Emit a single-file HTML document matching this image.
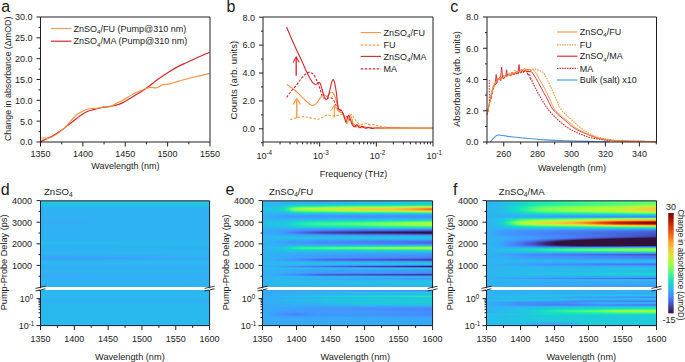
<!DOCTYPE html><html><head><meta charset="utf-8"><style>html,body{margin:0;padding:0;background:#fff;overflow:hidden;}svg{display:block;}</style></head><body><svg width="685" height="362" viewBox="0 0 685 362" font-family='"Liberation Sans", sans-serif'>
<rect width="685" height="362" fill="#fff"/>
<text x="1.3" y="11.7" font-size="16" text-anchor="start" fill="#1a1a1a" >a</text>
<text x="226.4" y="11.7" font-size="16" text-anchor="start" fill="#1a1a1a" >b</text>
<text x="450.3" y="11.7" font-size="16" text-anchor="start" fill="#1a1a1a" >c</text>
<text x="0.8" y="194.9" font-size="16" text-anchor="start" fill="#1a1a1a" >d</text>
<text x="225.5" y="194.6" font-size="16" text-anchor="start" fill="#1a1a1a" >e</text>
<text x="453.0" y="194.5" font-size="16" text-anchor="start" fill="#1a1a1a" >f</text>
<path d="M40.50,141.60 C41.75,141.02 45.65,139.23 48.00,138.10 C50.35,136.97 52.12,136.27 54.60,134.80 C57.08,133.33 60.57,130.97 62.90,129.30 C65.23,127.63 66.20,126.68 68.60,124.80 C71.00,122.92 75.07,119.72 77.30,118.00 C79.53,116.28 80.33,115.58 82.00,114.50 C83.67,113.42 85.38,112.32 87.30,111.50 C89.22,110.68 91.43,110.18 93.50,109.60 C95.57,109.02 97.90,108.40 99.70,108.00 C101.50,107.60 102.58,107.47 104.30,107.20 C106.02,106.93 108.02,106.73 110.00,106.40 C111.98,106.07 114.13,105.78 116.20,105.20 C118.27,104.62 120.33,103.90 122.40,102.90 C124.47,101.90 126.53,100.43 128.60,99.20 C130.67,97.97 132.72,96.75 134.80,95.50 C136.88,94.25 139.23,92.85 141.10,91.70 C142.97,90.55 144.15,89.93 146.00,88.60 C147.85,87.27 149.92,85.45 152.20,83.70 C154.48,81.95 156.73,80.18 159.70,78.10 C162.67,76.02 166.95,73.12 170.00,71.20 C173.05,69.28 175.38,67.97 178.00,66.60 C180.62,65.23 183.12,64.18 185.70,63.00 C188.28,61.82 190.95,60.67 193.50,59.50 C196.05,58.33 198.33,57.18 201.00,56.00 C203.67,54.82 208.08,53.00 209.50,52.40" fill="none" stroke="#d3262c" stroke-width="1.2" stroke-linejoin="round"/>
<path d="M40.50,138.40 C41.18,138.28 43.35,137.70 44.60,137.70 C45.85,137.70 46.33,138.75 48.00,138.40 C49.67,138.05 52.12,137.10 54.60,135.60 C57.08,134.10 60.57,131.40 62.90,129.40 C65.23,127.40 66.92,125.42 68.60,123.60 C70.28,121.78 71.55,120.05 73.00,118.50 C74.45,116.95 75.80,115.47 77.30,114.30 C78.80,113.13 80.33,112.33 82.00,111.50 C83.67,110.67 85.80,109.80 87.30,109.30 C88.80,108.80 89.55,108.67 91.00,108.50 C92.45,108.33 94.50,108.42 96.00,108.30 C97.50,108.18 98.62,108.08 100.00,107.80 C101.38,107.52 102.75,106.77 104.30,106.60 C105.85,106.43 107.85,107.02 109.30,106.80 C110.75,106.58 111.85,105.85 113.00,105.30 C114.15,104.75 114.63,104.32 116.20,103.50 C117.77,102.68 120.33,101.53 122.40,100.40 C124.47,99.27 126.53,97.93 128.60,96.70 C130.67,95.47 132.72,94.03 134.80,93.00 C136.88,91.97 139.23,91.23 141.10,90.50 C142.97,89.77 144.35,89.12 146.00,88.60 C147.65,88.08 149.23,87.53 151.00,87.40 C152.77,87.27 154.73,88.22 156.60,87.80 C158.47,87.38 159.97,85.55 162.20,84.90 C164.43,84.25 167.37,84.48 170.00,83.90 C172.63,83.32 175.05,82.25 178.00,81.40 C180.95,80.55 184.15,79.72 187.70,78.80 C191.25,77.88 195.67,76.80 199.30,75.90 C202.93,75.00 207.80,73.82 209.50,73.40" fill="none" stroke="#f29440" stroke-width="1.1" stroke-linejoin="round"/>
<path d="M40.5,17 H210 V142 H40.5 Z" fill="none" stroke="#231f20" stroke-width="1"/>
<line x1="36.50" y1="142.00" x2="40.50" y2="142.00" stroke="#231f20" stroke-width="1.0" />
<line x1="36.50" y1="121.17" x2="40.50" y2="121.17" stroke="#231f20" stroke-width="1.0" />
<line x1="36.50" y1="100.33" x2="40.50" y2="100.33" stroke="#231f20" stroke-width="1.0" />
<line x1="36.50" y1="79.50" x2="40.50" y2="79.50" stroke="#231f20" stroke-width="1.0" />
<line x1="36.50" y1="58.67" x2="40.50" y2="58.67" stroke="#231f20" stroke-width="1.0" />
<line x1="36.50" y1="37.83" x2="40.50" y2="37.83" stroke="#231f20" stroke-width="1.0" />
<line x1="36.50" y1="17.00" x2="40.50" y2="17.00" stroke="#231f20" stroke-width="1.0" />
<line x1="38.50" y1="131.58" x2="40.50" y2="131.58" stroke="#231f20" stroke-width="1.0" />
<line x1="38.50" y1="110.75" x2="40.50" y2="110.75" stroke="#231f20" stroke-width="1.0" />
<line x1="38.50" y1="89.92" x2="40.50" y2="89.92" stroke="#231f20" stroke-width="1.0" />
<line x1="38.50" y1="69.08" x2="40.50" y2="69.08" stroke="#231f20" stroke-width="1.0" />
<line x1="38.50" y1="48.25" x2="40.50" y2="48.25" stroke="#231f20" stroke-width="1.0" />
<line x1="38.50" y1="27.42" x2="40.50" y2="27.42" stroke="#231f20" stroke-width="1.0" />
<text x="32.5" y="145.3" font-size="9" text-anchor="end" fill="#1a1a1a" >0.0</text>
<text x="32.5" y="124.5" font-size="9" text-anchor="end" fill="#1a1a1a" >5.0</text>
<text x="32.5" y="103.6" font-size="9" text-anchor="end" fill="#1a1a1a" >10.0</text>
<text x="32.5" y="82.8" font-size="9" text-anchor="end" fill="#1a1a1a" >15.0</text>
<text x="32.5" y="62.0" font-size="9" text-anchor="end" fill="#1a1a1a" >20.0</text>
<text x="32.5" y="41.1" font-size="9" text-anchor="end" fill="#1a1a1a" >25.0</text>
<text x="32.5" y="20.3" font-size="9" text-anchor="end" fill="#1a1a1a" >30.0</text>
<line x1="40.50" y1="142.00" x2="40.50" y2="146.50" stroke="#231f20" stroke-width="1.0" />
<line x1="82.88" y1="142.00" x2="82.88" y2="146.50" stroke="#231f20" stroke-width="1.0" />
<line x1="125.25" y1="142.00" x2="125.25" y2="146.50" stroke="#231f20" stroke-width="1.0" />
<line x1="167.62" y1="142.00" x2="167.62" y2="146.50" stroke="#231f20" stroke-width="1.0" />
<line x1="210.00" y1="142.00" x2="210.00" y2="146.50" stroke="#231f20" stroke-width="1.0" />
<line x1="61.69" y1="142.00" x2="61.69" y2="144.30" stroke="#231f20" stroke-width="1.0" />
<line x1="104.06" y1="142.00" x2="104.06" y2="144.30" stroke="#231f20" stroke-width="1.0" />
<line x1="146.44" y1="142.00" x2="146.44" y2="144.30" stroke="#231f20" stroke-width="1.0" />
<line x1="188.81" y1="142.00" x2="188.81" y2="144.30" stroke="#231f20" stroke-width="1.0" />
<text x="40.5" y="157.0" font-size="9" text-anchor="middle" fill="#1a1a1a" >1350</text>
<text x="82.9" y="157.0" font-size="9" text-anchor="middle" fill="#1a1a1a" >1400</text>
<text x="125.2" y="157.0" font-size="9" text-anchor="middle" fill="#1a1a1a" >1450</text>
<text x="167.6" y="157.0" font-size="9" text-anchor="middle" fill="#1a1a1a" >1500</text>
<text x="210.0" y="157.0" font-size="9" text-anchor="middle" fill="#1a1a1a" >1550</text>
<text x="125.4" y="169.0" font-size="9" text-anchor="middle" fill="#1a1a1a" >Wavelength (nm)</text>
<text transform="translate(11,78.8) rotate(-90)" font-size="9" text-anchor="middle" fill="#1a1a1a" textLength="124.5" lengthAdjust="spacingAndGlyphs">Change in absorbance (ΔmOD)</text>
<line x1="51.00" y1="28.50" x2="71.50" y2="28.50" stroke="#f5a050" stroke-width="1.2" />
<line x1="51.00" y1="41.20" x2="71.50" y2="41.20" stroke="#d3262c" stroke-width="1.2" />
<text x="73.6" y="31.7" font-size="9" text-anchor="start" fill="#1a1a1a" >ZnSO<tspan font-size="6.1" dy="2.2">4</tspan><tspan dy="-2.2">/FU (Pump@310 nm)</tspan></text>
<text x="73.6" y="44.4" font-size="9" text-anchor="start" fill="#1a1a1a" >ZnSO<tspan font-size="6.1" dy="2.2">4</tspan><tspan dy="-2.2">/MA (Pump@310 nm)</tspan></text>
<path d="M290.00,119.80 C290.80,119.52 293.30,118.53 294.80,118.10 C296.30,117.67 297.52,117.45 299.00,117.20 C300.48,116.95 302.28,116.60 303.70,116.60 C305.12,116.60 306.18,116.95 307.50,117.20 C308.82,117.45 310.35,117.82 311.60,118.10 C312.85,118.38 313.82,118.72 315.00,118.90 C316.18,119.08 317.53,119.42 318.70,119.20 C319.87,118.98 320.82,118.23 322.00,117.60 C323.18,116.97 324.63,115.80 325.80,115.40 C326.97,115.00 327.98,115.12 329.00,115.20 C330.02,115.28 330.90,115.83 331.90,115.90 C332.90,115.97 333.82,115.73 335.00,115.60 C336.18,115.47 337.90,115.28 339.00,115.10 C340.10,114.92 340.77,114.27 341.60,114.50 C342.43,114.73 343.27,115.83 344.00,116.50 C344.73,117.17 345.25,118.58 346.00,118.50 C346.75,118.42 347.58,116.65 348.50,116.00 C349.42,115.35 350.58,114.27 351.50,114.60 C352.42,114.93 353.08,116.77 354.00,118.00 C354.92,119.23 356.00,120.92 357.00,122.00 C358.00,123.08 359.07,124.12 360.00,124.50 C360.93,124.88 361.77,124.52 362.60,124.30 C363.43,124.08 364.27,123.30 365.00,123.20 C365.73,123.10 366.17,123.47 367.00,123.70 C367.83,123.93 368.90,124.45 370.00,124.60 C371.10,124.75 372.27,124.40 373.60,124.60 C374.93,124.80 376.10,125.40 378.00,125.80 C379.90,126.20 382.17,126.67 385.00,127.00 C387.83,127.33 390.83,127.60 395.00,127.80 C399.17,128.00 403.67,128.12 410.00,128.20 C416.33,128.28 429.17,128.28 433.00,128.30" fill="none" stroke="#f5a050" stroke-width="1.15" stroke-linejoin="round" stroke-dasharray="2.6,1.4"/>
<path d="M286.60,97.30 C287.33,96.33 289.33,93.57 291.00,91.50 C292.67,89.43 295.02,86.90 296.60,84.90 C298.18,82.90 299.12,81.22 300.50,79.50 C301.88,77.78 303.48,75.78 304.90,74.60 C306.32,73.42 307.62,72.48 309.00,72.40 C310.38,72.32 311.95,72.85 313.20,74.10 C314.45,75.35 315.40,77.55 316.50,79.90 C317.60,82.25 318.83,85.43 319.80,88.20 C320.77,90.97 321.47,94.85 322.30,96.50 C323.13,98.15 323.93,97.78 324.80,98.10 C325.67,98.42 326.67,98.45 327.50,98.40 C328.33,98.35 328.88,97.70 329.80,97.80 C330.72,97.90 331.90,97.57 333.00,99.00 C334.10,100.43 335.40,104.40 336.40,106.40 C337.40,108.40 338.23,110.32 339.00,111.00 C339.77,111.68 340.33,110.00 341.00,110.50 C341.67,111.00 342.33,112.75 343.00,114.00 C343.67,115.25 344.33,117.58 345.00,118.00 C345.67,118.42 346.33,116.33 347.00,116.50 C347.67,116.67 348.33,118.17 349.00,119.00 C349.67,119.83 350.17,120.58 351.00,121.50 C351.83,122.42 352.83,123.67 354.00,124.50 C355.17,125.33 356.50,126.02 358.00,126.50 C359.50,126.98 360.17,127.15 363.00,127.40 C365.83,127.65 363.33,127.85 375.00,128.00 C386.67,128.15 423.33,128.25 433.00,128.30" fill="none" stroke="#d42a34" stroke-width="1.1" stroke-linejoin="round" stroke-dasharray="2.6,1.4"/>
<path d="M286.60,84.50 C287.72,85.25 291.08,87.28 293.30,89.00 C295.52,90.72 297.70,92.72 299.90,94.80 C302.10,96.88 304.43,99.70 306.50,101.50 C308.57,103.30 310.63,105.28 312.30,105.60 C313.97,105.92 315.12,104.78 316.50,103.40 C317.88,102.02 319.37,98.73 320.60,97.30 C321.83,95.87 322.78,94.93 323.90,94.80 C325.02,94.67 326.32,96.77 327.30,96.50 C328.28,96.23 328.98,93.90 329.80,93.20 C330.62,92.50 331.38,91.88 332.20,92.30 C333.02,92.72 333.87,93.75 334.70,95.70 C335.53,97.65 336.52,101.45 337.20,104.00 C337.88,106.55 338.25,109.58 338.80,111.00 C339.35,112.42 339.80,112.17 340.50,112.50 C341.20,112.83 342.25,112.00 343.00,113.00 C343.75,114.00 344.33,116.72 345.00,118.50 C345.67,120.28 346.10,124.22 347.00,123.70 C347.90,123.18 349.28,115.22 350.40,115.40 C351.52,115.58 352.77,122.82 353.70,124.80 C354.63,126.78 355.20,127.27 356.00,127.30 C356.80,127.33 357.67,124.92 358.50,125.00 C359.33,125.08 360.08,127.58 361.00,127.80 C361.92,128.02 363.00,126.27 364.00,126.30 C365.00,126.33 366.00,127.85 367.00,128.00 C368.00,128.15 368.83,127.15 370.00,127.20 C371.17,127.25 372.33,128.15 374.00,128.30 C375.67,128.45 377.33,128.08 380.00,128.10 C382.67,128.12 381.17,128.35 390.00,128.40 C398.83,128.45 425.83,128.40 433.00,128.40" fill="none" stroke="#f29440" stroke-width="1.1" stroke-linejoin="round"/>
<path d="M286.60,27.00 C287.33,28.75 289.33,33.68 291.00,37.50 C292.67,41.32 294.83,46.07 296.60,49.90 C298.37,53.73 299.95,56.88 301.60,60.50 C303.25,64.12 305.12,68.65 306.50,71.60 C307.88,74.55 308.78,76.27 309.90,78.20 C311.02,80.13 312.23,82.15 313.20,83.20 C314.17,84.25 314.98,84.45 315.70,84.50 C316.42,84.55 316.95,83.85 317.50,83.50 C318.05,83.15 318.50,82.32 319.00,82.40 C319.50,82.48 320.08,83.17 320.50,84.00 C320.92,84.83 320.93,85.45 321.50,87.40 C322.07,89.35 323.08,93.63 323.90,95.70 C324.72,97.77 325.57,100.08 326.40,99.80 C327.23,99.52 328.07,96.77 328.90,94.00 C329.73,91.23 330.70,85.60 331.40,83.20 C332.10,80.80 332.55,79.60 333.10,79.60 C333.65,79.60 334.15,80.93 334.70,83.20 C335.25,85.47 335.92,89.82 336.40,93.20 C336.88,96.58 337.20,100.87 337.60,103.50 C338.00,106.13 338.13,107.83 338.80,109.00 C339.47,110.17 340.73,109.33 341.60,110.50 C342.47,111.67 343.27,114.08 344.00,116.00 C344.73,117.92 345.20,122.10 346.00,122.00 C346.80,121.90 347.80,115.02 348.80,115.40 C349.80,115.78 351.05,122.40 352.00,124.30 C352.95,126.20 353.67,126.72 354.50,126.80 C355.33,126.88 356.17,124.63 357.00,124.80 C357.83,124.97 358.67,127.57 359.50,127.80 C360.33,128.03 361.08,126.12 362.00,126.20 C362.92,126.28 364.00,128.13 365.00,128.30 C366.00,128.47 366.83,127.18 368.00,127.20 C369.17,127.22 370.33,128.28 372.00,128.40 C373.67,128.52 375.67,127.90 378.00,127.90 C380.33,127.90 376.83,128.33 386.00,128.40 C395.17,128.47 425.17,128.32 433.00,128.30" fill="none" stroke="#d3262c" stroke-width="1.1" stroke-linejoin="round"/>
<path d="M374.00,128.30 C375.00,128.27 377.33,128.08 380.00,128.10 C382.67,128.12 381.17,128.35 390.00,128.40 C398.83,128.45 425.83,128.40 433.00,128.40" fill="none" stroke="#f29440" stroke-width="1.1" stroke-linejoin="round"/>
<line x1="296.20" y1="75.80" x2="296.20" y2="57.60" stroke="#d3262c" stroke-width="1.3" />
<path d="M293.20,62.40 L296.20,56.80 L299.20,62.40" fill="none" stroke="#d3262c" stroke-width="1.10" stroke-linejoin="miter"/>
<line x1="296.80" y1="118.20" x2="296.80" y2="99.40" stroke="#f5a050" stroke-width="1.5" />
<path d="M293.10,104.40 L296.80,98.60 L300.50,104.40" fill="none" stroke="#f5a050" stroke-width="1.27" stroke-linejoin="miter"/>
<line x1="334.40" y1="117.60" x2="334.40" y2="106.00" stroke="#f5a050" stroke-width="1.3" />
<path d="M330.80,110.80 L334.40,105.20 L338.00,110.80" fill="none" stroke="#f5a050" stroke-width="1.10" stroke-linejoin="miter"/>
<path d="M263,17 H433 V142 H263 Z" fill="none" stroke="#231f20" stroke-width="1"/>
<line x1="259.00" y1="128.80" x2="263.00" y2="128.80" stroke="#231f20" stroke-width="1.0" />
<line x1="259.00" y1="100.90" x2="263.00" y2="100.90" stroke="#231f20" stroke-width="1.0" />
<line x1="259.00" y1="73.00" x2="263.00" y2="73.00" stroke="#231f20" stroke-width="1.0" />
<line x1="259.00" y1="45.10" x2="263.00" y2="45.10" stroke="#231f20" stroke-width="1.0" />
<line x1="259.00" y1="17.20" x2="263.00" y2="17.20" stroke="#231f20" stroke-width="1.0" />
<line x1="261.00" y1="142.75" x2="263.00" y2="142.75" stroke="#231f20" stroke-width="1.0" />
<line x1="261.00" y1="114.85" x2="263.00" y2="114.85" stroke="#231f20" stroke-width="1.0" />
<line x1="261.00" y1="86.95" x2="263.00" y2="86.95" stroke="#231f20" stroke-width="1.0" />
<line x1="261.00" y1="59.05" x2="263.00" y2="59.05" stroke="#231f20" stroke-width="1.0" />
<line x1="261.00" y1="31.15" x2="263.00" y2="31.15" stroke="#231f20" stroke-width="1.0" />
<text x="255.0" y="132.1" font-size="9" text-anchor="end" fill="#1a1a1a" >0.0</text>
<text x="255.0" y="104.2" font-size="9" text-anchor="end" fill="#1a1a1a" >2.0</text>
<text x="255.0" y="76.3" font-size="9" text-anchor="end" fill="#1a1a1a" >4.0</text>
<text x="255.0" y="48.4" font-size="9" text-anchor="end" fill="#1a1a1a" >6.0</text>
<text x="255.0" y="20.5" font-size="9" text-anchor="end" fill="#1a1a1a" >8.0</text>
<line x1="263.00" y1="142.00" x2="263.00" y2="146.50" stroke="#231f20" stroke-width="1.0" />
<line x1="319.67" y1="142.00" x2="319.67" y2="146.50" stroke="#231f20" stroke-width="1.0" />
<line x1="376.33" y1="142.00" x2="376.33" y2="146.50" stroke="#231f20" stroke-width="1.0" />
<line x1="433.00" y1="142.00" x2="433.00" y2="146.50" stroke="#231f20" stroke-width="1.0" />
<line x1="280.06" y1="142.00" x2="280.06" y2="144.30" stroke="#231f20" stroke-width="1.0" />
<line x1="290.04" y1="142.00" x2="290.04" y2="144.30" stroke="#231f20" stroke-width="1.0" />
<line x1="297.12" y1="142.00" x2="297.12" y2="144.30" stroke="#231f20" stroke-width="1.0" />
<line x1="302.61" y1="142.00" x2="302.61" y2="144.30" stroke="#231f20" stroke-width="1.0" />
<line x1="307.10" y1="142.00" x2="307.10" y2="144.30" stroke="#231f20" stroke-width="1.0" />
<line x1="310.89" y1="142.00" x2="310.89" y2="144.30" stroke="#231f20" stroke-width="1.0" />
<line x1="314.18" y1="142.00" x2="314.18" y2="144.30" stroke="#231f20" stroke-width="1.0" />
<line x1="317.07" y1="142.00" x2="317.07" y2="144.30" stroke="#231f20" stroke-width="1.0" />
<line x1="336.73" y1="142.00" x2="336.73" y2="144.30" stroke="#231f20" stroke-width="1.0" />
<line x1="346.70" y1="142.00" x2="346.70" y2="144.30" stroke="#231f20" stroke-width="1.0" />
<line x1="353.78" y1="142.00" x2="353.78" y2="144.30" stroke="#231f20" stroke-width="1.0" />
<line x1="359.27" y1="142.00" x2="359.27" y2="144.30" stroke="#231f20" stroke-width="1.0" />
<line x1="363.76" y1="142.00" x2="363.76" y2="144.30" stroke="#231f20" stroke-width="1.0" />
<line x1="367.56" y1="142.00" x2="367.56" y2="144.30" stroke="#231f20" stroke-width="1.0" />
<line x1="370.84" y1="142.00" x2="370.84" y2="144.30" stroke="#231f20" stroke-width="1.0" />
<line x1="373.74" y1="142.00" x2="373.74" y2="144.30" stroke="#231f20" stroke-width="1.0" />
<line x1="393.39" y1="142.00" x2="393.39" y2="144.30" stroke="#231f20" stroke-width="1.0" />
<line x1="403.37" y1="142.00" x2="403.37" y2="144.30" stroke="#231f20" stroke-width="1.0" />
<line x1="410.45" y1="142.00" x2="410.45" y2="144.30" stroke="#231f20" stroke-width="1.0" />
<line x1="415.94" y1="142.00" x2="415.94" y2="144.30" stroke="#231f20" stroke-width="1.0" />
<line x1="420.43" y1="142.00" x2="420.43" y2="144.30" stroke="#231f20" stroke-width="1.0" />
<line x1="424.22" y1="142.00" x2="424.22" y2="144.30" stroke="#231f20" stroke-width="1.0" />
<line x1="427.51" y1="142.00" x2="427.51" y2="144.30" stroke="#231f20" stroke-width="1.0" />
<line x1="430.41" y1="142.00" x2="430.41" y2="144.30" stroke="#231f20" stroke-width="1.0" />
<text x="264.2" y="158.6" font-size="9" text-anchor="middle" fill="#1a1a1a">10<tspan font-size="6.3" dy="-3.2">-4</tspan></text>
<text x="320.9" y="158.6" font-size="9" text-anchor="middle" fill="#1a1a1a">10<tspan font-size="6.3" dy="-3.2">-3</tspan></text>
<text x="377.5" y="158.6" font-size="9" text-anchor="middle" fill="#1a1a1a">10<tspan font-size="6.3" dy="-3.2">-2</tspan></text>
<text x="434.2" y="158.6" font-size="9" text-anchor="middle" fill="#1a1a1a">10<tspan font-size="6.3" dy="-3.2">-1</tspan></text>
<text x="353.5" y="177.0" font-size="9" text-anchor="middle" fill="#1a1a1a" >Frequency (THz)</text>
<text transform="translate(236.8,80.2) rotate(-90)" font-size="9" text-anchor="middle" fill="#1a1a1a" textLength="78.6" lengthAdjust="spacingAndGlyphs">Counts (arb. units)</text>
<line x1="360.70" y1="32.60" x2="381.00" y2="32.60" stroke="#f29440" stroke-width="1.1" />
<line x1="360.70" y1="45.10" x2="381.00" y2="45.10" stroke="#f5a050" stroke-width="1.15" stroke-dasharray="2.6,1.4"/>
<line x1="360.70" y1="56.40" x2="381.00" y2="56.40" stroke="#d3262c" stroke-width="1.1" />
<line x1="360.70" y1="68.80" x2="381.00" y2="68.80" stroke="#d42a34" stroke-width="1.15" stroke-dasharray="2.6,1.4"/>
<text x="383.6" y="35.8" font-size="9" text-anchor="start" fill="#1a1a1a" >ZnSO<tspan font-size="6.1" dy="2.2">4</tspan><tspan dy="-2.2">/FU</tspan></text>
<text x="383.6" y="48.3" font-size="9" text-anchor="start" fill="#1a1a1a" >FU</text>
<text x="383.6" y="59.6" font-size="9" text-anchor="start" fill="#1a1a1a" >ZnSO<tspan font-size="6.1" dy="2.2">4</tspan><tspan dy="-2.2">/MA</tspan></text>
<text x="383.6" y="72.0" font-size="9" text-anchor="start" fill="#1a1a1a" >MA</text>
<path d="M487.20,114.50 L487.33,113.83 L487.52,112.89 L487.75,111.75 L488.00,110.50 L488.16,109.73 L488.33,108.90 L488.51,108.02 L488.70,107.11 L488.90,106.17 L489.10,105.23 L489.30,104.30 L489.50,103.37 L489.72,102.42 L489.93,101.46 L490.15,100.49 L490.37,99.52 L490.59,98.56 L490.80,97.60 L491.00,96.13 L491.20,97.73 L491.39,96.46 L491.58,93.66 L491.77,93.59 L491.98,92.50 L492.20,92.35 L492.48,91.84 L492.77,88.35 L493.07,87.16 L493.39,89.15 L493.70,86.85 L494.00,87.24 L494.44,83.46 L494.88,84.15 L495.32,84.33 L495.80,81.82 L496.51,83.54 L497.27,82.66 L498.00,78.91 L498.78,78.25 L500.00,79.45 L500.73,80.55 L501.62,78.16 L502.61,77.15 L503.66,77.47 L504.70,75.62 L505.70,75.90 L506.52,76.32 L507.32,76.17 L508.13,74.86 L508.95,74.49 L509.77,74.09 L510.62,74.60 L511.50,73.64 L512.42,72.33 L513.37,74.91 L514.36,73.55 L515.34,73.52 L516.33,71.55 L517.28,74.15 L518.20,73.40 L519.25,70.43 L520.31,70.90 L521.34,72.03 L522.31,71.77 L523.21,72.43 L524.00,70.52 L525.16,72.01 L525.99,71.74 L526.90,71.29 L527.31,72.84 L527.73,74.52 L528.17,75.09 L528.61,74.65 L529.07,75.80 L529.53,74.70 L530.01,76.40 L530.50,79.37 L530.86,78.73 L531.21,79.00 L531.56,79.79 L531.91,80.61 L532.27,81.46 L532.64,82.33 L533.03,83.23 L533.44,84.14 L533.86,85.08 L534.32,86.03 L534.80,87.00 L535.18,87.73 L535.57,88.48 L535.98,89.26 L536.40,90.05 L536.84,90.85 L537.29,91.67 L537.74,92.49 L538.21,93.32 L538.68,94.15 L539.15,94.98 L539.62,95.81 L540.10,96.62 L540.57,97.43 L541.04,98.22 L541.50,99.00 L541.99,99.82 L542.46,100.62 L542.93,101.42 L543.39,102.22 L543.86,103.00 L544.33,103.78 L544.80,104.56 L545.28,105.34 L545.78,106.11 L546.30,106.89 L546.83,107.66 L547.39,108.44 L547.98,109.22 L548.60,110.00 L549.14,110.65 L549.70,111.32 L550.29,111.99 L550.89,112.66 L551.51,113.34 L552.15,114.02 L552.80,114.70 L553.46,115.38 L554.12,116.05 L554.79,116.72 L555.45,117.38 L556.12,118.02 L556.77,118.65 L557.43,119.27 L558.06,119.87 L558.69,120.44 L559.30,121.00 L560.08,121.70 L560.83,122.37 L561.58,123.01 L562.32,123.63 L563.04,124.23 L563.77,124.81 L564.49,125.37 L565.22,125.92 L565.95,126.45 L566.69,126.98 L567.45,127.49 L568.21,128.00 L569.00,128.50 L569.81,128.99 L570.63,129.48 L571.47,129.95 L572.32,130.41 L573.18,130.85 L574.05,131.29 L574.92,131.71 L575.78,132.12 L576.65,132.52 L577.50,132.91 L578.35,133.28 L579.18,133.65 L580.00,134.00 L580.95,134.40 L581.88,134.78 L582.80,135.14 L583.71,135.49 L584.61,135.82 L585.51,136.14 L586.41,136.44 L587.30,136.72 L588.20,136.99 L589.09,137.25 L590.00,137.50 L590.89,137.73 L591.75,137.93 L592.59,138.12 L593.43,138.29 L594.26,138.44 L595.12,138.59 L596.00,138.73 L596.91,138.87 L597.88,139.01 L598.90,139.15 L600.00,139.30 L600.75,139.41 L601.45,139.52 L602.12,139.63 L602.77,139.74 L603.41,139.84 L604.07,139.95 L604.76,140.06 L605.50,140.17 L606.30,140.27 L607.18,140.37 L608.15,140.47 L609.23,140.57 L610.45,140.66 L611.80,140.74 L613.31,140.83 L615.00,140.90 L615.64,140.92 L616.33,140.95 L617.05,140.97 L617.82,141.00 L618.62,141.02 L619.46,141.04 L620.33,141.06 L621.23,141.08 L622.16,141.10 L623.11,141.13 L624.09,141.14 L625.09,141.16 L626.11,141.18 L627.15,141.20 L628.20,141.22 L629.27,141.24 L630.35,141.25 L631.43,141.27 L632.53,141.29 L633.63,141.30 L634.73,141.32 L635.84,141.34 L636.94,141.35 L638.04,141.36 L639.13,141.38 L640.21,141.39 L641.29,141.41 L642.35,141.42 L643.40,141.43 L644.43,141.44 L645.45,141.46 L646.44,141.47 L647.41,141.48 L648.36,141.49 L649.28,141.50 L650.17,141.51 L651.03,141.52 L651.85,141.53 L652.64,141.54 L653.39,141.55 L654.11,141.56 L654.78,141.57 L655.40,141.58 L655.98,141.58 L656.52,141.59 L657.00,141.60" fill="none" stroke="#d42a34" stroke-width="1.15" stroke-linejoin="round" stroke-dasharray="1.6,1.0"/>
<path d="M487.20,114.50 L487.33,113.83 L487.52,112.89 L487.75,111.75 L488.00,110.50 L488.16,109.73 L488.33,108.90 L488.51,108.02 L488.70,107.11 L488.90,106.17 L489.10,105.23 L489.30,104.30 L489.50,103.37 L489.72,102.42 L489.93,101.46 L490.15,100.49 L490.37,99.52 L490.59,98.56 L490.80,97.60 L491.00,98.70 L491.20,97.71 L491.39,93.89 L491.58,93.02 L491.77,94.48 L491.98,93.24 L492.20,92.14 L492.48,89.98 L492.77,89.95 L493.07,89.00 L493.39,88.00 L493.70,85.80 L494.00,85.88 L494.44,84.71 L494.88,84.86 L495.32,84.92 L495.80,84.04 L496.51,81.88 L497.27,80.84 L498.00,79.66 L498.78,78.28 L500.00,77.59 L500.73,78.65 L501.62,77.80 L502.61,77.59 L503.66,78.80 L504.70,77.20 L505.70,76.89 L506.52,75.50 L507.32,74.46 L508.13,75.07 L508.95,74.10 L509.77,74.94 L510.62,76.14 L511.50,74.76 L512.42,72.83 L513.37,74.76 L514.36,74.10 L515.34,73.56 L516.33,73.78 L517.28,73.02 L518.20,72.83 L519.24,71.14 L520.27,72.88 L521.27,72.57 L522.23,69.80 L523.15,71.53 L524.00,71.29 L525.14,70.39 L526.15,70.62 L527.08,70.59 L528.00,72.16 L528.86,70.96 L529.66,72.20 L530.48,71.05 L531.40,71.70 L531.86,72.21 L532.34,72.82 L532.84,73.51 L533.36,74.27 L533.88,75.07 L534.41,75.91 L534.95,76.77 L535.48,77.64 L536.00,78.50 L536.46,79.27 L536.91,80.04 L537.35,80.83 L537.80,81.63 L538.24,82.46 L538.70,83.30 L539.17,84.18 L539.66,85.08 L540.16,86.02 L540.70,87.00 L541.10,87.73 L541.51,88.49 L541.94,89.27 L542.38,90.07 L542.82,90.89 L543.28,91.72 L543.74,92.56 L544.20,93.41 L544.67,94.27 L545.14,95.13 L545.61,95.98 L546.08,96.83 L546.54,97.67 L547.00,98.50 L547.44,99.32 L547.87,100.15 L548.28,100.97 L548.67,101.80 L549.07,102.63 L549.47,103.45 L549.88,104.28 L550.30,105.11 L550.74,105.93 L551.21,106.75 L551.72,107.57 L552.27,108.38 L552.86,109.19 L553.50,110.00 L554.04,110.63 L554.63,111.26 L555.25,111.90 L555.90,112.55 L556.58,113.19 L557.29,113.83 L558.01,114.48 L558.74,115.12 L559.48,115.75 L560.23,116.38 L560.97,117.00 L561.71,117.61 L562.45,118.21 L563.16,118.80 L563.86,119.38 L564.54,119.93 L565.19,120.48 L565.80,121.00 L566.60,121.70 L567.36,122.37 L568.09,123.01 L568.78,123.63 L569.45,124.23 L570.12,124.81 L570.77,125.37 L571.43,125.92 L572.09,126.45 L572.78,126.98 L573.48,127.49 L574.22,128.00 L575.00,128.50 L575.76,128.96 L576.55,129.41 L577.37,129.85 L578.20,130.27 L579.06,130.69 L579.92,131.10 L580.79,131.49 L581.66,131.88 L582.52,132.26 L583.38,132.63 L584.22,132.98 L585.04,133.33 L585.83,133.67 L586.60,134.00 L587.54,134.41 L588.45,134.79 L589.33,135.16 L590.20,135.52 L591.04,135.86 L591.88,136.19 L592.70,136.50 L593.52,136.79 L594.35,137.07 L595.17,137.34 L596.00,137.60 L596.89,137.86 L597.73,138.10 L598.54,138.31 L599.34,138.50 L600.15,138.68 L600.99,138.85 L601.87,139.01 L602.82,139.17 L603.86,139.33 L605.00,139.50 L605.73,139.61 L606.44,139.71 L607.13,139.82 L607.81,139.92 L608.51,140.03 L609.22,140.13 L609.96,140.23 L610.75,140.33 L611.59,140.43 L612.50,140.52 L613.49,140.61 L614.56,140.70 L615.74,140.78 L617.03,140.86 L618.45,140.93 L620.00,141.00 L620.66,141.03 L621.36,141.05 L622.11,141.07 L622.89,141.10 L623.72,141.12 L624.58,141.14 L625.47,141.16 L626.40,141.18 L627.35,141.20 L628.32,141.22 L629.32,141.24 L630.34,141.26 L631.38,141.28 L632.43,141.29 L633.49,141.31 L634.56,141.33 L635.64,141.34 L636.72,141.36 L637.81,141.37 L638.90,141.39 L639.98,141.40 L641.05,141.41 L642.12,141.43 L643.18,141.44 L644.22,141.45 L645.25,141.46 L646.26,141.47 L647.25,141.49 L648.21,141.50 L649.15,141.51 L650.06,141.52 L650.94,141.53 L651.78,141.53 L652.59,141.54 L653.36,141.55 L654.08,141.56 L654.77,141.57 L655.40,141.58 L655.99,141.58 L656.52,141.59 L657.00,141.60" fill="none" stroke="#d3262c" stroke-width="1.0" stroke-linejoin="round"/>
<path d="M487.20,114.50 L487.33,113.83 L487.52,112.89 L487.75,111.75 L488.00,110.50 L488.16,109.73 L488.33,108.90 L488.51,108.02 L488.70,107.11 L488.90,106.17 L489.10,105.23 L489.30,104.30 L489.50,103.37 L489.72,102.42 L489.93,101.46 L490.15,100.49 L490.37,99.52 L490.59,98.56 L490.80,97.60 L491.00,95.40 L491.20,95.42 L491.39,93.89 L491.58,93.68 L491.77,92.80 L491.98,90.09 L492.20,89.04 L492.48,90.68 L492.77,87.84 L493.07,86.81 L493.39,88.33 L493.70,85.79 L494.00,86.18 L494.44,83.98 L494.88,83.59 L495.32,81.22 L495.80,82.03 L496.51,81.91 L497.27,80.09 L498.00,80.17 L498.78,79.31 L500.00,76.70 L500.73,78.59 L501.62,77.68 L502.61,76.34 L503.66,75.05 L504.70,77.29 L505.70,75.61 L506.52,76.05 L507.32,76.20 L508.13,75.31 L508.95,75.61 L509.77,73.57 L510.62,74.51 L511.50,73.02 L512.42,74.25 L513.37,73.71 L514.36,70.86 L515.34,70.64 L516.33,70.57 L517.28,72.66 L518.20,70.70 L519.23,71.02 L520.23,69.73 L521.21,70.17 L522.16,69.58 L523.09,69.29 L524.00,69.87 L525.07,69.70 L526.11,70.58 L527.11,69.76 L528.08,70.46 L529.00,70.14 L530.06,70.48 L531.04,69.24 L532.00,69.20 L533.00,69.20 L534.03,69.20 L535.06,69.21 L536.13,69.32 L537.30,69.60 L538.17,69.90 L539.12,70.28 L540.11,70.72 L541.08,71.23 L541.99,71.79 L542.80,72.40 L543.49,73.05 L544.09,73.75 L544.62,74.50 L545.14,75.32 L545.65,76.21 L546.20,77.20 L546.57,77.89 L546.93,78.60 L547.27,79.34 L547.62,80.11 L547.98,80.92 L548.36,81.79 L548.77,82.71 L549.21,83.72 L549.70,84.80 L550.02,85.50 L550.36,86.24 L550.71,87.02 L551.08,87.83 L551.46,88.66 L551.85,89.52 L552.25,90.40 L552.65,91.29 L553.06,92.19 L553.47,93.09 L553.89,93.99 L554.30,94.89 L554.70,95.78 L555.11,96.65 L555.50,97.50 L555.88,98.34 L556.24,99.19 L556.58,100.04 L556.92,100.89 L557.25,101.74 L557.58,102.59 L557.92,103.43 L558.27,104.28 L558.63,105.12 L559.01,105.95 L559.42,106.78 L559.86,107.60 L560.33,108.41 L560.84,109.21 L561.40,110.00 L561.94,110.69 L562.52,111.39 L563.14,112.08 L563.79,112.78 L564.48,113.47 L565.18,114.15 L565.91,114.84 L566.64,115.51 L567.38,116.18 L568.13,116.83 L568.87,117.47 L569.60,118.10 L570.31,118.72 L571.00,119.32 L571.67,119.90 L572.30,120.46 L572.90,121.00 L573.76,121.79 L574.56,122.53 L575.32,123.22 L576.04,123.88 L576.73,124.51 L577.42,125.11 L578.09,125.70 L578.78,126.27 L579.49,126.84 L580.22,127.42 L581.00,128.00 L581.74,128.54 L582.50,129.09 L583.28,129.63 L584.06,130.16 L584.86,130.69 L585.66,131.21 L586.47,131.72 L587.28,132.21 L588.09,132.69 L588.90,133.15 L589.70,133.59 L590.50,134.00 L591.36,134.42 L592.22,134.82 L593.08,135.20 L593.93,135.55 L594.79,135.89 L595.65,136.21 L596.51,136.51 L597.37,136.80 L598.24,137.08 L599.12,137.34 L600.00,137.60 L600.87,137.84 L601.72,138.07 L602.56,138.27 L603.39,138.47 L604.23,138.65 L605.09,138.81 L605.97,138.98 L606.90,139.13 L607.87,139.29 L608.90,139.44 L610.00,139.60 L610.77,139.71 L611.52,139.82 L612.26,139.93 L613.00,140.03 L613.75,140.14 L614.51,140.24 L615.30,140.34 L616.12,140.44 L616.99,140.54 L617.91,140.63 L618.89,140.72 L619.94,140.81 L621.06,140.89 L622.28,140.96 L623.59,141.03 L625.00,141.10 L625.70,141.13 L626.45,141.15 L627.24,141.18 L628.08,141.20 L628.96,141.23 L629.87,141.25 L630.82,141.27 L631.80,141.29 L632.81,141.31 L633.84,141.33 L634.88,141.35 L635.95,141.36 L637.03,141.38 L638.11,141.40 L639.20,141.41 L640.30,141.42 L641.39,141.44 L642.48,141.45 L643.56,141.46 L644.63,141.47 L645.69,141.48 L646.73,141.49 L647.74,141.50 L648.73,141.51 L649.69,141.52 L650.62,141.53 L651.52,141.54 L652.38,141.55 L653.19,141.56 L653.96,141.56 L654.68,141.57 L655.35,141.58 L655.96,141.59 L656.51,141.59 L657.00,141.60" fill="none" stroke="#f5a050" stroke-width="1.2" stroke-linejoin="round" stroke-dasharray="1.6,1.0"/>
<path d="M487.20,114.50 L487.33,113.83 L487.52,112.89 L487.75,111.75 L488.00,110.50 L488.16,109.73 L488.33,108.90 L488.51,108.02 L488.70,107.11 L488.90,106.17 L489.10,105.23 L489.30,104.30 L489.50,103.37 L489.72,102.42 L489.93,101.46 L490.15,100.49 L490.37,99.52 L490.59,98.56 L490.80,97.60 L491.00,95.85 L491.20,94.48 L491.39,94.39 L491.58,92.71 L491.77,91.50 L491.98,91.59 L492.20,92.25 L492.48,90.90 L492.77,89.81 L493.07,87.22 L493.39,87.25 L493.70,85.62 L494.00,84.52 L494.44,83.27 L494.88,82.69 L495.32,84.02 L495.80,82.99 L496.51,82.06 L497.27,81.32 L498.00,78.88 L498.78,78.59 L500.00,78.88 L500.73,78.86 L501.62,78.85 L502.61,78.52 L503.66,75.71 L504.70,76.84 L505.70,76.62 L506.52,75.76 L507.32,74.42 L508.13,74.95 L508.95,73.43 L509.77,75.61 L510.62,75.04 L511.50,73.74 L512.42,72.65 L513.37,74.13 L514.36,72.76 L515.34,73.35 L516.33,72.92 L517.28,71.60 L518.20,71.04 L519.24,71.31 L520.27,70.54 L521.27,69.50 L522.23,69.73 L523.15,71.08 L524.00,68.63 L525.08,68.50 L526.00,70.17 L526.92,69.12 L528.00,69.90 L528.87,69.67 L529.83,69.18 L530.84,71.05 L531.86,69.57 L532.86,69.79 L533.80,70.30 L534.33,70.77 L534.85,71.36 L535.36,72.04 L535.86,72.80 L536.35,73.62 L536.84,74.48 L537.33,75.37 L537.81,76.26 L538.30,77.14 L538.80,78.00 L539.25,78.76 L539.70,79.52 L540.14,80.29 L540.59,81.07 L541.03,81.86 L541.48,82.67 L541.93,83.49 L542.39,84.33 L542.85,85.19 L543.32,86.08 L543.80,87.00 L544.19,87.74 L544.58,88.51 L544.98,89.30 L545.38,90.10 L545.78,90.92 L546.19,91.75 L546.61,92.59 L547.02,93.44 L547.44,94.29 L547.85,95.14 L548.27,95.99 L548.68,96.84 L549.09,97.67 L549.50,98.50 L549.89,99.32 L550.25,100.15 L550.60,100.97 L550.93,101.80 L551.26,102.63 L551.59,103.45 L551.92,104.28 L552.28,105.11 L552.66,105.93 L553.08,106.75 L553.53,107.57 L554.03,108.38 L554.58,109.19 L555.20,110.00 L555.73,110.63 L556.31,111.26 L556.93,111.90 L557.58,112.55 L558.27,113.19 L558.98,113.83 L559.72,114.48 L560.46,115.12 L561.23,115.75 L561.99,116.38 L562.76,117.00 L563.52,117.61 L564.27,118.21 L565.01,118.80 L565.72,119.38 L566.41,119.93 L567.07,120.48 L567.70,121.00 L568.52,121.70 L569.29,122.37 L570.03,123.01 L570.75,123.63 L571.44,124.23 L572.11,124.81 L572.78,125.37 L573.45,125.92 L574.13,126.45 L574.81,126.98 L575.51,127.49 L576.24,128.00 L577.00,128.50 L577.79,128.99 L578.61,129.48 L579.44,129.94 L580.29,130.40 L581.16,130.85 L582.03,131.28 L582.90,131.70 L583.77,132.11 L584.63,132.51 L585.47,132.90 L586.31,133.28 L587.12,133.64 L587.90,134.00 L588.88,134.44 L589.82,134.87 L590.73,135.27 L591.63,135.65 L592.51,136.02 L593.38,136.37 L594.26,136.70 L595.15,137.01 L596.06,137.31 L597.00,137.60 L597.86,137.84 L598.70,138.07 L599.53,138.27 L600.36,138.47 L601.20,138.65 L602.07,138.81 L602.96,138.98 L603.89,139.13 L604.87,139.29 L605.90,139.44 L607.00,139.60 L607.76,139.71 L608.50,139.82 L609.22,139.93 L609.93,140.03 L610.65,140.14 L611.38,140.24 L612.14,140.34 L612.94,140.44 L613.78,140.54 L614.69,140.63 L615.67,140.72 L616.73,140.81 L617.88,140.89 L619.13,140.96 L620.50,141.03 L622.00,141.10 L622.68,141.13 L623.42,141.15 L624.19,141.17 L625.02,141.20 L625.88,141.22 L626.77,141.24 L627.71,141.26 L628.67,141.28 L629.66,141.30 L630.67,141.32 L631.71,141.33 L632.77,141.35 L633.84,141.36 L634.93,141.38 L636.02,141.39 L637.12,141.41 L638.23,141.42 L639.33,141.43 L640.44,141.44 L641.54,141.46 L642.63,141.47 L643.71,141.48 L644.77,141.49 L645.82,141.50 L646.85,141.50 L647.85,141.51 L648.83,141.52 L649.78,141.53 L650.70,141.54 L651.58,141.55 L652.42,141.55 L653.22,141.56 L653.98,141.57 L654.69,141.57 L655.35,141.58 L655.96,141.59 L656.51,141.59 L657.00,141.60" fill="none" stroke="#f29440" stroke-width="1.0" stroke-linejoin="round"/>
<path d="M500.6,77.5 L501.6,67 L502.6,77 M505.8,76 L506.6,69.8 L507.4,75.5 M495.4,81.5 L496.2,74.4 L497,81 M518.3,71 L519,64.5 L519.8,70.8" fill="none" stroke="#d3262c" stroke-width="0.9"/>
<path d="M489.3,101 L489.3,80" fill="none" stroke="#d42a34" stroke-width="1.0" stroke-dasharray="1.7,1.1"/>
<path d="M490.00,142.00 C490.63,141.35 492.63,139.22 493.80,138.10 C494.97,136.98 495.83,135.78 497.00,135.30 C498.17,134.82 498.42,134.95 500.80,135.20 C503.18,135.45 507.37,136.32 511.30,136.80 C515.23,137.28 520.03,137.70 524.40,138.10 C528.77,138.50 534.07,138.90 537.50,139.20 C540.93,139.50 540.42,139.63 545.00,139.90 C549.58,140.17 557.50,140.55 565.00,140.80 C572.50,141.05 582.50,141.23 590.00,141.40 C597.50,141.57 606.67,141.73 610.00,141.80" fill="none" stroke="#4a94dc" stroke-width="1.1" stroke-linejoin="round"/>
<path d="M487,17 H656.5 V142 H487 Z" fill="none" stroke="#231f20" stroke-width="1"/>
<line x1="483.00" y1="142.00" x2="487.00" y2="142.00" stroke="#231f20" stroke-width="1.0" />
<line x1="483.00" y1="110.75" x2="487.00" y2="110.75" stroke="#231f20" stroke-width="1.0" />
<line x1="483.00" y1="79.50" x2="487.00" y2="79.50" stroke="#231f20" stroke-width="1.0" />
<line x1="483.00" y1="48.25" x2="487.00" y2="48.25" stroke="#231f20" stroke-width="1.0" />
<line x1="483.00" y1="17.00" x2="487.00" y2="17.00" stroke="#231f20" stroke-width="1.0" />
<line x1="485.00" y1="126.38" x2="487.00" y2="126.38" stroke="#231f20" stroke-width="1.0" />
<line x1="485.00" y1="95.12" x2="487.00" y2="95.12" stroke="#231f20" stroke-width="1.0" />
<line x1="485.00" y1="63.88" x2="487.00" y2="63.88" stroke="#231f20" stroke-width="1.0" />
<line x1="485.00" y1="32.62" x2="487.00" y2="32.62" stroke="#231f20" stroke-width="1.0" />
<text x="478.5" y="145.3" font-size="9" text-anchor="end" fill="#1a1a1a" >0.0</text>
<text x="478.5" y="114.0" font-size="9" text-anchor="end" fill="#1a1a1a" >2.0</text>
<text x="478.5" y="82.8" font-size="9" text-anchor="end" fill="#1a1a1a" >4.0</text>
<text x="478.5" y="51.5" font-size="9" text-anchor="end" fill="#1a1a1a" >6.0</text>
<text x="478.5" y="20.3" font-size="9" text-anchor="end" fill="#1a1a1a" >8.0</text>
<line x1="503.75" y1="142.00" x2="503.75" y2="146.50" stroke="#231f20" stroke-width="1.0" />
<line x1="537.65" y1="142.00" x2="537.65" y2="146.50" stroke="#231f20" stroke-width="1.0" />
<line x1="571.55" y1="142.00" x2="571.55" y2="146.50" stroke="#231f20" stroke-width="1.0" />
<line x1="605.45" y1="142.00" x2="605.45" y2="146.50" stroke="#231f20" stroke-width="1.0" />
<line x1="639.35" y1="142.00" x2="639.35" y2="146.50" stroke="#231f20" stroke-width="1.0" />
<line x1="486.80" y1="142.00" x2="486.80" y2="144.30" stroke="#231f20" stroke-width="1.0" />
<line x1="520.70" y1="142.00" x2="520.70" y2="144.30" stroke="#231f20" stroke-width="1.0" />
<line x1="554.60" y1="142.00" x2="554.60" y2="144.30" stroke="#231f20" stroke-width="1.0" />
<line x1="588.50" y1="142.00" x2="588.50" y2="144.30" stroke="#231f20" stroke-width="1.0" />
<line x1="622.40" y1="142.00" x2="622.40" y2="144.30" stroke="#231f20" stroke-width="1.0" />
<line x1="656.30" y1="142.00" x2="656.30" y2="144.30" stroke="#231f20" stroke-width="1.0" />
<text x="503.8" y="157.0" font-size="9" text-anchor="middle" fill="#1a1a1a" >260</text>
<text x="537.6" y="157.0" font-size="9" text-anchor="middle" fill="#1a1a1a" >280</text>
<text x="571.5" y="157.0" font-size="9" text-anchor="middle" fill="#1a1a1a" >300</text>
<text x="605.5" y="157.0" font-size="9" text-anchor="middle" fill="#1a1a1a" >320</text>
<text x="639.4" y="157.0" font-size="9" text-anchor="middle" fill="#1a1a1a" >340</text>
<text x="572.0" y="170.6" font-size="9" text-anchor="middle" fill="#1a1a1a" >Wavelength (nm)</text>
<text transform="translate(459.6,79) rotate(-90)" font-size="9" text-anchor="middle" fill="#1a1a1a" textLength="95.6" lengthAdjust="spacingAndGlyphs">Absorbance (arb. units)</text>
<line x1="557.00" y1="32.00" x2="577.50" y2="32.00" stroke="#f29440" stroke-width="1.1" />
<line x1="557.00" y1="44.80" x2="577.50" y2="44.80" stroke="#f5a050" stroke-width="1.3" stroke-dasharray="1.5,1.0"/>
<line x1="557.00" y1="56.20" x2="577.50" y2="56.20" stroke="#d3262c" stroke-width="1.1" />
<line x1="557.00" y1="68.40" x2="577.50" y2="68.40" stroke="#d42a34" stroke-width="1.3" stroke-dasharray="1.5,1.0"/>
<line x1="557.00" y1="80.00" x2="577.50" y2="80.00" stroke="#4a94dc" stroke-width="1.1" />
<text x="579.8" y="35.2" font-size="9" text-anchor="start" fill="#1a1a1a" >ZnSO<tspan font-size="6.1" dy="2.2">4</tspan><tspan dy="-2.2">/FU</tspan></text>
<text x="579.8" y="48.0" font-size="9" text-anchor="start" fill="#1a1a1a" >FU</text>
<text x="579.8" y="59.4" font-size="9" text-anchor="start" fill="#1a1a1a" >ZnSO<tspan font-size="6.1" dy="2.2">4</tspan><tspan dy="-2.2">/MA</tspan></text>
<text x="579.8" y="71.6" font-size="9" text-anchor="start" fill="#1a1a1a" >MA</text>
<text x="579.8" y="83.2" font-size="9" text-anchor="start" fill="#1a1a1a" >Bulk (salt) x10</text>
<defs><linearGradient id="d0"><stop offset="0.000" stop-color="#31aff5"/><stop offset="0.047" stop-color="#31aff5"/><stop offset="0.082" stop-color="#31aff5"/><stop offset="0.106" stop-color="#31aff5"/><stop offset="0.129" stop-color="#31aff5"/><stop offset="0.153" stop-color="#31aff5"/><stop offset="0.176" stop-color="#31aff5"/><stop offset="0.200" stop-color="#31aff5"/><stop offset="0.235" stop-color="#31aff5"/><stop offset="0.282" stop-color="#31aff5"/><stop offset="0.341" stop-color="#2fb2f4"/><stop offset="0.412" stop-color="#2fb2f4"/><stop offset="0.500" stop-color="#2fb2f4"/><stop offset="0.588" stop-color="#2fb2f4"/><stop offset="0.676" stop-color="#2fb2f4"/><stop offset="0.765" stop-color="#2fb2f4"/><stop offset="0.853" stop-color="#2fb2f4"/><stop offset="0.929" stop-color="#2fb2f4"/><stop offset="1.000" stop-color="#2fb2f4"/></linearGradient><linearGradient id="d1"><stop offset="0.000" stop-color="#35abf8"/><stop offset="0.047" stop-color="#33adf7"/><stop offset="0.082" stop-color="#33adf7"/><stop offset="0.106" stop-color="#33adf7"/><stop offset="0.129" stop-color="#33adf7"/><stop offset="0.153" stop-color="#33adf7"/><stop offset="0.176" stop-color="#33adf7"/><stop offset="0.200" stop-color="#33adf7"/><stop offset="0.235" stop-color="#33adf7"/><stop offset="0.282" stop-color="#31aff5"/><stop offset="0.341" stop-color="#2fb2f4"/><stop offset="0.412" stop-color="#2fb2f4"/><stop offset="0.500" stop-color="#2fb2f4"/><stop offset="0.588" stop-color="#2fb2f4"/><stop offset="0.676" stop-color="#2fb2f4"/><stop offset="0.765" stop-color="#2fb2f4"/><stop offset="0.853" stop-color="#2fb2f4"/><stop offset="0.929" stop-color="#2fb2f4"/><stop offset="1.000" stop-color="#2fb2f4"/></linearGradient><linearGradient id="d2"><stop offset="0.000" stop-color="#37a8fa"/><stop offset="0.047" stop-color="#37a8fa"/><stop offset="0.082" stop-color="#37a8fa"/><stop offset="0.106" stop-color="#37a8fa"/><stop offset="0.129" stop-color="#35abf8"/><stop offset="0.153" stop-color="#35abf8"/><stop offset="0.176" stop-color="#35abf8"/><stop offset="0.200" stop-color="#35abf8"/><stop offset="0.235" stop-color="#33adf7"/><stop offset="0.282" stop-color="#33adf7"/><stop offset="0.341" stop-color="#31aff5"/><stop offset="0.412" stop-color="#2fb2f4"/><stop offset="0.500" stop-color="#2fb2f4"/><stop offset="0.588" stop-color="#2fb2f4"/><stop offset="0.676" stop-color="#2fb2f4"/><stop offset="0.765" stop-color="#2fb2f4"/><stop offset="0.853" stop-color="#2fb2f4"/><stop offset="0.929" stop-color="#2fb2f4"/><stop offset="1.000" stop-color="#2fb2f4"/></linearGradient><linearGradient id="d3"><stop offset="0.000" stop-color="#35abf8"/><stop offset="0.047" stop-color="#33adf7"/><stop offset="0.082" stop-color="#33adf7"/><stop offset="0.106" stop-color="#33adf7"/><stop offset="0.129" stop-color="#33adf7"/><stop offset="0.153" stop-color="#33adf7"/><stop offset="0.176" stop-color="#33adf7"/><stop offset="0.200" stop-color="#33adf7"/><stop offset="0.235" stop-color="#33adf7"/><stop offset="0.282" stop-color="#31aff5"/><stop offset="0.341" stop-color="#2fb2f4"/><stop offset="0.412" stop-color="#2fb2f4"/><stop offset="0.500" stop-color="#2fb2f4"/><stop offset="0.588" stop-color="#2fb2f4"/><stop offset="0.676" stop-color="#2fb2f4"/><stop offset="0.765" stop-color="#2fb2f4"/><stop offset="0.853" stop-color="#2fb2f4"/><stop offset="0.929" stop-color="#2fb2f4"/><stop offset="1.000" stop-color="#2fb2f4"/></linearGradient><linearGradient id="d4"><stop offset="0.000" stop-color="#31aff5"/><stop offset="0.047" stop-color="#31aff5"/><stop offset="0.082" stop-color="#31aff5"/><stop offset="0.106" stop-color="#31aff5"/><stop offset="0.129" stop-color="#31aff5"/><stop offset="0.153" stop-color="#31aff5"/><stop offset="0.176" stop-color="#31aff5"/><stop offset="0.200" stop-color="#31aff5"/><stop offset="0.235" stop-color="#31aff5"/><stop offset="0.282" stop-color="#31aff5"/><stop offset="0.341" stop-color="#2fb2f4"/><stop offset="0.412" stop-color="#2fb2f4"/><stop offset="0.500" stop-color="#2fb2f4"/><stop offset="0.588" stop-color="#2fb2f4"/><stop offset="0.676" stop-color="#2fb2f4"/><stop offset="0.765" stop-color="#2fb2f4"/><stop offset="0.853" stop-color="#2fb2f4"/><stop offset="0.929" stop-color="#2fb2f4"/><stop offset="1.000" stop-color="#2fb2f4"/></linearGradient><linearGradient id="d5"><stop offset="0.000" stop-color="#28bceb"/><stop offset="0.047" stop-color="#28bceb"/><stop offset="0.082" stop-color="#28bceb"/><stop offset="0.106" stop-color="#28bceb"/><stop offset="0.129" stop-color="#28bceb"/><stop offset="0.153" stop-color="#28bceb"/><stop offset="0.176" stop-color="#28bceb"/><stop offset="0.200" stop-color="#28bceb"/><stop offset="0.235" stop-color="#28bceb"/><stop offset="0.282" stop-color="#28bceb"/><stop offset="0.341" stop-color="#28bceb"/><stop offset="0.412" stop-color="#28bceb"/><stop offset="0.500" stop-color="#2ab9ee"/><stop offset="0.588" stop-color="#2ab9ee"/><stop offset="0.676" stop-color="#2ab9ee"/><stop offset="0.765" stop-color="#2ab9ee"/><stop offset="0.853" stop-color="#2ab9ee"/><stop offset="0.929" stop-color="#2ab9ee"/><stop offset="1.000" stop-color="#2ab9ee"/></linearGradient><linearGradient id="d6"><stop offset="0.000" stop-color="#28bceb"/><stop offset="0.047" stop-color="#28bceb"/><stop offset="0.082" stop-color="#28bceb"/><stop offset="0.106" stop-color="#28bceb"/><stop offset="0.129" stop-color="#28bceb"/><stop offset="0.153" stop-color="#28bceb"/><stop offset="0.176" stop-color="#28bceb"/><stop offset="0.200" stop-color="#28bceb"/><stop offset="0.235" stop-color="#28bceb"/><stop offset="0.282" stop-color="#28bceb"/><stop offset="0.341" stop-color="#28bceb"/><stop offset="0.412" stop-color="#28bceb"/><stop offset="0.500" stop-color="#28bceb"/><stop offset="0.588" stop-color="#28bceb"/><stop offset="0.676" stop-color="#28bceb"/><stop offset="0.765" stop-color="#28bceb"/><stop offset="0.853" stop-color="#28bceb"/><stop offset="0.929" stop-color="#2ab9ee"/><stop offset="1.000" stop-color="#2ab9ee"/></linearGradient><linearGradient id="d7"><stop offset="0.000" stop-color="#2ab9ee"/><stop offset="0.047" stop-color="#2ab9ee"/><stop offset="0.082" stop-color="#2ab9ee"/><stop offset="0.106" stop-color="#2ab9ee"/><stop offset="0.129" stop-color="#2ab9ee"/><stop offset="0.153" stop-color="#2ab9ee"/><stop offset="0.176" stop-color="#2ab9ee"/><stop offset="0.200" stop-color="#2ab9ee"/><stop offset="0.235" stop-color="#2ab9ee"/><stop offset="0.282" stop-color="#2ab9ee"/><stop offset="0.341" stop-color="#2ab9ee"/><stop offset="0.412" stop-color="#2ab9ee"/><stop offset="0.500" stop-color="#2ab9ee"/><stop offset="0.588" stop-color="#2ab9ee"/><stop offset="0.676" stop-color="#2ab9ee"/><stop offset="0.765" stop-color="#2ab9ee"/><stop offset="0.853" stop-color="#2ab9ee"/><stop offset="0.929" stop-color="#2cb7f0"/><stop offset="1.000" stop-color="#2cb7f0"/></linearGradient><linearGradient id="d8"><stop offset="0.000" stop-color="#2fb2f4"/><stop offset="0.047" stop-color="#2fb2f4"/><stop offset="0.082" stop-color="#2fb2f4"/><stop offset="0.106" stop-color="#2fb2f4"/><stop offset="0.129" stop-color="#2fb2f4"/><stop offset="0.153" stop-color="#2fb2f4"/><stop offset="0.176" stop-color="#2fb2f4"/><stop offset="0.200" stop-color="#2fb2f4"/><stop offset="0.235" stop-color="#2fb2f4"/><stop offset="0.282" stop-color="#2fb2f4"/><stop offset="0.341" stop-color="#2fb2f4"/><stop offset="0.412" stop-color="#2fb2f4"/><stop offset="0.500" stop-color="#2fb2f4"/><stop offset="0.588" stop-color="#2fb2f4"/><stop offset="0.676" stop-color="#2fb2f4"/><stop offset="0.765" stop-color="#2eb4f2"/><stop offset="0.853" stop-color="#2eb4f2"/><stop offset="0.929" stop-color="#2eb4f2"/><stop offset="1.000" stop-color="#2eb4f2"/></linearGradient><linearGradient id="d9"><stop offset="0.000" stop-color="#2eb4f2"/><stop offset="0.047" stop-color="#2eb4f2"/><stop offset="0.082" stop-color="#2eb4f2"/><stop offset="0.106" stop-color="#2eb4f2"/><stop offset="0.129" stop-color="#2eb4f2"/><stop offset="0.153" stop-color="#2eb4f2"/><stop offset="0.176" stop-color="#2eb4f2"/><stop offset="0.200" stop-color="#2eb4f2"/><stop offset="0.235" stop-color="#2eb4f2"/><stop offset="0.282" stop-color="#2eb4f2"/><stop offset="0.341" stop-color="#2eb4f2"/><stop offset="0.412" stop-color="#2eb4f2"/><stop offset="0.500" stop-color="#2cb7f0"/><stop offset="0.588" stop-color="#2cb7f0"/><stop offset="0.676" stop-color="#2cb7f0"/><stop offset="0.765" stop-color="#2cb7f0"/><stop offset="0.853" stop-color="#2cb7f0"/><stop offset="0.929" stop-color="#2cb7f0"/><stop offset="1.000" stop-color="#2cb7f0"/></linearGradient><linearGradient id="d10"><stop offset="0.000" stop-color="#2cb7f0"/><stop offset="0.047" stop-color="#2cb7f0"/><stop offset="0.082" stop-color="#2cb7f0"/><stop offset="0.106" stop-color="#2cb7f0"/><stop offset="0.129" stop-color="#2cb7f0"/><stop offset="0.153" stop-color="#2cb7f0"/><stop offset="0.176" stop-color="#2cb7f0"/><stop offset="0.200" stop-color="#2cb7f0"/><stop offset="0.235" stop-color="#2cb7f0"/><stop offset="0.282" stop-color="#2cb7f0"/><stop offset="0.341" stop-color="#2cb7f0"/><stop offset="0.412" stop-color="#2cb7f0"/><stop offset="0.500" stop-color="#2cb7f0"/><stop offset="0.588" stop-color="#2cb7f0"/><stop offset="0.676" stop-color="#2cb7f0"/><stop offset="0.765" stop-color="#2cb7f0"/><stop offset="0.853" stop-color="#2ab9ee"/><stop offset="0.929" stop-color="#2ab9ee"/><stop offset="1.000" stop-color="#2ab9ee"/></linearGradient><linearGradient id="d11"><stop offset="0.000" stop-color="#2eb4f2"/><stop offset="0.047" stop-color="#2eb4f2"/><stop offset="0.082" stop-color="#2eb4f2"/><stop offset="0.106" stop-color="#2eb4f2"/><stop offset="0.129" stop-color="#2eb4f2"/><stop offset="0.153" stop-color="#2eb4f2"/><stop offset="0.176" stop-color="#2eb4f2"/><stop offset="0.200" stop-color="#2eb4f2"/><stop offset="0.235" stop-color="#2eb4f2"/><stop offset="0.282" stop-color="#2eb4f2"/><stop offset="0.341" stop-color="#2eb4f2"/><stop offset="0.412" stop-color="#2eb4f2"/><stop offset="0.500" stop-color="#2cb7f0"/><stop offset="0.588" stop-color="#2cb7f0"/><stop offset="0.676" stop-color="#2cb7f0"/><stop offset="0.765" stop-color="#2cb7f0"/><stop offset="0.853" stop-color="#2cb7f0"/><stop offset="0.929" stop-color="#2cb7f0"/><stop offset="1.000" stop-color="#2cb7f0"/></linearGradient><linearGradient id="d12"><stop offset="0.000" stop-color="#2fb2f4"/><stop offset="0.047" stop-color="#2fb2f4"/><stop offset="0.082" stop-color="#2fb2f4"/><stop offset="0.106" stop-color="#2fb2f4"/><stop offset="0.129" stop-color="#2fb2f4"/><stop offset="0.153" stop-color="#2fb2f4"/><stop offset="0.176" stop-color="#2fb2f4"/><stop offset="0.200" stop-color="#2fb2f4"/><stop offset="0.235" stop-color="#2fb2f4"/><stop offset="0.282" stop-color="#2fb2f4"/><stop offset="0.341" stop-color="#2fb2f4"/><stop offset="0.412" stop-color="#2fb2f4"/><stop offset="0.500" stop-color="#2fb2f4"/><stop offset="0.588" stop-color="#2fb2f4"/><stop offset="0.676" stop-color="#2fb2f4"/><stop offset="0.765" stop-color="#2eb4f2"/><stop offset="0.853" stop-color="#2eb4f2"/><stop offset="0.929" stop-color="#2eb4f2"/><stop offset="1.000" stop-color="#2eb4f2"/></linearGradient><linearGradient id="d13"><stop offset="0.000" stop-color="#31aff5"/><stop offset="0.047" stop-color="#31aff5"/><stop offset="0.082" stop-color="#31aff5"/><stop offset="0.106" stop-color="#31aff5"/><stop offset="0.129" stop-color="#31aff5"/><stop offset="0.153" stop-color="#31aff5"/><stop offset="0.176" stop-color="#31aff5"/><stop offset="0.200" stop-color="#2fb2f4"/><stop offset="0.235" stop-color="#2fb2f4"/><stop offset="0.282" stop-color="#2fb2f4"/><stop offset="0.341" stop-color="#2fb2f4"/><stop offset="0.412" stop-color="#2fb2f4"/><stop offset="0.500" stop-color="#2fb2f4"/><stop offset="0.588" stop-color="#2fb2f4"/><stop offset="0.676" stop-color="#2fb2f4"/><stop offset="0.765" stop-color="#2fb2f4"/><stop offset="0.853" stop-color="#2fb2f4"/><stop offset="0.929" stop-color="#2fb2f4"/><stop offset="1.000" stop-color="#2fb2f4"/></linearGradient><linearGradient id="d14"><stop offset="0.000" stop-color="#33adf7"/><stop offset="0.047" stop-color="#33adf7"/><stop offset="0.082" stop-color="#33adf7"/><stop offset="0.106" stop-color="#33adf7"/><stop offset="0.129" stop-color="#33adf7"/><stop offset="0.153" stop-color="#33adf7"/><stop offset="0.176" stop-color="#33adf7"/><stop offset="0.200" stop-color="#33adf7"/><stop offset="0.235" stop-color="#33adf7"/><stop offset="0.282" stop-color="#33adf7"/><stop offset="0.341" stop-color="#33adf7"/><stop offset="0.412" stop-color="#33adf7"/><stop offset="0.500" stop-color="#33adf7"/><stop offset="0.588" stop-color="#33adf7"/><stop offset="0.676" stop-color="#33adf7"/><stop offset="0.765" stop-color="#31aff5"/><stop offset="0.853" stop-color="#31aff5"/><stop offset="0.929" stop-color="#31aff5"/><stop offset="1.000" stop-color="#31aff5"/></linearGradient><linearGradient id="d15"><stop offset="0.000" stop-color="#3aa3fc"/><stop offset="0.047" stop-color="#3aa3fc"/><stop offset="0.082" stop-color="#3aa3fc"/><stop offset="0.106" stop-color="#3aa3fc"/><stop offset="0.129" stop-color="#38a5fb"/><stop offset="0.153" stop-color="#38a5fb"/><stop offset="0.176" stop-color="#38a5fb"/><stop offset="0.200" stop-color="#38a5fb"/><stop offset="0.235" stop-color="#38a5fb"/><stop offset="0.282" stop-color="#38a5fb"/><stop offset="0.341" stop-color="#38a5fb"/><stop offset="0.412" stop-color="#38a5fb"/><stop offset="0.500" stop-color="#38a5fb"/><stop offset="0.588" stop-color="#37a8fa"/><stop offset="0.676" stop-color="#37a8fa"/><stop offset="0.765" stop-color="#35abf8"/><stop offset="0.853" stop-color="#35abf8"/><stop offset="0.929" stop-color="#33adf7"/><stop offset="1.000" stop-color="#33adf7"/></linearGradient><linearGradient id="d16"><stop offset="0.000" stop-color="#3d9efe"/><stop offset="0.047" stop-color="#3d9efe"/><stop offset="0.082" stop-color="#3d9efe"/><stop offset="0.106" stop-color="#3d9efe"/><stop offset="0.129" stop-color="#3d9efe"/><stop offset="0.153" stop-color="#3ba0fd"/><stop offset="0.176" stop-color="#3ba0fd"/><stop offset="0.200" stop-color="#3ba0fd"/><stop offset="0.235" stop-color="#3ba0fd"/><stop offset="0.282" stop-color="#3ba0fd"/><stop offset="0.341" stop-color="#3ba0fd"/><stop offset="0.412" stop-color="#3ba0fd"/><stop offset="0.500" stop-color="#3ba0fd"/><stop offset="0.588" stop-color="#3aa3fc"/><stop offset="0.676" stop-color="#38a5fb"/><stop offset="0.765" stop-color="#38a5fb"/><stop offset="0.853" stop-color="#37a8fa"/><stop offset="0.929" stop-color="#35abf8"/><stop offset="1.000" stop-color="#35abf8"/></linearGradient><linearGradient id="d17"><stop offset="0.000" stop-color="#38a5fb"/><stop offset="0.047" stop-color="#38a5fb"/><stop offset="0.082" stop-color="#38a5fb"/><stop offset="0.106" stop-color="#38a5fb"/><stop offset="0.129" stop-color="#38a5fb"/><stop offset="0.153" stop-color="#38a5fb"/><stop offset="0.176" stop-color="#38a5fb"/><stop offset="0.200" stop-color="#38a5fb"/><stop offset="0.235" stop-color="#38a5fb"/><stop offset="0.282" stop-color="#38a5fb"/><stop offset="0.341" stop-color="#38a5fb"/><stop offset="0.412" stop-color="#37a8fa"/><stop offset="0.500" stop-color="#37a8fa"/><stop offset="0.588" stop-color="#37a8fa"/><stop offset="0.676" stop-color="#35abf8"/><stop offset="0.765" stop-color="#35abf8"/><stop offset="0.853" stop-color="#33adf7"/><stop offset="0.929" stop-color="#33adf7"/><stop offset="1.000" stop-color="#33adf7"/></linearGradient><linearGradient id="d18"><stop offset="0.000" stop-color="#31aff5"/><stop offset="0.047" stop-color="#31aff5"/><stop offset="0.082" stop-color="#31aff5"/><stop offset="0.106" stop-color="#31aff5"/><stop offset="0.129" stop-color="#31aff5"/><stop offset="0.153" stop-color="#31aff5"/><stop offset="0.176" stop-color="#31aff5"/><stop offset="0.200" stop-color="#31aff5"/><stop offset="0.235" stop-color="#31aff5"/><stop offset="0.282" stop-color="#31aff5"/><stop offset="0.341" stop-color="#31aff5"/><stop offset="0.412" stop-color="#31aff5"/><stop offset="0.500" stop-color="#31aff5"/><stop offset="0.588" stop-color="#2fb2f4"/><stop offset="0.676" stop-color="#2fb2f4"/><stop offset="0.765" stop-color="#2fb2f4"/><stop offset="0.853" stop-color="#2fb2f4"/><stop offset="0.929" stop-color="#2fb2f4"/><stop offset="1.000" stop-color="#2fb2f4"/></linearGradient><linearGradient id="d19"><stop offset="0.000" stop-color="#35abf8"/><stop offset="0.047" stop-color="#35abf8"/><stop offset="0.082" stop-color="#35abf8"/><stop offset="0.106" stop-color="#35abf8"/><stop offset="0.129" stop-color="#35abf8"/><stop offset="0.153" stop-color="#35abf8"/><stop offset="0.176" stop-color="#35abf8"/><stop offset="0.200" stop-color="#35abf8"/><stop offset="0.235" stop-color="#35abf8"/><stop offset="0.282" stop-color="#35abf8"/><stop offset="0.341" stop-color="#33adf7"/><stop offset="0.412" stop-color="#33adf7"/><stop offset="0.500" stop-color="#33adf7"/><stop offset="0.588" stop-color="#33adf7"/><stop offset="0.676" stop-color="#33adf7"/><stop offset="0.765" stop-color="#33adf7"/><stop offset="0.853" stop-color="#33adf7"/><stop offset="0.929" stop-color="#33adf7"/><stop offset="1.000" stop-color="#33adf7"/></linearGradient><linearGradient id="d20"><stop offset="0.000" stop-color="#35abf8"/><stop offset="0.047" stop-color="#35abf8"/><stop offset="0.082" stop-color="#35abf8"/><stop offset="0.106" stop-color="#35abf8"/><stop offset="0.129" stop-color="#35abf8"/><stop offset="0.153" stop-color="#35abf8"/><stop offset="0.176" stop-color="#35abf8"/><stop offset="0.200" stop-color="#35abf8"/><stop offset="0.235" stop-color="#35abf8"/><stop offset="0.282" stop-color="#35abf8"/><stop offset="0.341" stop-color="#35abf8"/><stop offset="0.412" stop-color="#35abf8"/><stop offset="0.500" stop-color="#35abf8"/><stop offset="0.588" stop-color="#35abf8"/><stop offset="0.676" stop-color="#35abf8"/><stop offset="0.765" stop-color="#35abf8"/><stop offset="0.853" stop-color="#35abf8"/><stop offset="0.929" stop-color="#33adf7"/><stop offset="1.000" stop-color="#33adf7"/></linearGradient><linearGradient id="d21"><stop offset="0.000" stop-color="#35abf8"/><stop offset="0.047" stop-color="#35abf8"/><stop offset="0.082" stop-color="#35abf8"/><stop offset="0.106" stop-color="#35abf8"/><stop offset="0.129" stop-color="#35abf8"/><stop offset="0.153" stop-color="#35abf8"/><stop offset="0.176" stop-color="#35abf8"/><stop offset="0.200" stop-color="#35abf8"/><stop offset="0.235" stop-color="#35abf8"/><stop offset="0.282" stop-color="#35abf8"/><stop offset="0.341" stop-color="#35abf8"/><stop offset="0.412" stop-color="#33adf7"/><stop offset="0.500" stop-color="#33adf7"/><stop offset="0.588" stop-color="#33adf7"/><stop offset="0.676" stop-color="#33adf7"/><stop offset="0.765" stop-color="#33adf7"/><stop offset="0.853" stop-color="#33adf7"/><stop offset="0.929" stop-color="#33adf7"/><stop offset="1.000" stop-color="#33adf7"/></linearGradient><linearGradient id="d22"><stop offset="0.000" stop-color="#33adf7"/><stop offset="0.047" stop-color="#33adf7"/><stop offset="0.082" stop-color="#33adf7"/><stop offset="0.106" stop-color="#33adf7"/><stop offset="0.129" stop-color="#33adf7"/><stop offset="0.153" stop-color="#33adf7"/><stop offset="0.176" stop-color="#33adf7"/><stop offset="0.200" stop-color="#33adf7"/><stop offset="0.235" stop-color="#33adf7"/><stop offset="0.282" stop-color="#31aff5"/><stop offset="0.341" stop-color="#31aff5"/><stop offset="0.412" stop-color="#31aff5"/><stop offset="0.500" stop-color="#31aff5"/><stop offset="0.588" stop-color="#31aff5"/><stop offset="0.676" stop-color="#31aff5"/><stop offset="0.765" stop-color="#31aff5"/><stop offset="0.853" stop-color="#31aff5"/><stop offset="0.929" stop-color="#31aff5"/><stop offset="1.000" stop-color="#31aff5"/></linearGradient><linearGradient id="d23"><stop offset="0.000" stop-color="#2cb7f0"/><stop offset="0.047" stop-color="#2cb7f0"/><stop offset="0.082" stop-color="#2cb7f0"/><stop offset="0.106" stop-color="#2cb7f0"/><stop offset="0.129" stop-color="#2cb7f0"/><stop offset="0.153" stop-color="#2cb7f0"/><stop offset="0.176" stop-color="#2cb7f0"/><stop offset="0.200" stop-color="#2cb7f0"/><stop offset="0.235" stop-color="#2cb7f0"/><stop offset="0.282" stop-color="#2cb7f0"/><stop offset="0.341" stop-color="#2cb7f0"/><stop offset="0.412" stop-color="#2cb7f0"/><stop offset="0.500" stop-color="#2cb7f0"/><stop offset="0.588" stop-color="#2cb7f0"/><stop offset="0.676" stop-color="#2cb7f0"/><stop offset="0.765" stop-color="#2cb7f0"/><stop offset="0.853" stop-color="#2cb7f0"/><stop offset="0.929" stop-color="#2eb4f2"/><stop offset="1.000" stop-color="#2eb4f2"/></linearGradient><linearGradient id="d24"><stop offset="0.000" stop-color="#2cb7f0"/><stop offset="0.047" stop-color="#2cb7f0"/><stop offset="0.082" stop-color="#2cb7f0"/><stop offset="0.106" stop-color="#2cb7f0"/><stop offset="0.129" stop-color="#2cb7f0"/><stop offset="0.153" stop-color="#2cb7f0"/><stop offset="0.176" stop-color="#2cb7f0"/><stop offset="0.200" stop-color="#2cb7f0"/><stop offset="0.235" stop-color="#2cb7f0"/><stop offset="0.282" stop-color="#2cb7f0"/><stop offset="0.341" stop-color="#2cb7f0"/><stop offset="0.412" stop-color="#2cb7f0"/><stop offset="0.500" stop-color="#2cb7f0"/><stop offset="0.588" stop-color="#2cb7f0"/><stop offset="0.676" stop-color="#2cb7f0"/><stop offset="0.765" stop-color="#2cb7f0"/><stop offset="0.853" stop-color="#2cb7f0"/><stop offset="0.929" stop-color="#2eb4f2"/><stop offset="1.000" stop-color="#2eb4f2"/></linearGradient></defs>
<rect x="40.5" y="201" width="169.1" height="1.02" fill="#27bee9"/><rect x="40.5" y="202" width="169.1" height="1.02" fill="#23c3e4"/><rect x="40.5" y="203" width="169.1" height="1.02" fill="#23c3e4"/><rect x="40.5" y="204" width="169.1" height="1.02" fill="#23c3e4"/><rect x="40.5" y="205" width="169.1" height="1.02" fill="#27bee9"/><rect x="40.5" y="206" width="169.1" height="1.02" fill="#28bceb"/><rect x="40.5" y="207" width="169.1" height="1.02" fill="#2cb7f0"/><rect x="40.5" y="208" width="169.1" height="1.02" fill="#2eb4f2"/><rect x="40.5" y="209" width="169.1" height="1.02" fill="#2fb2f4"/><rect x="40.5" y="210" width="169.1" height="1.02" fill="#2fb2f4"/><rect x="40.5" y="211" width="169.1" height="1.02" fill="#2fb2f4"/><rect x="40.5" y="212" width="169.1" height="1.02" fill="#2fb2f4"/><rect x="40.5" y="213" width="169.1" height="1.02" fill="#2fb2f4"/><rect x="40.5" y="214" width="169.1" height="1.02" fill="#2fb2f4"/><rect x="40.5" y="215" width="169.1" height="1.02" fill="#2fb2f4"/><rect x="40.5" y="216" width="169.1" height="1.02" fill="#2fb2f4"/><rect x="40.5" y="217" width="169.1" height="1.02" fill="#2fb2f4"/><rect x="40.5" y="218" width="169.1" height="1.02" fill="#2fb2f4"/><rect x="40.5" y="219" width="169.1" height="1.02" fill="#2fb2f4"/><rect x="40.5" y="220" width="169.1" height="1.02" fill="url(#d0)"/><rect x="40.5" y="221" width="169.1" height="1.02" fill="url(#d1)"/><rect x="40.5" y="222" width="169.1" height="1.02" fill="url(#d2)"/><rect x="40.5" y="223" width="169.1" height="1.02" fill="url(#d3)"/><rect x="40.5" y="224" width="169.1" height="1.02" fill="url(#d4)"/><rect x="40.5" y="225" width="169.1" height="1.02" fill="#2fb2f4"/><rect x="40.5" y="226" width="169.1" height="1.02" fill="#2fb2f4"/><rect x="40.5" y="227" width="169.1" height="1.02" fill="#2fb2f4"/><rect x="40.5" y="228" width="169.1" height="1.02" fill="#2fb2f4"/><rect x="40.5" y="229" width="169.1" height="1.02" fill="#2fb2f4"/><rect x="40.5" y="230" width="169.1" height="1.02" fill="#2fb2f4"/><rect x="40.5" y="231" width="169.1" height="1.02" fill="#2fb2f4"/><rect x="40.5" y="232" width="169.1" height="1.02" fill="#2fb2f4"/><rect x="40.5" y="233" width="169.1" height="1.02" fill="#2fb2f4"/><rect x="40.5" y="234" width="169.1" height="1.02" fill="#2fb2f4"/><rect x="40.5" y="235" width="169.1" height="1.02" fill="#2fb2f4"/><rect x="40.5" y="236" width="169.1" height="1.02" fill="#2fb2f4"/><rect x="40.5" y="237" width="169.1" height="1.02" fill="#2fb2f4"/><rect x="40.5" y="238" width="169.1" height="1.02" fill="#2fb2f4"/><rect x="40.5" y="239" width="169.1" height="1.02" fill="#2fb2f4"/><rect x="40.5" y="240" width="169.1" height="1.02" fill="#2eb4f2"/><rect x="40.5" y="241" width="169.1" height="1.02" fill="#2cb7f0"/><rect x="40.5" y="242" width="169.1" height="1.02" fill="url(#d5)"/><rect x="40.5" y="243" width="169.1" height="1.02" fill="url(#d6)"/><rect x="40.5" y="244" width="169.1" height="1.02" fill="url(#d7)"/><rect x="40.5" y="245" width="169.1" height="1.02" fill="#2eb4f2"/><rect x="40.5" y="246" width="169.1" height="1.02" fill="#2fb2f4"/><rect x="40.5" y="247" width="169.1" height="1.02" fill="#2fb2f4"/><rect x="40.5" y="248" width="169.1" height="1.02" fill="#2fb2f4"/><rect x="40.5" y="249" width="169.1" height="1.02" fill="#2fb2f4"/><rect x="40.5" y="250" width="169.1" height="1.02" fill="url(#d8)"/><rect x="40.5" y="251" width="169.1" height="1.02" fill="url(#d9)"/><rect x="40.5" y="252" width="169.1" height="1.02" fill="url(#d10)"/><rect x="40.5" y="253" width="169.1" height="1.02" fill="url(#d11)"/><rect x="40.5" y="254" width="169.1" height="1.02" fill="url(#d12)"/><rect x="40.5" y="255" width="169.1" height="1.02" fill="url(#d13)"/><rect x="40.5" y="256" width="169.1" height="1.02" fill="url(#d14)"/><rect x="40.5" y="257" width="169.1" height="1.02" fill="url(#d15)"/><rect x="40.5" y="258" width="169.1" height="1.02" fill="url(#d16)"/><rect x="40.5" y="259" width="169.1" height="1.02" fill="url(#d17)"/><rect x="40.5" y="260" width="169.1" height="1.02" fill="url(#d18)"/><rect x="40.5" y="261" width="169.1" height="1.02" fill="#2cb7f0"/><rect x="40.5" y="262" width="169.1" height="1.02" fill="#2ab9ee"/><rect x="40.5" y="263" width="169.1" height="1.02" fill="#2cb7f0"/><rect x="40.5" y="264" width="169.1" height="1.02" fill="#2eb4f2"/><rect x="40.5" y="265" width="169.1" height="1.02" fill="#2fb2f4"/><rect x="40.5" y="266" width="169.1" height="1.02" fill="#33adf7"/><rect x="40.5" y="267" width="169.1" height="1.02" fill="#33adf7"/><rect x="40.5" y="268" width="169.1" height="1.02" fill="#31aff5"/><rect x="40.5" y="269" width="169.1" height="1.02" fill="#2eb4f2"/><rect x="40.5" y="270" width="169.1" height="1.02" fill="#2cb7f0"/><rect x="40.5" y="271" width="169.1" height="1.02" fill="#2cb7f0"/><rect x="40.5" y="272" width="169.1" height="1.02" fill="#2fb2f4"/><rect x="40.5" y="273" width="169.1" height="1.02" fill="#31aff5"/><rect x="40.5" y="274" width="169.1" height="1.02" fill="url(#d19)"/><rect x="40.5" y="275" width="169.1" height="1.02" fill="url(#d20)"/><rect x="40.5" y="276" width="169.1" height="1.02" fill="url(#d21)"/><rect x="40.5" y="277" width="169.1" height="1.02" fill="url(#d22)"/><rect x="40.5" y="278" width="169.1" height="1.02" fill="#31aff5"/><rect x="40.5" y="279" width="169.1" height="1.02" fill="#2fb2f4"/><rect x="40.5" y="280" width="169.1" height="1.02" fill="#2fb2f4"/><rect x="40.5" y="281" width="169.1" height="1.02" fill="url(#d23)"/><rect x="40.5" y="282" width="169.1" height="1.02" fill="url(#d24)"/><rect x="40.5" y="283" width="169.1" height="1.02" fill="#2fb2f4"/><rect x="40.5" y="284" width="169.1" height="1.02" fill="#2fb2f4"/><rect x="40.5" y="285" width="169.1" height="1.02" fill="#2fb2f4"/><rect x="40.5" y="286" width="169.1" height="1.02" fill="#2fb2f4"/><rect x="40.5" y="290" width="169.1" height="1.02" fill="#2ab9ee"/><rect x="40.5" y="291" width="169.1" height="1.02" fill="#2ab9ee"/><rect x="40.5" y="292" width="169.1" height="1.02" fill="#2ab9ee"/><rect x="40.5" y="293" width="169.1" height="1.02" fill="#2ab9ee"/><rect x="40.5" y="294" width="169.1" height="1.02" fill="#2ab9ee"/><rect x="40.5" y="295" width="169.1" height="1.02" fill="#2ab9ee"/><rect x="40.5" y="296" width="169.1" height="1.02" fill="#2ab9ee"/><rect x="40.5" y="297" width="169.1" height="1.02" fill="#2cb7f0"/><rect x="40.5" y="298" width="169.1" height="1.02" fill="#2eb4f2"/><rect x="40.5" y="299" width="169.1" height="1.02" fill="#2fb2f4"/><rect x="40.5" y="300" width="169.1" height="1.02" fill="#2fb2f4"/><rect x="40.5" y="301" width="169.1" height="1.02" fill="#2fb2f4"/><rect x="40.5" y="302" width="169.1" height="1.02" fill="#2eb4f2"/><rect x="40.5" y="303" width="169.1" height="1.02" fill="#2cb7f0"/><rect x="40.5" y="304" width="169.1" height="1.02" fill="#2ab9ee"/><rect x="40.5" y="305" width="169.1" height="1.02" fill="#2ab9ee"/><rect x="40.5" y="306" width="169.1" height="1.02" fill="#2ab9ee"/><rect x="40.5" y="307" width="169.1" height="1.02" fill="#2ab9ee"/><rect x="40.5" y="308" width="169.1" height="1.02" fill="#2ab9ee"/><rect x="40.5" y="309" width="169.1" height="1.02" fill="#2ab9ee"/><rect x="40.5" y="310" width="169.1" height="1.02" fill="#2ab9ee"/><rect x="40.5" y="311" width="169.1" height="1.02" fill="#2ab9ee"/><rect x="40.5" y="312" width="169.1" height="1.02" fill="#2ab9ee"/><rect x="40.5" y="313" width="169.1" height="1.02" fill="#2ab9ee"/><rect x="40.5" y="314" width="169.1" height="1.02" fill="#2ab9ee"/><rect x="40.5" y="315" width="169.1" height="1.02" fill="#2ab9ee"/><rect x="40.5" y="316" width="169.1" height="1.02" fill="#2ab9ee"/><rect x="40.5" y="317" width="169.1" height="1.02" fill="#2ab9ee"/><rect x="40.5" y="318" width="169.1" height="1.02" fill="#2ab9ee"/><rect x="40.5" y="319" width="169.1" height="1.02" fill="#2ab9ee"/><rect x="40.5" y="320" width="169.1" height="1.02" fill="#2ab9ee"/><rect x="40.5" y="321" width="169.1" height="1.02" fill="#2ab9ee"/><rect x="40.5" y="322" width="169.1" height="1.02" fill="#2ab9ee"/><rect x="40.5" y="323" width="169.1" height="1.02" fill="#2ab9ee"/><rect x="40.5" y="324" width="169.1" height="1.02" fill="#2ab9ee"/><rect x="40.5" y="325" width="169.1" height="1.02" fill="#2ab9ee"/>
<rect x="40.5" y="287" width="169.10" height="3" fill="#fff"/>
<path d="M40.5,200.8 H209.6 V325.6 H40.5 Z" fill="none" stroke="#231f20" stroke-width="1"/>
<line x1="36.50" y1="200.60" x2="40.50" y2="200.60" stroke="#231f20" stroke-width="1.0" />
<line x1="36.50" y1="222.20" x2="40.50" y2="222.20" stroke="#231f20" stroke-width="1.0" />
<line x1="36.50" y1="243.80" x2="40.50" y2="243.80" stroke="#231f20" stroke-width="1.0" />
<line x1="36.50" y1="265.40" x2="40.50" y2="265.40" stroke="#231f20" stroke-width="1.0" />
<line x1="38.50" y1="211.40" x2="40.50" y2="211.40" stroke="#231f20" stroke-width="1.0" />
<line x1="38.50" y1="233.00" x2="40.50" y2="233.00" stroke="#231f20" stroke-width="1.0" />
<line x1="38.50" y1="254.60" x2="40.50" y2="254.60" stroke="#231f20" stroke-width="1.0" />
<line x1="38.50" y1="276.20" x2="40.50" y2="276.20" stroke="#231f20" stroke-width="1.0" />
<text x="32.1" y="203.9" font-size="9" text-anchor="end" fill="#1a1a1a" >4000</text>
<text x="32.1" y="225.5" font-size="9" text-anchor="end" fill="#1a1a1a" >3000</text>
<text x="32.1" y="247.1" font-size="9" text-anchor="end" fill="#1a1a1a" >2000</text>
<text x="32.1" y="268.7" font-size="9" text-anchor="end" fill="#1a1a1a" >1000</text>
<line x1="36.50" y1="298.60" x2="40.50" y2="298.60" stroke="#231f20" stroke-width="1.0" />
<line x1="36.50" y1="325.60" x2="40.50" y2="325.60" stroke="#231f20" stroke-width="1.0" />
<line x1="38.50" y1="317.47" x2="40.50" y2="317.47" stroke="#231f20" stroke-width="1.0" />
<line x1="38.50" y1="312.72" x2="40.50" y2="312.72" stroke="#231f20" stroke-width="1.0" />
<line x1="38.50" y1="309.34" x2="40.50" y2="309.34" stroke="#231f20" stroke-width="1.0" />
<line x1="38.50" y1="306.73" x2="40.50" y2="306.73" stroke="#231f20" stroke-width="1.0" />
<line x1="38.50" y1="304.59" x2="40.50" y2="304.59" stroke="#231f20" stroke-width="1.0" />
<line x1="38.50" y1="302.78" x2="40.50" y2="302.78" stroke="#231f20" stroke-width="1.0" />
<line x1="38.50" y1="301.22" x2="40.50" y2="301.22" stroke="#231f20" stroke-width="1.0" />
<line x1="38.50" y1="299.84" x2="40.50" y2="299.84" stroke="#231f20" stroke-width="1.0" />
<line x1="38.50" y1="290.47" x2="40.50" y2="290.47" stroke="#231f20" stroke-width="1.0" />
<text x="26.5" y="301.9" font-size="9" text-anchor="middle" fill="#1a1a1a">10<tspan font-size="6.3" dy="-3.4">0</tspan></text>
<text x="26.5" y="328.9" font-size="9" text-anchor="middle" fill="#1a1a1a">10<tspan font-size="6.3" dy="-3.4">-1</tspan></text>
<path d="M35.5,288.4 L45.5,286.2 M35.5,291.0 L45.5,288.8" stroke="#231f20" stroke-width="0.9" fill="none"/>
<rect x="39.9" y="288.2" width="1.2" height="1.6" fill="#fff"/>
<path d="M204.6,288.4 L214.6,286.2 M204.6,291.0 L214.6,288.8" stroke="#231f20" stroke-width="0.9" fill="none"/>
<rect x="209.0" y="288.2" width="1.2" height="1.6" fill="#fff"/>
<line x1="40.50" y1="325.60" x2="40.50" y2="330.10" stroke="#231f20" stroke-width="1.0" />
<line x1="74.32" y1="325.60" x2="74.32" y2="330.10" stroke="#231f20" stroke-width="1.0" />
<line x1="108.14" y1="325.60" x2="108.14" y2="330.10" stroke="#231f20" stroke-width="1.0" />
<line x1="141.96" y1="325.60" x2="141.96" y2="330.10" stroke="#231f20" stroke-width="1.0" />
<line x1="175.78" y1="325.60" x2="175.78" y2="330.10" stroke="#231f20" stroke-width="1.0" />
<line x1="209.60" y1="325.60" x2="209.60" y2="330.10" stroke="#231f20" stroke-width="1.0" />
<line x1="57.41" y1="325.60" x2="57.41" y2="327.90" stroke="#231f20" stroke-width="1.0" />
<line x1="91.23" y1="325.60" x2="91.23" y2="327.90" stroke="#231f20" stroke-width="1.0" />
<line x1="125.05" y1="325.60" x2="125.05" y2="327.90" stroke="#231f20" stroke-width="1.0" />
<line x1="158.87" y1="325.60" x2="158.87" y2="327.90" stroke="#231f20" stroke-width="1.0" />
<line x1="192.69" y1="325.60" x2="192.69" y2="327.90" stroke="#231f20" stroke-width="1.0" />
<text x="40.5" y="341.5" font-size="9" text-anchor="middle" fill="#1a1a1a" >1350</text>
<text x="74.3" y="341.5" font-size="9" text-anchor="middle" fill="#1a1a1a" >1400</text>
<text x="108.1" y="341.5" font-size="9" text-anchor="middle" fill="#1a1a1a" >1450</text>
<text x="142.0" y="341.5" font-size="9" text-anchor="middle" fill="#1a1a1a" >1500</text>
<text x="175.8" y="341.5" font-size="9" text-anchor="middle" fill="#1a1a1a" >1550</text>
<text x="209.6" y="341.5" font-size="9" text-anchor="middle" fill="#1a1a1a" >1600</text>
<text x="129.9" y="359.6" font-size="9.2" text-anchor="middle" fill="#1a1a1a" >Wavelength (nm)</text>
<text transform="translate(7.4,262.4) rotate(-90)" font-size="9.2" text-anchor="middle" fill="#1a1a1a" textLength="95.8" lengthAdjust="spacingAndGlyphs">Pump-Probe Delay (ps)</text>
<text x="44.0" y="194.6" font-size="9.6" text-anchor="start" fill="#1a1a1a" >ZnSO<tspan font-size="6.5" dy="2.2">4</tspan><tspan dy="-2.2"></tspan></text>
<defs><linearGradient id="e0"><stop offset="0.000" stop-color="#2eb4f2"/><stop offset="0.047" stop-color="#2eb4f2"/><stop offset="0.082" stop-color="#2eb4f2"/><stop offset="0.106" stop-color="#2eb4f2"/><stop offset="0.129" stop-color="#2fb2f4"/><stop offset="0.153" stop-color="#2fb2f4"/><stop offset="0.176" stop-color="#2fb2f4"/><stop offset="0.200" stop-color="#2fb2f4"/><stop offset="0.235" stop-color="#31aff5"/><stop offset="0.282" stop-color="#31aff5"/><stop offset="0.341" stop-color="#33adf7"/><stop offset="0.412" stop-color="#2fb2f4"/><stop offset="0.500" stop-color="#2cb7f0"/><stop offset="0.588" stop-color="#27bee9"/><stop offset="0.676" stop-color="#25c0e7"/><stop offset="0.765" stop-color="#22c5e2"/><stop offset="0.853" stop-color="#1fc9dd"/><stop offset="0.929" stop-color="#1ccdd8"/><stop offset="1.000" stop-color="#1ad2d2"/></linearGradient><linearGradient id="e1"><stop offset="0.000" stop-color="#2cb7f0"/><stop offset="0.047" stop-color="#2eb4f2"/><stop offset="0.082" stop-color="#2eb4f2"/><stop offset="0.106" stop-color="#2eb4f2"/><stop offset="0.129" stop-color="#2eb4f2"/><stop offset="0.153" stop-color="#2eb4f2"/><stop offset="0.176" stop-color="#2eb4f2"/><stop offset="0.200" stop-color="#2fb2f4"/><stop offset="0.235" stop-color="#2fb2f4"/><stop offset="0.282" stop-color="#2fb2f4"/><stop offset="0.341" stop-color="#31aff5"/><stop offset="0.412" stop-color="#2eb4f2"/><stop offset="0.500" stop-color="#2ab9ee"/><stop offset="0.588" stop-color="#25c0e7"/><stop offset="0.676" stop-color="#22c5e2"/><stop offset="0.765" stop-color="#20c7df"/><stop offset="0.853" stop-color="#1ecbda"/><stop offset="0.929" stop-color="#1bd0d5"/><stop offset="1.000" stop-color="#1ad4d0"/></linearGradient><linearGradient id="e2"><stop offset="0.000" stop-color="#2cb7f0"/><stop offset="0.047" stop-color="#2eb4f2"/><stop offset="0.082" stop-color="#2eb4f2"/><stop offset="0.106" stop-color="#2eb4f2"/><stop offset="0.129" stop-color="#2eb4f2"/><stop offset="0.153" stop-color="#2cb7f0"/><stop offset="0.176" stop-color="#2cb7f0"/><stop offset="0.200" stop-color="#2cb7f0"/><stop offset="0.235" stop-color="#2cb7f0"/><stop offset="0.282" stop-color="#2cb7f0"/><stop offset="0.341" stop-color="#2cb7f0"/><stop offset="0.412" stop-color="#2ab9ee"/><stop offset="0.500" stop-color="#28bceb"/><stop offset="0.588" stop-color="#25c0e7"/><stop offset="0.676" stop-color="#23c3e4"/><stop offset="0.765" stop-color="#22c5e2"/><stop offset="0.853" stop-color="#20c7df"/><stop offset="0.929" stop-color="#1ecbda"/><stop offset="1.000" stop-color="#1ccdd8"/></linearGradient><linearGradient id="e3"><stop offset="0.000" stop-color="#2cb7f0"/><stop offset="0.047" stop-color="#2cb7f0"/><stop offset="0.082" stop-color="#2cb7f0"/><stop offset="0.106" stop-color="#2cb7f0"/><stop offset="0.129" stop-color="#2ab9ee"/><stop offset="0.153" stop-color="#28bceb"/><stop offset="0.176" stop-color="#25c0e7"/><stop offset="0.200" stop-color="#23c3e4"/><stop offset="0.235" stop-color="#22c5e2"/><stop offset="0.282" stop-color="#22c5e2"/><stop offset="0.341" stop-color="#22c5e2"/><stop offset="0.412" stop-color="#20c7df"/><stop offset="0.500" stop-color="#1fc9dd"/><stop offset="0.588" stop-color="#1ecbda"/><stop offset="0.676" stop-color="#1ccdd8"/><stop offset="0.765" stop-color="#1ccdd8"/><stop offset="0.853" stop-color="#1ad2d2"/><stop offset="0.929" stop-color="#19d5cd"/><stop offset="1.000" stop-color="#18d7ca"/></linearGradient><linearGradient id="e4"><stop offset="0.000" stop-color="#2ab9ee"/><stop offset="0.047" stop-color="#2ab9ee"/><stop offset="0.082" stop-color="#2ab9ee"/><stop offset="0.106" stop-color="#28bceb"/><stop offset="0.129" stop-color="#25c0e7"/><stop offset="0.153" stop-color="#1fc9dd"/><stop offset="0.176" stop-color="#1ad2d2"/><stop offset="0.200" stop-color="#19d5cd"/><stop offset="0.235" stop-color="#18d9c8"/><stop offset="0.282" stop-color="#18dbc5"/><stop offset="0.341" stop-color="#18dbc5"/><stop offset="0.412" stop-color="#18dec0"/><stop offset="0.500" stop-color="#19e2bb"/><stop offset="0.588" stop-color="#1ce6b4"/><stop offset="0.676" stop-color="#1de7b2"/><stop offset="0.765" stop-color="#1fe9af"/><stop offset="0.853" stop-color="#22ebaa"/><stop offset="0.929" stop-color="#2cf09e"/><stop offset="1.000" stop-color="#32f298"/></linearGradient><linearGradient id="e5"><stop offset="0.000" stop-color="#28bceb"/><stop offset="0.047" stop-color="#28bceb"/><stop offset="0.082" stop-color="#25c0e7"/><stop offset="0.106" stop-color="#23c3e4"/><stop offset="0.129" stop-color="#1ecbda"/><stop offset="0.153" stop-color="#18d9c8"/><stop offset="0.176" stop-color="#1ae4b6"/><stop offset="0.200" stop-color="#22ebaa"/><stop offset="0.235" stop-color="#2cf09e"/><stop offset="0.282" stop-color="#2ff19b"/><stop offset="0.341" stop-color="#35f394"/><stop offset="0.412" stop-color="#3ff68a"/><stop offset="0.500" stop-color="#52fa7a"/><stop offset="0.588" stop-color="#61fc6c"/><stop offset="0.676" stop-color="#69fd66"/><stop offset="0.765" stop-color="#6dfe62"/><stop offset="0.853" stop-color="#80ff53"/><stop offset="0.929" stop-color="#99fe42"/><stop offset="1.000" stop-color="#a4fc3c"/></linearGradient><linearGradient id="e6"><stop offset="0.000" stop-color="#27bee9"/><stop offset="0.047" stop-color="#25c0e7"/><stop offset="0.082" stop-color="#22c5e2"/><stop offset="0.106" stop-color="#1ecbda"/><stop offset="0.129" stop-color="#18d7ca"/><stop offset="0.153" stop-color="#1de7b2"/><stop offset="0.176" stop-color="#3cf58e"/><stop offset="0.200" stop-color="#55fa76"/><stop offset="0.235" stop-color="#6dfe62"/><stop offset="0.282" stop-color="#75fe5c"/><stop offset="0.341" stop-color="#80ff53"/><stop offset="0.412" stop-color="#92ff47"/><stop offset="0.500" stop-color="#a7fc3a"/><stop offset="0.588" stop-color="#b7f735"/><stop offset="0.676" stop-color="#bef434"/><stop offset="0.765" stop-color="#c6f034"/><stop offset="0.853" stop-color="#d9e436"/><stop offset="0.929" stop-color="#ebd339"/><stop offset="1.000" stop-color="#f5c53a"/></linearGradient><linearGradient id="e7"><stop offset="0.000" stop-color="#25c0e7"/><stop offset="0.047" stop-color="#22c5e2"/><stop offset="0.082" stop-color="#1fc9dd"/><stop offset="0.106" stop-color="#1bd0d5"/><stop offset="0.129" stop-color="#18dec0"/><stop offset="0.153" stop-color="#2aefa1"/><stop offset="0.176" stop-color="#61fc6c"/><stop offset="0.200" stop-color="#84ff51"/><stop offset="0.235" stop-color="#9cfe40"/><stop offset="0.282" stop-color="#a7fc3a"/><stop offset="0.341" stop-color="#affa37"/><stop offset="0.412" stop-color="#c1f334"/><stop offset="0.500" stop-color="#d4e735"/><stop offset="0.588" stop-color="#e5d938"/><stop offset="0.676" stop-color="#ecd13a"/><stop offset="0.765" stop-color="#f2c93a"/><stop offset="0.853" stop-color="#fbb637"/><stop offset="0.929" stop-color="#fe962b"/><stop offset="1.000" stop-color="#fa7b1f"/></linearGradient><linearGradient id="e8"><stop offset="0.000" stop-color="#23c3e4"/><stop offset="0.047" stop-color="#22c5e2"/><stop offset="0.082" stop-color="#1fc9dd"/><stop offset="0.106" stop-color="#1ad2d2"/><stop offset="0.129" stop-color="#18e0bd"/><stop offset="0.153" stop-color="#2ff19b"/><stop offset="0.176" stop-color="#69fd66"/><stop offset="0.200" stop-color="#8bff4b"/><stop offset="0.235" stop-color="#a4fc3c"/><stop offset="0.282" stop-color="#acfb38"/><stop offset="0.341" stop-color="#b7f735"/><stop offset="0.412" stop-color="#c8ef34"/><stop offset="0.500" stop-color="#dbe236"/><stop offset="0.588" stop-color="#ecd13a"/><stop offset="0.676" stop-color="#f2c93a"/><stop offset="0.765" stop-color="#f7c13a"/><stop offset="0.853" stop-color="#fdac34"/><stop offset="0.929" stop-color="#fc8725"/><stop offset="1.000" stop-color="#f66c19"/></linearGradient><linearGradient id="e9"><stop offset="0.000" stop-color="#25c0e7"/><stop offset="0.047" stop-color="#23c3e4"/><stop offset="0.082" stop-color="#20c7df"/><stop offset="0.106" stop-color="#1ccdd8"/><stop offset="0.129" stop-color="#18dbc5"/><stop offset="0.153" stop-color="#22ebaa"/><stop offset="0.176" stop-color="#4af880"/><stop offset="0.200" stop-color="#6dfe62"/><stop offset="0.235" stop-color="#84ff51"/><stop offset="0.282" stop-color="#8fff49"/><stop offset="0.341" stop-color="#99fe42"/><stop offset="0.412" stop-color="#a9fb39"/><stop offset="0.500" stop-color="#bcf534"/><stop offset="0.588" stop-color="#d0ea34"/><stop offset="0.676" stop-color="#d7e535"/><stop offset="0.765" stop-color="#dde037"/><stop offset="0.853" stop-color="#eecf3a"/><stop offset="0.929" stop-color="#fbb838"/><stop offset="1.000" stop-color="#fea732"/></linearGradient><linearGradient id="e10"><stop offset="0.000" stop-color="#27bee9"/><stop offset="0.047" stop-color="#27bee9"/><stop offset="0.082" stop-color="#25c0e7"/><stop offset="0.106" stop-color="#20c7df"/><stop offset="0.129" stop-color="#1bd0d5"/><stop offset="0.153" stop-color="#18dec0"/><stop offset="0.176" stop-color="#25eca7"/><stop offset="0.200" stop-color="#35f394"/><stop offset="0.235" stop-color="#43f787"/><stop offset="0.282" stop-color="#4af880"/><stop offset="0.341" stop-color="#52fa7a"/><stop offset="0.412" stop-color="#61fc6c"/><stop offset="0.500" stop-color="#75fe5c"/><stop offset="0.588" stop-color="#88ff4e"/><stop offset="0.676" stop-color="#8fff49"/><stop offset="0.765" stop-color="#99fe42"/><stop offset="0.853" stop-color="#a9fb39"/><stop offset="0.929" stop-color="#bcf534"/><stop offset="1.000" stop-color="#cbed34"/></linearGradient><linearGradient id="e11"><stop offset="0.000" stop-color="#2ab9ee"/><stop offset="0.047" stop-color="#2ab9ee"/><stop offset="0.082" stop-color="#28bceb"/><stop offset="0.106" stop-color="#27bee9"/><stop offset="0.129" stop-color="#23c3e4"/><stop offset="0.153" stop-color="#1ccdd8"/><stop offset="0.176" stop-color="#18d7ca"/><stop offset="0.200" stop-color="#18dec0"/><stop offset="0.235" stop-color="#19e2bb"/><stop offset="0.282" stop-color="#19e3b9"/><stop offset="0.341" stop-color="#1ae4b6"/><stop offset="0.412" stop-color="#1de7b2"/><stop offset="0.500" stop-color="#22ebaa"/><stop offset="0.588" stop-color="#2aefa1"/><stop offset="0.676" stop-color="#2cf09e"/><stop offset="0.765" stop-color="#2ff19b"/><stop offset="0.853" stop-color="#3cf58e"/><stop offset="0.929" stop-color="#4af880"/><stop offset="1.000" stop-color="#55fa76"/></linearGradient><linearGradient id="e12"><stop offset="0.000" stop-color="#2cb7f0"/><stop offset="0.047" stop-color="#2eb4f2"/><stop offset="0.082" stop-color="#2eb4f2"/><stop offset="0.106" stop-color="#2eb4f2"/><stop offset="0.129" stop-color="#2cb7f0"/><stop offset="0.153" stop-color="#28bceb"/><stop offset="0.176" stop-color="#25c0e7"/><stop offset="0.200" stop-color="#22c5e2"/><stop offset="0.235" stop-color="#20c7df"/><stop offset="0.282" stop-color="#20c7df"/><stop offset="0.341" stop-color="#20c7df"/><stop offset="0.412" stop-color="#1fc9dd"/><stop offset="0.500" stop-color="#1ecbda"/><stop offset="0.588" stop-color="#1ccdd8"/><stop offset="0.676" stop-color="#1bd0d5"/><stop offset="0.765" stop-color="#1bd0d5"/><stop offset="0.853" stop-color="#1ad4d0"/><stop offset="0.929" stop-color="#18d7ca"/><stop offset="1.000" stop-color="#18d9c8"/></linearGradient><linearGradient id="e13"><stop offset="0.000" stop-color="#2cb7f0"/><stop offset="0.047" stop-color="#2fb2f4"/><stop offset="0.082" stop-color="#33adf7"/><stop offset="0.106" stop-color="#33adf7"/><stop offset="0.129" stop-color="#35abf8"/><stop offset="0.153" stop-color="#35abf8"/><stop offset="0.176" stop-color="#33adf7"/><stop offset="0.200" stop-color="#33adf7"/><stop offset="0.235" stop-color="#33adf7"/><stop offset="0.282" stop-color="#33adf7"/><stop offset="0.341" stop-color="#33adf7"/><stop offset="0.412" stop-color="#33adf7"/><stop offset="0.500" stop-color="#33adf7"/><stop offset="0.588" stop-color="#33adf7"/><stop offset="0.676" stop-color="#33adf7"/><stop offset="0.765" stop-color="#33adf7"/><stop offset="0.853" stop-color="#31aff5"/><stop offset="0.929" stop-color="#31aff5"/><stop offset="1.000" stop-color="#2fb2f4"/></linearGradient><linearGradient id="e14"><stop offset="0.000" stop-color="#2cb7f0"/><stop offset="0.047" stop-color="#33adf7"/><stop offset="0.082" stop-color="#37a8fa"/><stop offset="0.106" stop-color="#38a5fb"/><stop offset="0.129" stop-color="#3ba0fd"/><stop offset="0.153" stop-color="#3d9efe"/><stop offset="0.176" stop-color="#3d9efe"/><stop offset="0.200" stop-color="#3d9efe"/><stop offset="0.235" stop-color="#3d9efe"/><stop offset="0.282" stop-color="#3e9bfe"/><stop offset="0.341" stop-color="#3e9bfe"/><stop offset="0.412" stop-color="#4099ff"/><stop offset="0.500" stop-color="#4099ff"/><stop offset="0.588" stop-color="#4099ff"/><stop offset="0.676" stop-color="#4099ff"/><stop offset="0.765" stop-color="#4196ff"/><stop offset="0.853" stop-color="#4196ff"/><stop offset="0.929" stop-color="#4196ff"/><stop offset="1.000" stop-color="#4196ff"/></linearGradient><linearGradient id="e15"><stop offset="0.000" stop-color="#2cb7f0"/><stop offset="0.047" stop-color="#33adf7"/><stop offset="0.082" stop-color="#38a5fb"/><stop offset="0.106" stop-color="#3ba0fd"/><stop offset="0.129" stop-color="#3d9efe"/><stop offset="0.153" stop-color="#4099ff"/><stop offset="0.176" stop-color="#4099ff"/><stop offset="0.200" stop-color="#4099ff"/><stop offset="0.235" stop-color="#4196ff"/><stop offset="0.282" stop-color="#4196ff"/><stop offset="0.341" stop-color="#4294ff"/><stop offset="0.412" stop-color="#4294ff"/><stop offset="0.500" stop-color="#4391fe"/><stop offset="0.588" stop-color="#4391fe"/><stop offset="0.676" stop-color="#4391fe"/><stop offset="0.765" stop-color="#448ffe"/><stop offset="0.853" stop-color="#448ffe"/><stop offset="0.929" stop-color="#448ffe"/><stop offset="1.000" stop-color="#458cfd"/></linearGradient><linearGradient id="e16"><stop offset="0.000" stop-color="#2cb7f0"/><stop offset="0.047" stop-color="#33adf7"/><stop offset="0.082" stop-color="#37a8fa"/><stop offset="0.106" stop-color="#38a5fb"/><stop offset="0.129" stop-color="#3ba0fd"/><stop offset="0.153" stop-color="#3d9efe"/><stop offset="0.176" stop-color="#3d9efe"/><stop offset="0.200" stop-color="#3d9efe"/><stop offset="0.235" stop-color="#3e9bfe"/><stop offset="0.282" stop-color="#3e9bfe"/><stop offset="0.341" stop-color="#4099ff"/><stop offset="0.412" stop-color="#4099ff"/><stop offset="0.500" stop-color="#4099ff"/><stop offset="0.588" stop-color="#4196ff"/><stop offset="0.676" stop-color="#4196ff"/><stop offset="0.765" stop-color="#4196ff"/><stop offset="0.853" stop-color="#4196ff"/><stop offset="0.929" stop-color="#4294ff"/><stop offset="1.000" stop-color="#4294ff"/></linearGradient><linearGradient id="e17"><stop offset="0.000" stop-color="#2cb7f0"/><stop offset="0.047" stop-color="#2fb2f4"/><stop offset="0.082" stop-color="#33adf7"/><stop offset="0.106" stop-color="#35abf8"/><stop offset="0.129" stop-color="#37a8fa"/><stop offset="0.153" stop-color="#37a8fa"/><stop offset="0.176" stop-color="#37a8fa"/><stop offset="0.200" stop-color="#37a8fa"/><stop offset="0.235" stop-color="#37a8fa"/><stop offset="0.282" stop-color="#37a8fa"/><stop offset="0.341" stop-color="#37a8fa"/><stop offset="0.412" stop-color="#37a8fa"/><stop offset="0.500" stop-color="#37a8fa"/><stop offset="0.588" stop-color="#37a8fa"/><stop offset="0.676" stop-color="#37a8fa"/><stop offset="0.765" stop-color="#37a8fa"/><stop offset="0.853" stop-color="#37a8fa"/><stop offset="0.929" stop-color="#37a8fa"/><stop offset="1.000" stop-color="#35abf8"/></linearGradient><linearGradient id="e18"><stop offset="0.000" stop-color="#2cb7f0"/><stop offset="0.047" stop-color="#2cb7f0"/><stop offset="0.082" stop-color="#2eb4f2"/><stop offset="0.106" stop-color="#2eb4f2"/><stop offset="0.129" stop-color="#2fb2f4"/><stop offset="0.153" stop-color="#2fb2f4"/><stop offset="0.176" stop-color="#2eb4f2"/><stop offset="0.200" stop-color="#2cb7f0"/><stop offset="0.235" stop-color="#2ab9ee"/><stop offset="0.282" stop-color="#2ab9ee"/><stop offset="0.341" stop-color="#2ab9ee"/><stop offset="0.412" stop-color="#28bceb"/><stop offset="0.500" stop-color="#28bceb"/><stop offset="0.588" stop-color="#27bee9"/><stop offset="0.676" stop-color="#27bee9"/><stop offset="0.765" stop-color="#25c0e7"/><stop offset="0.853" stop-color="#23c3e4"/><stop offset="0.929" stop-color="#22c5e2"/><stop offset="1.000" stop-color="#20c7df"/></linearGradient><linearGradient id="e19"><stop offset="0.000" stop-color="#2ab9ee"/><stop offset="0.047" stop-color="#2ab9ee"/><stop offset="0.082" stop-color="#2ab9ee"/><stop offset="0.106" stop-color="#2ab9ee"/><stop offset="0.129" stop-color="#2ab9ee"/><stop offset="0.153" stop-color="#27bee9"/><stop offset="0.176" stop-color="#25c0e7"/><stop offset="0.200" stop-color="#22c5e2"/><stop offset="0.235" stop-color="#1fc9dd"/><stop offset="0.282" stop-color="#1ecbda"/><stop offset="0.341" stop-color="#1ccdd8"/><stop offset="0.412" stop-color="#1bd0d5"/><stop offset="0.500" stop-color="#1ad2d2"/><stop offset="0.588" stop-color="#19d5cd"/><stop offset="0.676" stop-color="#18d7ca"/><stop offset="0.765" stop-color="#18dbc5"/><stop offset="0.853" stop-color="#18dec0"/><stop offset="0.929" stop-color="#19e2bb"/><stop offset="1.000" stop-color="#1ae4b6"/></linearGradient><linearGradient id="e20"><stop offset="0.000" stop-color="#27bee9"/><stop offset="0.047" stop-color="#27bee9"/><stop offset="0.082" stop-color="#25c0e7"/><stop offset="0.106" stop-color="#25c0e7"/><stop offset="0.129" stop-color="#25c0e7"/><stop offset="0.153" stop-color="#20c7df"/><stop offset="0.176" stop-color="#1ecbda"/><stop offset="0.200" stop-color="#1ad2d2"/><stop offset="0.235" stop-color="#18d9c8"/><stop offset="0.282" stop-color="#18ddc2"/><stop offset="0.341" stop-color="#18e0bd"/><stop offset="0.412" stop-color="#19e3b9"/><stop offset="0.500" stop-color="#1ce6b4"/><stop offset="0.588" stop-color="#1fe9af"/><stop offset="0.676" stop-color="#25eca7"/><stop offset="0.765" stop-color="#2ff19b"/><stop offset="0.853" stop-color="#38f491"/><stop offset="0.929" stop-color="#43f787"/><stop offset="1.000" stop-color="#4ef97d"/></linearGradient><linearGradient id="e21"><stop offset="0.000" stop-color="#25c0e7"/><stop offset="0.047" stop-color="#23c3e4"/><stop offset="0.082" stop-color="#22c5e2"/><stop offset="0.106" stop-color="#22c5e2"/><stop offset="0.129" stop-color="#20c7df"/><stop offset="0.153" stop-color="#1ccdd8"/><stop offset="0.176" stop-color="#19d5cd"/><stop offset="0.200" stop-color="#18dbc5"/><stop offset="0.235" stop-color="#1ae4b6"/><stop offset="0.282" stop-color="#1fe9af"/><stop offset="0.341" stop-color="#27eea4"/><stop offset="0.412" stop-color="#2cf09e"/><stop offset="0.500" stop-color="#35f394"/><stop offset="0.588" stop-color="#3ff68a"/><stop offset="0.676" stop-color="#52fa7a"/><stop offset="0.765" stop-color="#61fc6c"/><stop offset="0.853" stop-color="#75fe5c"/><stop offset="0.929" stop-color="#84ff51"/><stop offset="1.000" stop-color="#96fe44"/></linearGradient><linearGradient id="e22"><stop offset="0.000" stop-color="#25c0e7"/><stop offset="0.047" stop-color="#22c5e2"/><stop offset="0.082" stop-color="#20c7df"/><stop offset="0.106" stop-color="#1fc9dd"/><stop offset="0.129" stop-color="#1fc9dd"/><stop offset="0.153" stop-color="#1ad2d2"/><stop offset="0.176" stop-color="#18dbc5"/><stop offset="0.200" stop-color="#19e2bb"/><stop offset="0.235" stop-color="#20eaac"/><stop offset="0.282" stop-color="#2aefa1"/><stop offset="0.341" stop-color="#38f491"/><stop offset="0.412" stop-color="#3ff68a"/><stop offset="0.500" stop-color="#4ef97d"/><stop offset="0.588" stop-color="#59fb73"/><stop offset="0.676" stop-color="#71fe5f"/><stop offset="0.765" stop-color="#84ff51"/><stop offset="0.853" stop-color="#99fe42"/><stop offset="0.929" stop-color="#a7fc3a"/><stop offset="1.000" stop-color="#b4f836"/></linearGradient><linearGradient id="e23"><stop offset="0.000" stop-color="#25c0e7"/><stop offset="0.047" stop-color="#22c5e2"/><stop offset="0.082" stop-color="#20c7df"/><stop offset="0.106" stop-color="#1fc9dd"/><stop offset="0.129" stop-color="#1fc9dd"/><stop offset="0.153" stop-color="#1ad2d2"/><stop offset="0.176" stop-color="#18dbc5"/><stop offset="0.200" stop-color="#19e2bb"/><stop offset="0.235" stop-color="#20eaac"/><stop offset="0.282" stop-color="#2aefa1"/><stop offset="0.341" stop-color="#38f491"/><stop offset="0.412" stop-color="#3ff68a"/><stop offset="0.500" stop-color="#4ef97d"/><stop offset="0.588" stop-color="#59fb73"/><stop offset="0.676" stop-color="#71fe5f"/><stop offset="0.765" stop-color="#84ff51"/><stop offset="0.853" stop-color="#99fe42"/><stop offset="0.929" stop-color="#a7fc3a"/><stop offset="1.000" stop-color="#b4f836"/></linearGradient><linearGradient id="e24"><stop offset="0.000" stop-color="#25c0e7"/><stop offset="0.047" stop-color="#23c3e4"/><stop offset="0.082" stop-color="#22c5e2"/><stop offset="0.106" stop-color="#22c5e2"/><stop offset="0.129" stop-color="#20c7df"/><stop offset="0.153" stop-color="#1ccdd8"/><stop offset="0.176" stop-color="#19d5cd"/><stop offset="0.200" stop-color="#18dbc5"/><stop offset="0.235" stop-color="#1ae4b6"/><stop offset="0.282" stop-color="#1fe9af"/><stop offset="0.341" stop-color="#27eea4"/><stop offset="0.412" stop-color="#2cf09e"/><stop offset="0.500" stop-color="#35f394"/><stop offset="0.588" stop-color="#3ff68a"/><stop offset="0.676" stop-color="#52fa7a"/><stop offset="0.765" stop-color="#61fc6c"/><stop offset="0.853" stop-color="#75fe5c"/><stop offset="0.929" stop-color="#88ff4e"/><stop offset="1.000" stop-color="#96fe44"/></linearGradient><linearGradient id="e25"><stop offset="0.000" stop-color="#27bee9"/><stop offset="0.047" stop-color="#27bee9"/><stop offset="0.082" stop-color="#25c0e7"/><stop offset="0.106" stop-color="#25c0e7"/><stop offset="0.129" stop-color="#25c0e7"/><stop offset="0.153" stop-color="#20c7df"/><stop offset="0.176" stop-color="#1ecbda"/><stop offset="0.200" stop-color="#1ad2d2"/><stop offset="0.235" stop-color="#18d9c8"/><stop offset="0.282" stop-color="#18ddc2"/><stop offset="0.341" stop-color="#18e0bd"/><stop offset="0.412" stop-color="#19e3b9"/><stop offset="0.500" stop-color="#1ce6b4"/><stop offset="0.588" stop-color="#1fe9af"/><stop offset="0.676" stop-color="#27eea4"/><stop offset="0.765" stop-color="#2ff19b"/><stop offset="0.853" stop-color="#38f491"/><stop offset="0.929" stop-color="#43f787"/><stop offset="1.000" stop-color="#4ef97d"/></linearGradient><linearGradient id="e26"><stop offset="0.000" stop-color="#2ab9ee"/><stop offset="0.047" stop-color="#2ab9ee"/><stop offset="0.082" stop-color="#28bceb"/><stop offset="0.106" stop-color="#28bceb"/><stop offset="0.129" stop-color="#28bceb"/><stop offset="0.153" stop-color="#27bee9"/><stop offset="0.176" stop-color="#25c0e7"/><stop offset="0.200" stop-color="#22c5e2"/><stop offset="0.235" stop-color="#1fc9dd"/><stop offset="0.282" stop-color="#1ecbda"/><stop offset="0.341" stop-color="#1ccdd8"/><stop offset="0.412" stop-color="#1bd0d5"/><stop offset="0.500" stop-color="#1ad2d2"/><stop offset="0.588" stop-color="#19d5cd"/><stop offset="0.676" stop-color="#18d7ca"/><stop offset="0.765" stop-color="#18dbc5"/><stop offset="0.853" stop-color="#18dec0"/><stop offset="0.929" stop-color="#19e2bb"/><stop offset="1.000" stop-color="#1ae4b6"/></linearGradient><linearGradient id="e27"><stop offset="0.000" stop-color="#2cb7f0"/><stop offset="0.047" stop-color="#2eb4f2"/><stop offset="0.082" stop-color="#2fb2f4"/><stop offset="0.106" stop-color="#2fb2f4"/><stop offset="0.129" stop-color="#31aff5"/><stop offset="0.153" stop-color="#31aff5"/><stop offset="0.176" stop-color="#31aff5"/><stop offset="0.200" stop-color="#2fb2f4"/><stop offset="0.235" stop-color="#2fb2f4"/><stop offset="0.282" stop-color="#2fb2f4"/><stop offset="0.341" stop-color="#2fb2f4"/><stop offset="0.412" stop-color="#2fb2f4"/><stop offset="0.500" stop-color="#2eb4f2"/><stop offset="0.588" stop-color="#2eb4f2"/><stop offset="0.676" stop-color="#2eb4f2"/><stop offset="0.765" stop-color="#2cb7f0"/><stop offset="0.853" stop-color="#2ab9ee"/><stop offset="0.929" stop-color="#2ab9ee"/><stop offset="1.000" stop-color="#28bceb"/></linearGradient><linearGradient id="e28"><stop offset="0.000" stop-color="#2eb4f2"/><stop offset="0.047" stop-color="#31aff5"/><stop offset="0.082" stop-color="#35abf8"/><stop offset="0.106" stop-color="#38a5fb"/><stop offset="0.129" stop-color="#3aa3fc"/><stop offset="0.153" stop-color="#3d9efe"/><stop offset="0.176" stop-color="#3e9bfe"/><stop offset="0.200" stop-color="#4099ff"/><stop offset="0.235" stop-color="#4099ff"/><stop offset="0.282" stop-color="#4196ff"/><stop offset="0.341" stop-color="#4391fe"/><stop offset="0.412" stop-color="#448ffe"/><stop offset="0.500" stop-color="#458cfd"/><stop offset="0.588" stop-color="#458afc"/><stop offset="0.676" stop-color="#458afc"/><stop offset="0.765" stop-color="#4687fb"/><stop offset="0.853" stop-color="#4687fb"/><stop offset="0.929" stop-color="#4685fa"/><stop offset="1.000" stop-color="#4685fa"/></linearGradient><linearGradient id="e29"><stop offset="0.000" stop-color="#31aff5"/><stop offset="0.047" stop-color="#33adf7"/><stop offset="0.082" stop-color="#37a8fa"/><stop offset="0.106" stop-color="#3aa3fc"/><stop offset="0.129" stop-color="#3d9efe"/><stop offset="0.153" stop-color="#4099ff"/><stop offset="0.176" stop-color="#4294ff"/><stop offset="0.200" stop-color="#448ffe"/><stop offset="0.235" stop-color="#458afc"/><stop offset="0.282" stop-color="#4682f8"/><stop offset="0.341" stop-color="#477bf2"/><stop offset="0.412" stop-color="#4776ee"/><stop offset="0.500" stop-color="#4771e9"/><stop offset="0.588" stop-color="#466be3"/><stop offset="0.676" stop-color="#4669e0"/><stop offset="0.765" stop-color="#4666dd"/><stop offset="0.853" stop-color="#4661d6"/><stop offset="0.929" stop-color="#455ed3"/><stop offset="1.000" stop-color="#455ccf"/></linearGradient><linearGradient id="e30"><stop offset="0.000" stop-color="#35abf8"/><stop offset="0.047" stop-color="#37a8fa"/><stop offset="0.082" stop-color="#38a5fb"/><stop offset="0.106" stop-color="#3ba0fd"/><stop offset="0.129" stop-color="#4099ff"/><stop offset="0.153" stop-color="#4391fe"/><stop offset="0.176" stop-color="#458afc"/><stop offset="0.200" stop-color="#4682f8"/><stop offset="0.235" stop-color="#4778f0"/><stop offset="0.282" stop-color="#476ee6"/><stop offset="0.341" stop-color="#4661d6"/><stop offset="0.412" stop-color="#4559cb"/><stop offset="0.500" stop-color="#4451bf"/><stop offset="0.588" stop-color="#4146ac"/><stop offset="0.676" stop-color="#4040a2"/><stop offset="0.765" stop-color="#3f3b97"/><stop offset="0.853" stop-color="#3e3891"/><stop offset="0.929" stop-color="#3c3286"/><stop offset="1.000" stop-color="#3a2d79"/></linearGradient><linearGradient id="e31"><stop offset="0.000" stop-color="#37a8fa"/><stop offset="0.047" stop-color="#38a5fb"/><stop offset="0.082" stop-color="#3aa3fc"/><stop offset="0.106" stop-color="#3d9efe"/><stop offset="0.129" stop-color="#4294ff"/><stop offset="0.153" stop-color="#458afc"/><stop offset="0.176" stop-color="#4682f8"/><stop offset="0.200" stop-color="#4778f0"/><stop offset="0.235" stop-color="#466be3"/><stop offset="0.282" stop-color="#455ccf"/><stop offset="0.341" stop-color="#424bb5"/><stop offset="0.412" stop-color="#4143a7"/><stop offset="0.500" stop-color="#3e3891"/><stop offset="0.588" stop-color="#3a2d79"/><stop offset="0.676" stop-color="#372466"/><stop offset="0.765" stop-color="#351e58"/><stop offset="0.853" stop-color="#33184a"/><stop offset="0.929" stop-color="#30123b"/><stop offset="1.000" stop-color="#30123b"/></linearGradient><linearGradient id="e32"><stop offset="0.000" stop-color="#35abf8"/><stop offset="0.047" stop-color="#37a8fa"/><stop offset="0.082" stop-color="#38a5fb"/><stop offset="0.106" stop-color="#3ba0fd"/><stop offset="0.129" stop-color="#4099ff"/><stop offset="0.153" stop-color="#4391fe"/><stop offset="0.176" stop-color="#4687fb"/><stop offset="0.200" stop-color="#4682f8"/><stop offset="0.235" stop-color="#4776ee"/><stop offset="0.282" stop-color="#4669e0"/><stop offset="0.341" stop-color="#455ccf"/><stop offset="0.412" stop-color="#4454c3"/><stop offset="0.500" stop-color="#4249b1"/><stop offset="0.588" stop-color="#4040a2"/><stop offset="0.676" stop-color="#3f3b97"/><stop offset="0.765" stop-color="#3d358b"/><stop offset="0.853" stop-color="#3b2f80"/><stop offset="0.929" stop-color="#392a73"/><stop offset="1.000" stop-color="#372466"/></linearGradient><linearGradient id="e33"><stop offset="0.000" stop-color="#31aff5"/><stop offset="0.047" stop-color="#33adf7"/><stop offset="0.082" stop-color="#33adf7"/><stop offset="0.106" stop-color="#37a8fa"/><stop offset="0.129" stop-color="#38a5fb"/><stop offset="0.153" stop-color="#3ba0fd"/><stop offset="0.176" stop-color="#3e9bfe"/><stop offset="0.200" stop-color="#4196ff"/><stop offset="0.235" stop-color="#448ffe"/><stop offset="0.282" stop-color="#4687fb"/><stop offset="0.341" stop-color="#4680f6"/><stop offset="0.412" stop-color="#477bf2"/><stop offset="0.500" stop-color="#4776ee"/><stop offset="0.588" stop-color="#4771e9"/><stop offset="0.676" stop-color="#476ee6"/><stop offset="0.765" stop-color="#466be3"/><stop offset="0.853" stop-color="#4666dd"/><stop offset="0.929" stop-color="#4664da"/><stop offset="1.000" stop-color="#4661d6"/></linearGradient><linearGradient id="e34"><stop offset="0.000" stop-color="#2fb2f4"/><stop offset="0.047" stop-color="#2fb2f4"/><stop offset="0.082" stop-color="#2fb2f4"/><stop offset="0.106" stop-color="#2fb2f4"/><stop offset="0.129" stop-color="#31aff5"/><stop offset="0.153" stop-color="#31aff5"/><stop offset="0.176" stop-color="#33adf7"/><stop offset="0.200" stop-color="#35abf8"/><stop offset="0.235" stop-color="#37a8fa"/><stop offset="0.282" stop-color="#38a5fb"/><stop offset="0.341" stop-color="#3ba0fd"/><stop offset="0.412" stop-color="#3d9efe"/><stop offset="0.500" stop-color="#3d9efe"/><stop offset="0.588" stop-color="#3e9bfe"/><stop offset="0.676" stop-color="#4099ff"/><stop offset="0.765" stop-color="#4099ff"/><stop offset="0.853" stop-color="#4099ff"/><stop offset="0.929" stop-color="#4196ff"/><stop offset="1.000" stop-color="#4196ff"/></linearGradient><linearGradient id="e35"><stop offset="0.000" stop-color="#2eb4f2"/><stop offset="0.047" stop-color="#2cb7f0"/><stop offset="0.082" stop-color="#2ab9ee"/><stop offset="0.106" stop-color="#2ab9ee"/><stop offset="0.129" stop-color="#2ab9ee"/><stop offset="0.153" stop-color="#28bceb"/><stop offset="0.176" stop-color="#28bceb"/><stop offset="0.200" stop-color="#2ab9ee"/><stop offset="0.235" stop-color="#2ab9ee"/><stop offset="0.282" stop-color="#2ab9ee"/><stop offset="0.341" stop-color="#2cb7f0"/><stop offset="0.412" stop-color="#2cb7f0"/><stop offset="0.500" stop-color="#2cb7f0"/><stop offset="0.588" stop-color="#2cb7f0"/><stop offset="0.676" stop-color="#2cb7f0"/><stop offset="0.765" stop-color="#2ab9ee"/><stop offset="0.853" stop-color="#2ab9ee"/><stop offset="0.929" stop-color="#2ab9ee"/><stop offset="1.000" stop-color="#2ab9ee"/></linearGradient><linearGradient id="e36"><stop offset="0.000" stop-color="#2eb4f2"/><stop offset="0.047" stop-color="#2ab9ee"/><stop offset="0.082" stop-color="#28bceb"/><stop offset="0.106" stop-color="#27bee9"/><stop offset="0.129" stop-color="#27bee9"/><stop offset="0.153" stop-color="#25c0e7"/><stop offset="0.176" stop-color="#23c3e4"/><stop offset="0.200" stop-color="#23c3e4"/><stop offset="0.235" stop-color="#23c3e4"/><stop offset="0.282" stop-color="#25c0e7"/><stop offset="0.341" stop-color="#25c0e7"/><stop offset="0.412" stop-color="#23c3e4"/><stop offset="0.500" stop-color="#23c3e4"/><stop offset="0.588" stop-color="#22c5e2"/><stop offset="0.676" stop-color="#22c5e2"/><stop offset="0.765" stop-color="#20c7df"/><stop offset="0.853" stop-color="#20c7df"/><stop offset="0.929" stop-color="#1fc9dd"/><stop offset="1.000" stop-color="#1fc9dd"/></linearGradient><linearGradient id="e37"><stop offset="0.000" stop-color="#2eb4f2"/><stop offset="0.047" stop-color="#2ab9ee"/><stop offset="0.082" stop-color="#2ab9ee"/><stop offset="0.106" stop-color="#28bceb"/><stop offset="0.129" stop-color="#28bceb"/><stop offset="0.153" stop-color="#27bee9"/><stop offset="0.176" stop-color="#27bee9"/><stop offset="0.200" stop-color="#27bee9"/><stop offset="0.235" stop-color="#27bee9"/><stop offset="0.282" stop-color="#27bee9"/><stop offset="0.341" stop-color="#27bee9"/><stop offset="0.412" stop-color="#27bee9"/><stop offset="0.500" stop-color="#27bee9"/><stop offset="0.588" stop-color="#27bee9"/><stop offset="0.676" stop-color="#25c0e7"/><stop offset="0.765" stop-color="#25c0e7"/><stop offset="0.853" stop-color="#23c3e4"/><stop offset="0.929" stop-color="#23c3e4"/><stop offset="1.000" stop-color="#23c3e4"/></linearGradient><linearGradient id="e38"><stop offset="0.000" stop-color="#2eb4f2"/><stop offset="0.047" stop-color="#2eb4f2"/><stop offset="0.082" stop-color="#2eb4f2"/><stop offset="0.106" stop-color="#2eb4f2"/><stop offset="0.129" stop-color="#2eb4f2"/><stop offset="0.153" stop-color="#2eb4f2"/><stop offset="0.176" stop-color="#2fb2f4"/><stop offset="0.200" stop-color="#2fb2f4"/><stop offset="0.235" stop-color="#2fb2f4"/><stop offset="0.282" stop-color="#31aff5"/><stop offset="0.341" stop-color="#33adf7"/><stop offset="0.412" stop-color="#33adf7"/><stop offset="0.500" stop-color="#33adf7"/><stop offset="0.588" stop-color="#35abf8"/><stop offset="0.676" stop-color="#35abf8"/><stop offset="0.765" stop-color="#35abf8"/><stop offset="0.853" stop-color="#35abf8"/><stop offset="0.929" stop-color="#37a8fa"/><stop offset="1.000" stop-color="#37a8fa"/></linearGradient><linearGradient id="e39"><stop offset="0.000" stop-color="#2eb4f2"/><stop offset="0.047" stop-color="#2fb2f4"/><stop offset="0.082" stop-color="#33adf7"/><stop offset="0.106" stop-color="#33adf7"/><stop offset="0.129" stop-color="#35abf8"/><stop offset="0.153" stop-color="#37a8fa"/><stop offset="0.176" stop-color="#38a5fb"/><stop offset="0.200" stop-color="#3aa3fc"/><stop offset="0.235" stop-color="#3aa3fc"/><stop offset="0.282" stop-color="#3ba0fd"/><stop offset="0.341" stop-color="#3e9bfe"/><stop offset="0.412" stop-color="#4099ff"/><stop offset="0.500" stop-color="#4196ff"/><stop offset="0.588" stop-color="#4294ff"/><stop offset="0.676" stop-color="#4391fe"/><stop offset="0.765" stop-color="#448ffe"/><stop offset="0.853" stop-color="#458cfd"/><stop offset="0.929" stop-color="#458afc"/><stop offset="1.000" stop-color="#4687fb"/></linearGradient><linearGradient id="e40"><stop offset="0.000" stop-color="#2eb4f2"/><stop offset="0.047" stop-color="#31aff5"/><stop offset="0.082" stop-color="#35abf8"/><stop offset="0.106" stop-color="#38a5fb"/><stop offset="0.129" stop-color="#3aa3fc"/><stop offset="0.153" stop-color="#3d9efe"/><stop offset="0.176" stop-color="#3e9bfe"/><stop offset="0.200" stop-color="#4099ff"/><stop offset="0.235" stop-color="#4196ff"/><stop offset="0.282" stop-color="#4294ff"/><stop offset="0.341" stop-color="#448ffe"/><stop offset="0.412" stop-color="#458cfd"/><stop offset="0.500" stop-color="#4687fb"/><stop offset="0.588" stop-color="#4682f8"/><stop offset="0.676" stop-color="#4680f6"/><stop offset="0.765" stop-color="#477bf2"/><stop offset="0.853" stop-color="#4776ee"/><stop offset="0.929" stop-color="#4773eb"/><stop offset="1.000" stop-color="#4771e9"/></linearGradient><linearGradient id="e41"><stop offset="0.000" stop-color="#2eb4f2"/><stop offset="0.047" stop-color="#33adf7"/><stop offset="0.082" stop-color="#37a8fa"/><stop offset="0.106" stop-color="#3aa3fc"/><stop offset="0.129" stop-color="#3ba0fd"/><stop offset="0.153" stop-color="#3e9bfe"/><stop offset="0.176" stop-color="#4099ff"/><stop offset="0.200" stop-color="#4196ff"/><stop offset="0.235" stop-color="#4294ff"/><stop offset="0.282" stop-color="#4391fe"/><stop offset="0.341" stop-color="#458cfd"/><stop offset="0.412" stop-color="#4687fb"/><stop offset="0.500" stop-color="#4682f8"/><stop offset="0.588" stop-color="#4680f6"/><stop offset="0.676" stop-color="#477bf2"/><stop offset="0.765" stop-color="#4776ee"/><stop offset="0.853" stop-color="#4771e9"/><stop offset="0.929" stop-color="#466be3"/><stop offset="1.000" stop-color="#4669e0"/></linearGradient><linearGradient id="e42"><stop offset="0.000" stop-color="#2eb4f2"/><stop offset="0.047" stop-color="#31aff5"/><stop offset="0.082" stop-color="#35abf8"/><stop offset="0.106" stop-color="#37a8fa"/><stop offset="0.129" stop-color="#3aa3fc"/><stop offset="0.153" stop-color="#3ba0fd"/><stop offset="0.176" stop-color="#3d9efe"/><stop offset="0.200" stop-color="#3e9bfe"/><stop offset="0.235" stop-color="#4099ff"/><stop offset="0.282" stop-color="#4196ff"/><stop offset="0.341" stop-color="#4391fe"/><stop offset="0.412" stop-color="#448ffe"/><stop offset="0.500" stop-color="#458cfd"/><stop offset="0.588" stop-color="#4687fb"/><stop offset="0.676" stop-color="#4685fa"/><stop offset="0.765" stop-color="#4680f6"/><stop offset="0.853" stop-color="#467df4"/><stop offset="0.929" stop-color="#4778f0"/><stop offset="1.000" stop-color="#4776ee"/></linearGradient><linearGradient id="e43"><stop offset="0.000" stop-color="#2eb4f2"/><stop offset="0.047" stop-color="#2fb2f4"/><stop offset="0.082" stop-color="#31aff5"/><stop offset="0.106" stop-color="#33adf7"/><stop offset="0.129" stop-color="#35abf8"/><stop offset="0.153" stop-color="#37a8fa"/><stop offset="0.176" stop-color="#38a5fb"/><stop offset="0.200" stop-color="#38a5fb"/><stop offset="0.235" stop-color="#38a5fb"/><stop offset="0.282" stop-color="#3aa3fc"/><stop offset="0.341" stop-color="#3ba0fd"/><stop offset="0.412" stop-color="#3d9efe"/><stop offset="0.500" stop-color="#3e9bfe"/><stop offset="0.588" stop-color="#4099ff"/><stop offset="0.676" stop-color="#4196ff"/><stop offset="0.765" stop-color="#4294ff"/><stop offset="0.853" stop-color="#4391fe"/><stop offset="0.929" stop-color="#4391fe"/><stop offset="1.000" stop-color="#448ffe"/></linearGradient><linearGradient id="e44"><stop offset="0.000" stop-color="#2eb4f2"/><stop offset="0.047" stop-color="#2eb4f2"/><stop offset="0.082" stop-color="#2fb2f4"/><stop offset="0.106" stop-color="#2fb2f4"/><stop offset="0.129" stop-color="#2fb2f4"/><stop offset="0.153" stop-color="#2eb4f2"/><stop offset="0.176" stop-color="#2eb4f2"/><stop offset="0.200" stop-color="#2cb7f0"/><stop offset="0.235" stop-color="#2cb7f0"/><stop offset="0.282" stop-color="#2cb7f0"/><stop offset="0.341" stop-color="#2eb4f2"/><stop offset="0.412" stop-color="#2eb4f2"/><stop offset="0.500" stop-color="#2eb4f2"/><stop offset="0.588" stop-color="#2cb7f0"/><stop offset="0.676" stop-color="#2cb7f0"/><stop offset="0.765" stop-color="#2cb7f0"/><stop offset="0.853" stop-color="#2cb7f0"/><stop offset="0.929" stop-color="#2cb7f0"/><stop offset="1.000" stop-color="#2cb7f0"/></linearGradient><linearGradient id="e45"><stop offset="0.000" stop-color="#2eb4f2"/><stop offset="0.047" stop-color="#2cb7f0"/><stop offset="0.082" stop-color="#2ab9ee"/><stop offset="0.106" stop-color="#2ab9ee"/><stop offset="0.129" stop-color="#27bee9"/><stop offset="0.153" stop-color="#22c5e2"/><stop offset="0.176" stop-color="#1ecbda"/><stop offset="0.200" stop-color="#1ad2d2"/><stop offset="0.235" stop-color="#18d7ca"/><stop offset="0.282" stop-color="#18d9c8"/><stop offset="0.341" stop-color="#18d9c8"/><stop offset="0.412" stop-color="#18ddc2"/><stop offset="0.500" stop-color="#18e0bd"/><stop offset="0.588" stop-color="#19e3b9"/><stop offset="0.676" stop-color="#1ce6b4"/><stop offset="0.765" stop-color="#1fe9af"/><stop offset="0.853" stop-color="#25eca7"/><stop offset="0.929" stop-color="#27eea4"/><stop offset="1.000" stop-color="#2cf09e"/></linearGradient><linearGradient id="e46"><stop offset="0.000" stop-color="#2eb4f2"/><stop offset="0.047" stop-color="#28bceb"/><stop offset="0.082" stop-color="#27bee9"/><stop offset="0.106" stop-color="#23c3e4"/><stop offset="0.129" stop-color="#1fc9dd"/><stop offset="0.153" stop-color="#18d7ca"/><stop offset="0.176" stop-color="#19e2bb"/><stop offset="0.200" stop-color="#20eaac"/><stop offset="0.235" stop-color="#2cf09e"/><stop offset="0.282" stop-color="#32f298"/><stop offset="0.341" stop-color="#38f491"/><stop offset="0.412" stop-color="#46f884"/><stop offset="0.500" stop-color="#55fa76"/><stop offset="0.588" stop-color="#65fd69"/><stop offset="0.676" stop-color="#79fe59"/><stop offset="0.765" stop-color="#88ff4e"/><stop offset="0.853" stop-color="#99fe42"/><stop offset="0.929" stop-color="#a4fc3c"/><stop offset="1.000" stop-color="#affa37"/></linearGradient><linearGradient id="e47"><stop offset="0.000" stop-color="#2eb4f2"/><stop offset="0.047" stop-color="#28bceb"/><stop offset="0.082" stop-color="#25c0e7"/><stop offset="0.106" stop-color="#23c3e4"/><stop offset="0.129" stop-color="#1ecbda"/><stop offset="0.153" stop-color="#18d9c8"/><stop offset="0.176" stop-color="#19e3b9"/><stop offset="0.200" stop-color="#25eca7"/><stop offset="0.235" stop-color="#35f394"/><stop offset="0.282" stop-color="#3cf58e"/><stop offset="0.341" stop-color="#43f787"/><stop offset="0.412" stop-color="#52fa7a"/><stop offset="0.500" stop-color="#61fc6c"/><stop offset="0.588" stop-color="#71fe5f"/><stop offset="0.676" stop-color="#84ff51"/><stop offset="0.765" stop-color="#96fe44"/><stop offset="0.853" stop-color="#a4fc3c"/><stop offset="0.929" stop-color="#b1f936"/><stop offset="1.000" stop-color="#bcf534"/></linearGradient><linearGradient id="e48"><stop offset="0.000" stop-color="#2eb4f2"/><stop offset="0.047" stop-color="#2ab9ee"/><stop offset="0.082" stop-color="#28bceb"/><stop offset="0.106" stop-color="#27bee9"/><stop offset="0.129" stop-color="#23c3e4"/><stop offset="0.153" stop-color="#1ecbda"/><stop offset="0.176" stop-color="#1ad4d0"/><stop offset="0.200" stop-color="#18d9c8"/><stop offset="0.235" stop-color="#18e0bd"/><stop offset="0.282" stop-color="#19e2bb"/><stop offset="0.341" stop-color="#19e3b9"/><stop offset="0.412" stop-color="#1ce6b4"/><stop offset="0.500" stop-color="#1fe9af"/><stop offset="0.588" stop-color="#25eca7"/><stop offset="0.676" stop-color="#2cf09e"/><stop offset="0.765" stop-color="#35f394"/><stop offset="0.853" stop-color="#3ff68a"/><stop offset="0.929" stop-color="#46f884"/><stop offset="1.000" stop-color="#52fa7a"/></linearGradient><linearGradient id="e49"><stop offset="0.000" stop-color="#2eb4f2"/><stop offset="0.047" stop-color="#2cb7f0"/><stop offset="0.082" stop-color="#2ab9ee"/><stop offset="0.106" stop-color="#28bceb"/><stop offset="0.129" stop-color="#27bee9"/><stop offset="0.153" stop-color="#25c0e7"/><stop offset="0.176" stop-color="#22c5e2"/><stop offset="0.200" stop-color="#20c7df"/><stop offset="0.235" stop-color="#1fc9dd"/><stop offset="0.282" stop-color="#1fc9dd"/><stop offset="0.341" stop-color="#1fc9dd"/><stop offset="0.412" stop-color="#1ecbda"/><stop offset="0.500" stop-color="#1ccdd8"/><stop offset="0.588" stop-color="#1bd0d5"/><stop offset="0.676" stop-color="#1ad4d0"/><stop offset="0.765" stop-color="#19d5cd"/><stop offset="0.853" stop-color="#18d7ca"/><stop offset="0.929" stop-color="#18d9c8"/><stop offset="1.000" stop-color="#18dbc5"/></linearGradient><linearGradient id="e50"><stop offset="0.000" stop-color="#2eb4f2"/><stop offset="0.047" stop-color="#2cb7f0"/><stop offset="0.082" stop-color="#2ab9ee"/><stop offset="0.106" stop-color="#28bceb"/><stop offset="0.129" stop-color="#28bceb"/><stop offset="0.153" stop-color="#27bee9"/><stop offset="0.176" stop-color="#25c0e7"/><stop offset="0.200" stop-color="#25c0e7"/><stop offset="0.235" stop-color="#25c0e7"/><stop offset="0.282" stop-color="#25c0e7"/><stop offset="0.341" stop-color="#25c0e7"/><stop offset="0.412" stop-color="#25c0e7"/><stop offset="0.500" stop-color="#23c3e4"/><stop offset="0.588" stop-color="#22c5e2"/><stop offset="0.676" stop-color="#20c7df"/><stop offset="0.765" stop-color="#20c7df"/><stop offset="0.853" stop-color="#1fc9dd"/><stop offset="0.929" stop-color="#1ecbda"/><stop offset="1.000" stop-color="#1ecbda"/></linearGradient><linearGradient id="e51"><stop offset="0.000" stop-color="#2eb4f2"/><stop offset="0.047" stop-color="#2eb4f2"/><stop offset="0.082" stop-color="#2eb4f2"/><stop offset="0.106" stop-color="#2eb4f2"/><stop offset="0.129" stop-color="#2eb4f2"/><stop offset="0.153" stop-color="#2eb4f2"/><stop offset="0.176" stop-color="#2eb4f2"/><stop offset="0.200" stop-color="#2eb4f2"/><stop offset="0.235" stop-color="#2eb4f2"/><stop offset="0.282" stop-color="#2fb2f4"/><stop offset="0.341" stop-color="#2fb2f4"/><stop offset="0.412" stop-color="#2fb2f4"/><stop offset="0.500" stop-color="#2fb2f4"/><stop offset="0.588" stop-color="#2fb2f4"/><stop offset="0.676" stop-color="#2fb2f4"/><stop offset="0.765" stop-color="#2fb2f4"/><stop offset="0.853" stop-color="#2fb2f4"/><stop offset="0.929" stop-color="#2fb2f4"/><stop offset="1.000" stop-color="#2fb2f4"/></linearGradient><linearGradient id="e52"><stop offset="0.000" stop-color="#2eb4f2"/><stop offset="0.047" stop-color="#2eb4f2"/><stop offset="0.082" stop-color="#2fb2f4"/><stop offset="0.106" stop-color="#2fb2f4"/><stop offset="0.129" stop-color="#31aff5"/><stop offset="0.153" stop-color="#31aff5"/><stop offset="0.176" stop-color="#31aff5"/><stop offset="0.200" stop-color="#33adf7"/><stop offset="0.235" stop-color="#33adf7"/><stop offset="0.282" stop-color="#35abf8"/><stop offset="0.341" stop-color="#37a8fa"/><stop offset="0.412" stop-color="#37a8fa"/><stop offset="0.500" stop-color="#37a8fa"/><stop offset="0.588" stop-color="#38a5fb"/><stop offset="0.676" stop-color="#38a5fb"/><stop offset="0.765" stop-color="#38a5fb"/><stop offset="0.853" stop-color="#3aa3fc"/><stop offset="0.929" stop-color="#3aa3fc"/><stop offset="1.000" stop-color="#3ba0fd"/></linearGradient><linearGradient id="e53"><stop offset="0.000" stop-color="#2eb4f2"/><stop offset="0.047" stop-color="#2fb2f4"/><stop offset="0.082" stop-color="#31aff5"/><stop offset="0.106" stop-color="#31aff5"/><stop offset="0.129" stop-color="#33adf7"/><stop offset="0.153" stop-color="#35abf8"/><stop offset="0.176" stop-color="#35abf8"/><stop offset="0.200" stop-color="#37a8fa"/><stop offset="0.235" stop-color="#37a8fa"/><stop offset="0.282" stop-color="#38a5fb"/><stop offset="0.341" stop-color="#3aa3fc"/><stop offset="0.412" stop-color="#3ba0fd"/><stop offset="0.500" stop-color="#3ba0fd"/><stop offset="0.588" stop-color="#3d9efe"/><stop offset="0.676" stop-color="#3e9bfe"/><stop offset="0.765" stop-color="#4099ff"/><stop offset="0.853" stop-color="#4099ff"/><stop offset="0.929" stop-color="#4196ff"/><stop offset="1.000" stop-color="#4196ff"/></linearGradient><linearGradient id="e54"><stop offset="0.000" stop-color="#2eb4f2"/><stop offset="0.047" stop-color="#2fb2f4"/><stop offset="0.082" stop-color="#33adf7"/><stop offset="0.106" stop-color="#33adf7"/><stop offset="0.129" stop-color="#35abf8"/><stop offset="0.153" stop-color="#37a8fa"/><stop offset="0.176" stop-color="#38a5fb"/><stop offset="0.200" stop-color="#3aa3fc"/><stop offset="0.235" stop-color="#3aa3fc"/><stop offset="0.282" stop-color="#3ba0fd"/><stop offset="0.341" stop-color="#3d9efe"/><stop offset="0.412" stop-color="#3e9bfe"/><stop offset="0.500" stop-color="#4099ff"/><stop offset="0.588" stop-color="#4196ff"/><stop offset="0.676" stop-color="#4294ff"/><stop offset="0.765" stop-color="#4391fe"/><stop offset="0.853" stop-color="#448ffe"/><stop offset="0.929" stop-color="#458cfd"/><stop offset="1.000" stop-color="#458afc"/></linearGradient><linearGradient id="e55"><stop offset="0.000" stop-color="#2eb4f2"/><stop offset="0.047" stop-color="#2fb2f4"/><stop offset="0.082" stop-color="#33adf7"/><stop offset="0.106" stop-color="#35abf8"/><stop offset="0.129" stop-color="#35abf8"/><stop offset="0.153" stop-color="#37a8fa"/><stop offset="0.176" stop-color="#38a5fb"/><stop offset="0.200" stop-color="#3aa3fc"/><stop offset="0.235" stop-color="#3ba0fd"/><stop offset="0.282" stop-color="#3d9efe"/><stop offset="0.341" stop-color="#3e9bfe"/><stop offset="0.412" stop-color="#4099ff"/><stop offset="0.500" stop-color="#4196ff"/><stop offset="0.588" stop-color="#4294ff"/><stop offset="0.676" stop-color="#4391fe"/><stop offset="0.765" stop-color="#448ffe"/><stop offset="0.853" stop-color="#458cfd"/><stop offset="0.929" stop-color="#458afc"/><stop offset="1.000" stop-color="#4687fb"/></linearGradient><linearGradient id="e56"><stop offset="0.000" stop-color="#2eb4f2"/><stop offset="0.047" stop-color="#2fb2f4"/><stop offset="0.082" stop-color="#33adf7"/><stop offset="0.106" stop-color="#33adf7"/><stop offset="0.129" stop-color="#35abf8"/><stop offset="0.153" stop-color="#37a8fa"/><stop offset="0.176" stop-color="#38a5fb"/><stop offset="0.200" stop-color="#3aa3fc"/><stop offset="0.235" stop-color="#3ba0fd"/><stop offset="0.282" stop-color="#3d9efe"/><stop offset="0.341" stop-color="#4099ff"/><stop offset="0.412" stop-color="#4196ff"/><stop offset="0.500" stop-color="#4294ff"/><stop offset="0.588" stop-color="#4391fe"/><stop offset="0.676" stop-color="#448ffe"/><stop offset="0.765" stop-color="#458cfd"/><stop offset="0.853" stop-color="#458afc"/><stop offset="0.929" stop-color="#4687fb"/><stop offset="1.000" stop-color="#4685fa"/></linearGradient><linearGradient id="e57"><stop offset="0.000" stop-color="#2eb4f2"/><stop offset="0.047" stop-color="#31aff5"/><stop offset="0.082" stop-color="#35abf8"/><stop offset="0.106" stop-color="#37a8fa"/><stop offset="0.129" stop-color="#38a5fb"/><stop offset="0.153" stop-color="#3ba0fd"/><stop offset="0.176" stop-color="#3d9efe"/><stop offset="0.200" stop-color="#4099ff"/><stop offset="0.235" stop-color="#4196ff"/><stop offset="0.282" stop-color="#448ffe"/><stop offset="0.341" stop-color="#4687fb"/><stop offset="0.412" stop-color="#4682f8"/><stop offset="0.500" stop-color="#467df4"/><stop offset="0.588" stop-color="#477bf2"/><stop offset="0.676" stop-color="#4776ee"/><stop offset="0.765" stop-color="#4773eb"/><stop offset="0.853" stop-color="#476ee6"/><stop offset="0.929" stop-color="#466be3"/><stop offset="1.000" stop-color="#4666dd"/></linearGradient><linearGradient id="e58"><stop offset="0.000" stop-color="#2eb4f2"/><stop offset="0.047" stop-color="#33adf7"/><stop offset="0.082" stop-color="#38a5fb"/><stop offset="0.106" stop-color="#3aa3fc"/><stop offset="0.129" stop-color="#3d9efe"/><stop offset="0.153" stop-color="#4099ff"/><stop offset="0.176" stop-color="#4294ff"/><stop offset="0.200" stop-color="#448ffe"/><stop offset="0.235" stop-color="#4687fb"/><stop offset="0.282" stop-color="#467df4"/><stop offset="0.341" stop-color="#4771e9"/><stop offset="0.412" stop-color="#4669e0"/><stop offset="0.500" stop-color="#4664da"/><stop offset="0.588" stop-color="#455ed3"/><stop offset="0.676" stop-color="#4559cb"/><stop offset="0.765" stop-color="#4451bf"/><stop offset="0.853" stop-color="#424bb5"/><stop offset="0.929" stop-color="#4146ac"/><stop offset="1.000" stop-color="#4040a2"/></linearGradient><linearGradient id="e59"><stop offset="0.000" stop-color="#2eb4f2"/><stop offset="0.047" stop-color="#31aff5"/><stop offset="0.082" stop-color="#35abf8"/><stop offset="0.106" stop-color="#38a5fb"/><stop offset="0.129" stop-color="#3aa3fc"/><stop offset="0.153" stop-color="#3d9efe"/><stop offset="0.176" stop-color="#4099ff"/><stop offset="0.200" stop-color="#4196ff"/><stop offset="0.235" stop-color="#448ffe"/><stop offset="0.282" stop-color="#4687fb"/><stop offset="0.341" stop-color="#477bf2"/><stop offset="0.412" stop-color="#4776ee"/><stop offset="0.500" stop-color="#4771e9"/><stop offset="0.588" stop-color="#466be3"/><stop offset="0.676" stop-color="#4669e0"/><stop offset="0.765" stop-color="#4664da"/><stop offset="0.853" stop-color="#455ed3"/><stop offset="0.929" stop-color="#4559cb"/><stop offset="1.000" stop-color="#4456c7"/></linearGradient><linearGradient id="e60"><stop offset="0.000" stop-color="#2eb4f2"/><stop offset="0.047" stop-color="#2eb4f2"/><stop offset="0.082" stop-color="#2fb2f4"/><stop offset="0.106" stop-color="#2fb2f4"/><stop offset="0.129" stop-color="#31aff5"/><stop offset="0.153" stop-color="#31aff5"/><stop offset="0.176" stop-color="#33adf7"/><stop offset="0.200" stop-color="#33adf7"/><stop offset="0.235" stop-color="#35abf8"/><stop offset="0.282" stop-color="#38a5fb"/><stop offset="0.341" stop-color="#3ba0fd"/><stop offset="0.412" stop-color="#3d9efe"/><stop offset="0.500" stop-color="#3e9bfe"/><stop offset="0.588" stop-color="#3e9bfe"/><stop offset="0.676" stop-color="#4099ff"/><stop offset="0.765" stop-color="#4196ff"/><stop offset="0.853" stop-color="#4196ff"/><stop offset="0.929" stop-color="#4294ff"/><stop offset="1.000" stop-color="#4391fe"/></linearGradient><linearGradient id="e61"><stop offset="0.000" stop-color="#2eb4f2"/><stop offset="0.047" stop-color="#2cb7f0"/><stop offset="0.082" stop-color="#2ab9ee"/><stop offset="0.106" stop-color="#2ab9ee"/><stop offset="0.129" stop-color="#2ab9ee"/><stop offset="0.153" stop-color="#28bceb"/><stop offset="0.176" stop-color="#28bceb"/><stop offset="0.200" stop-color="#28bceb"/><stop offset="0.235" stop-color="#27bee9"/><stop offset="0.282" stop-color="#28bceb"/><stop offset="0.341" stop-color="#2ab9ee"/><stop offset="0.412" stop-color="#2ab9ee"/><stop offset="0.500" stop-color="#28bceb"/><stop offset="0.588" stop-color="#28bceb"/><stop offset="0.676" stop-color="#28bceb"/><stop offset="0.765" stop-color="#28bceb"/><stop offset="0.853" stop-color="#28bceb"/><stop offset="0.929" stop-color="#28bceb"/><stop offset="1.000" stop-color="#28bceb"/></linearGradient><linearGradient id="e62"><stop offset="0.000" stop-color="#2eb4f2"/><stop offset="0.047" stop-color="#2ab9ee"/><stop offset="0.082" stop-color="#2ab9ee"/><stop offset="0.106" stop-color="#28bceb"/><stop offset="0.129" stop-color="#28bceb"/><stop offset="0.153" stop-color="#27bee9"/><stop offset="0.176" stop-color="#27bee9"/><stop offset="0.200" stop-color="#25c0e7"/><stop offset="0.235" stop-color="#23c3e4"/><stop offset="0.282" stop-color="#25c0e7"/><stop offset="0.341" stop-color="#25c0e7"/><stop offset="0.412" stop-color="#25c0e7"/><stop offset="0.500" stop-color="#25c0e7"/><stop offset="0.588" stop-color="#23c3e4"/><stop offset="0.676" stop-color="#23c3e4"/><stop offset="0.765" stop-color="#22c5e2"/><stop offset="0.853" stop-color="#22c5e2"/><stop offset="0.929" stop-color="#22c5e2"/><stop offset="1.000" stop-color="#22c5e2"/></linearGradient><linearGradient id="e63"><stop offset="0.000" stop-color="#2eb4f2"/><stop offset="0.047" stop-color="#2cb7f0"/><stop offset="0.082" stop-color="#2cb7f0"/><stop offset="0.106" stop-color="#2cb7f0"/><stop offset="0.129" stop-color="#2ab9ee"/><stop offset="0.153" stop-color="#2ab9ee"/><stop offset="0.176" stop-color="#2ab9ee"/><stop offset="0.200" stop-color="#2ab9ee"/><stop offset="0.235" stop-color="#28bceb"/><stop offset="0.282" stop-color="#2ab9ee"/><stop offset="0.341" stop-color="#2ab9ee"/><stop offset="0.412" stop-color="#2ab9ee"/><stop offset="0.500" stop-color="#2ab9ee"/><stop offset="0.588" stop-color="#2ab9ee"/><stop offset="0.676" stop-color="#2ab9ee"/><stop offset="0.765" stop-color="#2ab9ee"/><stop offset="0.853" stop-color="#2ab9ee"/><stop offset="0.929" stop-color="#2ab9ee"/><stop offset="1.000" stop-color="#2ab9ee"/></linearGradient><linearGradient id="e64"><stop offset="0.000" stop-color="#2eb4f2"/><stop offset="0.047" stop-color="#2fb2f4"/><stop offset="0.082" stop-color="#31aff5"/><stop offset="0.106" stop-color="#33adf7"/><stop offset="0.129" stop-color="#35abf8"/><stop offset="0.153" stop-color="#37a8fa"/><stop offset="0.176" stop-color="#37a8fa"/><stop offset="0.200" stop-color="#38a5fb"/><stop offset="0.235" stop-color="#3aa3fc"/><stop offset="0.282" stop-color="#3ba0fd"/><stop offset="0.341" stop-color="#3e9bfe"/><stop offset="0.412" stop-color="#4196ff"/><stop offset="0.500" stop-color="#4391fe"/><stop offset="0.588" stop-color="#458cfd"/><stop offset="0.676" stop-color="#4687fb"/><stop offset="0.765" stop-color="#4685fa"/><stop offset="0.853" stop-color="#4680f6"/><stop offset="0.929" stop-color="#467df4"/><stop offset="1.000" stop-color="#477bf2"/></linearGradient><linearGradient id="e65"><stop offset="0.000" stop-color="#2eb4f2"/><stop offset="0.047" stop-color="#35abf8"/><stop offset="0.082" stop-color="#3aa3fc"/><stop offset="0.106" stop-color="#3d9efe"/><stop offset="0.129" stop-color="#4196ff"/><stop offset="0.153" stop-color="#4391fe"/><stop offset="0.176" stop-color="#448ffe"/><stop offset="0.200" stop-color="#458afc"/><stop offset="0.235" stop-color="#4685fa"/><stop offset="0.282" stop-color="#467df4"/><stop offset="0.341" stop-color="#4773eb"/><stop offset="0.412" stop-color="#4666dd"/><stop offset="0.500" stop-color="#4559cb"/><stop offset="0.588" stop-color="#424bb5"/><stop offset="0.676" stop-color="#4040a2"/><stop offset="0.765" stop-color="#3d358b"/><stop offset="0.853" stop-color="#392a73"/><stop offset="0.929" stop-color="#36215f"/><stop offset="1.000" stop-color="#321543"/></linearGradient><linearGradient id="e66"><stop offset="0.000" stop-color="#2eb4f2"/><stop offset="0.047" stop-color="#2fb2f4"/><stop offset="0.082" stop-color="#33adf7"/><stop offset="0.106" stop-color="#35abf8"/><stop offset="0.129" stop-color="#35abf8"/><stop offset="0.153" stop-color="#37a8fa"/><stop offset="0.176" stop-color="#38a5fb"/><stop offset="0.200" stop-color="#3aa3fc"/><stop offset="0.235" stop-color="#3ba0fd"/><stop offset="0.282" stop-color="#3e9bfe"/><stop offset="0.341" stop-color="#4196ff"/><stop offset="0.412" stop-color="#4294ff"/><stop offset="0.500" stop-color="#458cfd"/><stop offset="0.588" stop-color="#4687fb"/><stop offset="0.676" stop-color="#4682f8"/><stop offset="0.765" stop-color="#4680f6"/><stop offset="0.853" stop-color="#477bf2"/><stop offset="0.929" stop-color="#4778f0"/><stop offset="1.000" stop-color="#4776ee"/></linearGradient><linearGradient id="e67"><stop offset="0.000" stop-color="#2eb4f2"/><stop offset="0.047" stop-color="#2ab9ee"/><stop offset="0.082" stop-color="#2ab9ee"/><stop offset="0.106" stop-color="#28bceb"/><stop offset="0.129" stop-color="#28bceb"/><stop offset="0.153" stop-color="#27bee9"/><stop offset="0.176" stop-color="#27bee9"/><stop offset="0.200" stop-color="#27bee9"/><stop offset="0.235" stop-color="#27bee9"/><stop offset="0.282" stop-color="#25c0e7"/><stop offset="0.341" stop-color="#25c0e7"/><stop offset="0.412" stop-color="#25c0e7"/><stop offset="0.500" stop-color="#23c3e4"/><stop offset="0.588" stop-color="#22c5e2"/><stop offset="0.676" stop-color="#20c7df"/><stop offset="0.765" stop-color="#1fc9dd"/><stop offset="0.853" stop-color="#1ecbda"/><stop offset="0.929" stop-color="#1ccdd8"/><stop offset="1.000" stop-color="#1bd0d5"/></linearGradient><linearGradient id="e68"><stop offset="0.000" stop-color="#2eb4f2"/><stop offset="0.047" stop-color="#2eb4f2"/><stop offset="0.082" stop-color="#2fb2f4"/><stop offset="0.106" stop-color="#2fb2f4"/><stop offset="0.129" stop-color="#2fb2f4"/><stop offset="0.153" stop-color="#31aff5"/><stop offset="0.176" stop-color="#31aff5"/><stop offset="0.200" stop-color="#31aff5"/><stop offset="0.235" stop-color="#33adf7"/><stop offset="0.282" stop-color="#35abf8"/><stop offset="0.341" stop-color="#35abf8"/><stop offset="0.412" stop-color="#37a8fa"/><stop offset="0.500" stop-color="#37a8fa"/><stop offset="0.588" stop-color="#37a8fa"/><stop offset="0.676" stop-color="#37a8fa"/><stop offset="0.765" stop-color="#38a5fb"/><stop offset="0.853" stop-color="#38a5fb"/><stop offset="0.929" stop-color="#38a5fb"/><stop offset="1.000" stop-color="#38a5fb"/></linearGradient><linearGradient id="e69"><stop offset="0.000" stop-color="#2eb4f2"/><stop offset="0.047" stop-color="#2fb2f4"/><stop offset="0.082" stop-color="#31aff5"/><stop offset="0.106" stop-color="#31aff5"/><stop offset="0.129" stop-color="#33adf7"/><stop offset="0.153" stop-color="#33adf7"/><stop offset="0.176" stop-color="#35abf8"/><stop offset="0.200" stop-color="#37a8fa"/><stop offset="0.235" stop-color="#37a8fa"/><stop offset="0.282" stop-color="#38a5fb"/><stop offset="0.341" stop-color="#3aa3fc"/><stop offset="0.412" stop-color="#3ba0fd"/><stop offset="0.500" stop-color="#3ba0fd"/><stop offset="0.588" stop-color="#3d9efe"/><stop offset="0.676" stop-color="#3e9bfe"/><stop offset="0.765" stop-color="#3e9bfe"/><stop offset="0.853" stop-color="#4099ff"/><stop offset="0.929" stop-color="#4099ff"/><stop offset="1.000" stop-color="#4196ff"/></linearGradient><linearGradient id="e70"><stop offset="0.000" stop-color="#2eb4f2"/><stop offset="0.047" stop-color="#2fb2f4"/><stop offset="0.082" stop-color="#31aff5"/><stop offset="0.106" stop-color="#31aff5"/><stop offset="0.129" stop-color="#33adf7"/><stop offset="0.153" stop-color="#33adf7"/><stop offset="0.176" stop-color="#35abf8"/><stop offset="0.200" stop-color="#37a8fa"/><stop offset="0.235" stop-color="#38a5fb"/><stop offset="0.282" stop-color="#38a5fb"/><stop offset="0.341" stop-color="#3aa3fc"/><stop offset="0.412" stop-color="#3ba0fd"/><stop offset="0.500" stop-color="#3d9efe"/><stop offset="0.588" stop-color="#3d9efe"/><stop offset="0.676" stop-color="#3e9bfe"/><stop offset="0.765" stop-color="#3e9bfe"/><stop offset="0.853" stop-color="#4099ff"/><stop offset="0.929" stop-color="#4196ff"/><stop offset="1.000" stop-color="#4196ff"/></linearGradient><linearGradient id="e71"><stop offset="0.000" stop-color="#2eb4f2"/><stop offset="0.047" stop-color="#2fb2f4"/><stop offset="0.082" stop-color="#31aff5"/><stop offset="0.106" stop-color="#31aff5"/><stop offset="0.129" stop-color="#33adf7"/><stop offset="0.153" stop-color="#33adf7"/><stop offset="0.176" stop-color="#35abf8"/><stop offset="0.200" stop-color="#37a8fa"/><stop offset="0.235" stop-color="#38a5fb"/><stop offset="0.282" stop-color="#3aa3fc"/><stop offset="0.341" stop-color="#3ba0fd"/><stop offset="0.412" stop-color="#3ba0fd"/><stop offset="0.500" stop-color="#3d9efe"/><stop offset="0.588" stop-color="#3e9bfe"/><stop offset="0.676" stop-color="#3e9bfe"/><stop offset="0.765" stop-color="#4099ff"/><stop offset="0.853" stop-color="#4099ff"/><stop offset="0.929" stop-color="#4196ff"/><stop offset="1.000" stop-color="#4196ff"/></linearGradient><linearGradient id="e72"><stop offset="0.000" stop-color="#2eb4f2"/><stop offset="0.047" stop-color="#31aff5"/><stop offset="0.082" stop-color="#33adf7"/><stop offset="0.106" stop-color="#35abf8"/><stop offset="0.129" stop-color="#38a5fb"/><stop offset="0.153" stop-color="#3aa3fc"/><stop offset="0.176" stop-color="#3ba0fd"/><stop offset="0.200" stop-color="#3d9efe"/><stop offset="0.235" stop-color="#4099ff"/><stop offset="0.282" stop-color="#4391fe"/><stop offset="0.341" stop-color="#458afc"/><stop offset="0.412" stop-color="#4687fb"/><stop offset="0.500" stop-color="#4685fa"/><stop offset="0.588" stop-color="#4682f8"/><stop offset="0.676" stop-color="#4680f6"/><stop offset="0.765" stop-color="#467df4"/><stop offset="0.853" stop-color="#477bf2"/><stop offset="0.929" stop-color="#4778f0"/><stop offset="1.000" stop-color="#4776ee"/></linearGradient><linearGradient id="e73"><stop offset="0.000" stop-color="#2eb4f2"/><stop offset="0.047" stop-color="#35abf8"/><stop offset="0.082" stop-color="#3aa3fc"/><stop offset="0.106" stop-color="#3d9efe"/><stop offset="0.129" stop-color="#4099ff"/><stop offset="0.153" stop-color="#4294ff"/><stop offset="0.176" stop-color="#448ffe"/><stop offset="0.200" stop-color="#458afc"/><stop offset="0.235" stop-color="#4680f6"/><stop offset="0.282" stop-color="#4773eb"/><stop offset="0.341" stop-color="#4666dd"/><stop offset="0.412" stop-color="#455ed3"/><stop offset="0.500" stop-color="#4559cb"/><stop offset="0.588" stop-color="#4454c3"/><stop offset="0.676" stop-color="#434eba"/><stop offset="0.765" stop-color="#424bb5"/><stop offset="0.853" stop-color="#4146ac"/><stop offset="0.929" stop-color="#4040a2"/><stop offset="1.000" stop-color="#3f3e9c"/></linearGradient><linearGradient id="e74"><stop offset="0.000" stop-color="#2eb4f2"/><stop offset="0.047" stop-color="#33adf7"/><stop offset="0.082" stop-color="#37a8fa"/><stop offset="0.106" stop-color="#38a5fb"/><stop offset="0.129" stop-color="#3ba0fd"/><stop offset="0.153" stop-color="#3e9bfe"/><stop offset="0.176" stop-color="#4099ff"/><stop offset="0.200" stop-color="#4294ff"/><stop offset="0.235" stop-color="#458cfd"/><stop offset="0.282" stop-color="#4682f8"/><stop offset="0.341" stop-color="#4776ee"/><stop offset="0.412" stop-color="#4771e9"/><stop offset="0.500" stop-color="#476ee6"/><stop offset="0.588" stop-color="#466be3"/><stop offset="0.676" stop-color="#4666dd"/><stop offset="0.765" stop-color="#4664da"/><stop offset="0.853" stop-color="#455ed3"/><stop offset="0.929" stop-color="#455ccf"/><stop offset="1.000" stop-color="#4559cb"/></linearGradient><linearGradient id="e75"><stop offset="0.000" stop-color="#2eb4f2"/><stop offset="0.047" stop-color="#2eb4f2"/><stop offset="0.082" stop-color="#2eb4f2"/><stop offset="0.106" stop-color="#2eb4f2"/><stop offset="0.129" stop-color="#2eb4f2"/><stop offset="0.153" stop-color="#2eb4f2"/><stop offset="0.176" stop-color="#2fb2f4"/><stop offset="0.200" stop-color="#2fb2f4"/><stop offset="0.235" stop-color="#2fb2f4"/><stop offset="0.282" stop-color="#33adf7"/><stop offset="0.341" stop-color="#35abf8"/><stop offset="0.412" stop-color="#37a8fa"/><stop offset="0.500" stop-color="#37a8fa"/><stop offset="0.588" stop-color="#37a8fa"/><stop offset="0.676" stop-color="#37a8fa"/><stop offset="0.765" stop-color="#38a5fb"/><stop offset="0.853" stop-color="#38a5fb"/><stop offset="0.929" stop-color="#38a5fb"/><stop offset="1.000" stop-color="#38a5fb"/></linearGradient><linearGradient id="e76"><stop offset="0.000" stop-color="#2eb4f2"/><stop offset="0.047" stop-color="#2cb7f0"/><stop offset="0.082" stop-color="#2ab9ee"/><stop offset="0.106" stop-color="#28bceb"/><stop offset="0.129" stop-color="#28bceb"/><stop offset="0.153" stop-color="#27bee9"/><stop offset="0.176" stop-color="#27bee9"/><stop offset="0.200" stop-color="#25c0e7"/><stop offset="0.235" stop-color="#25c0e7"/><stop offset="0.282" stop-color="#25c0e7"/><stop offset="0.341" stop-color="#27bee9"/><stop offset="0.412" stop-color="#25c0e7"/><stop offset="0.500" stop-color="#25c0e7"/><stop offset="0.588" stop-color="#25c0e7"/><stop offset="0.676" stop-color="#25c0e7"/><stop offset="0.765" stop-color="#25c0e7"/><stop offset="0.853" stop-color="#23c3e4"/><stop offset="0.929" stop-color="#23c3e4"/><stop offset="1.000" stop-color="#23c3e4"/></linearGradient><linearGradient id="e77"><stop offset="0.000" stop-color="#2eb4f2"/><stop offset="0.047" stop-color="#2eb4f2"/><stop offset="0.082" stop-color="#2eb4f2"/><stop offset="0.106" stop-color="#2eb4f2"/><stop offset="0.129" stop-color="#2fb2f4"/><stop offset="0.153" stop-color="#2fb2f4"/><stop offset="0.176" stop-color="#2fb2f4"/><stop offset="0.200" stop-color="#2fb2f4"/><stop offset="0.235" stop-color="#31aff5"/><stop offset="0.282" stop-color="#33adf7"/><stop offset="0.341" stop-color="#35abf8"/><stop offset="0.412" stop-color="#37a8fa"/><stop offset="0.500" stop-color="#3aa3fc"/><stop offset="0.588" stop-color="#3ba0fd"/><stop offset="0.676" stop-color="#3e9bfe"/><stop offset="0.765" stop-color="#4099ff"/><stop offset="0.853" stop-color="#4294ff"/><stop offset="0.929" stop-color="#4391fe"/><stop offset="1.000" stop-color="#448ffe"/></linearGradient><linearGradient id="e78"><stop offset="0.000" stop-color="#2eb4f2"/><stop offset="0.047" stop-color="#2eb4f2"/><stop offset="0.082" stop-color="#2eb4f2"/><stop offset="0.106" stop-color="#2eb4f2"/><stop offset="0.129" stop-color="#2eb4f2"/><stop offset="0.153" stop-color="#2eb4f2"/><stop offset="0.176" stop-color="#2eb4f2"/><stop offset="0.200" stop-color="#2eb4f2"/><stop offset="0.235" stop-color="#2eb4f2"/><stop offset="0.282" stop-color="#2fb2f4"/><stop offset="0.341" stop-color="#31aff5"/><stop offset="0.412" stop-color="#31aff5"/><stop offset="0.500" stop-color="#33adf7"/><stop offset="0.588" stop-color="#33adf7"/><stop offset="0.676" stop-color="#35abf8"/><stop offset="0.765" stop-color="#35abf8"/><stop offset="0.853" stop-color="#37a8fa"/><stop offset="0.929" stop-color="#37a8fa"/><stop offset="1.000" stop-color="#38a5fb"/></linearGradient><linearGradient id="e79"><stop offset="0.000" stop-color="#2eb4f2"/><stop offset="0.047" stop-color="#2cb7f0"/><stop offset="0.082" stop-color="#2cb7f0"/><stop offset="0.106" stop-color="#2ab9ee"/><stop offset="0.129" stop-color="#2ab9ee"/><stop offset="0.153" stop-color="#2ab9ee"/><stop offset="0.176" stop-color="#2ab9ee"/><stop offset="0.200" stop-color="#2ab9ee"/><stop offset="0.235" stop-color="#2ab9ee"/><stop offset="0.282" stop-color="#2ab9ee"/><stop offset="0.341" stop-color="#2cb7f0"/><stop offset="0.412" stop-color="#2cb7f0"/><stop offset="0.500" stop-color="#2ab9ee"/><stop offset="0.588" stop-color="#2ab9ee"/><stop offset="0.676" stop-color="#2ab9ee"/><stop offset="0.765" stop-color="#2ab9ee"/><stop offset="0.853" stop-color="#2ab9ee"/><stop offset="0.929" stop-color="#28bceb"/><stop offset="1.000" stop-color="#28bceb"/></linearGradient><linearGradient id="e80"><stop offset="0.000" stop-color="#2eb4f2"/><stop offset="0.047" stop-color="#2cb7f0"/><stop offset="0.082" stop-color="#2ab9ee"/><stop offset="0.106" stop-color="#2ab9ee"/><stop offset="0.129" stop-color="#28bceb"/><stop offset="0.153" stop-color="#28bceb"/><stop offset="0.176" stop-color="#28bceb"/><stop offset="0.200" stop-color="#28bceb"/><stop offset="0.235" stop-color="#28bceb"/><stop offset="0.282" stop-color="#28bceb"/><stop offset="0.341" stop-color="#28bceb"/><stop offset="0.412" stop-color="#28bceb"/><stop offset="0.500" stop-color="#28bceb"/><stop offset="0.588" stop-color="#27bee9"/><stop offset="0.676" stop-color="#27bee9"/><stop offset="0.765" stop-color="#27bee9"/><stop offset="0.853" stop-color="#25c0e7"/><stop offset="0.929" stop-color="#25c0e7"/><stop offset="1.000" stop-color="#25c0e7"/></linearGradient><linearGradient id="e81"><stop offset="0.000" stop-color="#2eb4f2"/><stop offset="0.047" stop-color="#2cb7f0"/><stop offset="0.082" stop-color="#2ab9ee"/><stop offset="0.106" stop-color="#28bceb"/><stop offset="0.129" stop-color="#28bceb"/><stop offset="0.153" stop-color="#28bceb"/><stop offset="0.176" stop-color="#27bee9"/><stop offset="0.200" stop-color="#27bee9"/><stop offset="0.235" stop-color="#27bee9"/><stop offset="0.282" stop-color="#27bee9"/><stop offset="0.341" stop-color="#28bceb"/><stop offset="0.412" stop-color="#27bee9"/><stop offset="0.500" stop-color="#27bee9"/><stop offset="0.588" stop-color="#25c0e7"/><stop offset="0.676" stop-color="#25c0e7"/><stop offset="0.765" stop-color="#23c3e4"/><stop offset="0.853" stop-color="#23c3e4"/><stop offset="0.929" stop-color="#23c3e4"/><stop offset="1.000" stop-color="#22c5e2"/></linearGradient><linearGradient id="e82"><stop offset="0.000" stop-color="#2eb4f2"/><stop offset="0.047" stop-color="#2cb7f0"/><stop offset="0.082" stop-color="#2ab9ee"/><stop offset="0.106" stop-color="#2ab9ee"/><stop offset="0.129" stop-color="#28bceb"/><stop offset="0.153" stop-color="#28bceb"/><stop offset="0.176" stop-color="#27bee9"/><stop offset="0.200" stop-color="#27bee9"/><stop offset="0.235" stop-color="#28bceb"/><stop offset="0.282" stop-color="#28bceb"/><stop offset="0.341" stop-color="#28bceb"/><stop offset="0.412" stop-color="#28bceb"/><stop offset="0.500" stop-color="#27bee9"/><stop offset="0.588" stop-color="#27bee9"/><stop offset="0.676" stop-color="#25c0e7"/><stop offset="0.765" stop-color="#25c0e7"/><stop offset="0.853" stop-color="#23c3e4"/><stop offset="0.929" stop-color="#23c3e4"/><stop offset="1.000" stop-color="#23c3e4"/></linearGradient><linearGradient id="e83"><stop offset="0.000" stop-color="#2eb4f2"/><stop offset="0.047" stop-color="#2cb7f0"/><stop offset="0.082" stop-color="#2ab9ee"/><stop offset="0.106" stop-color="#2ab9ee"/><stop offset="0.129" stop-color="#2ab9ee"/><stop offset="0.153" stop-color="#2ab9ee"/><stop offset="0.176" stop-color="#28bceb"/><stop offset="0.200" stop-color="#28bceb"/><stop offset="0.235" stop-color="#2ab9ee"/><stop offset="0.282" stop-color="#2ab9ee"/><stop offset="0.341" stop-color="#2ab9ee"/><stop offset="0.412" stop-color="#2ab9ee"/><stop offset="0.500" stop-color="#2ab9ee"/><stop offset="0.588" stop-color="#28bceb"/><stop offset="0.676" stop-color="#28bceb"/><stop offset="0.765" stop-color="#28bceb"/><stop offset="0.853" stop-color="#27bee9"/><stop offset="0.929" stop-color="#27bee9"/><stop offset="1.000" stop-color="#27bee9"/></linearGradient><linearGradient id="e84"><stop offset="0.000" stop-color="#2eb4f2"/><stop offset="0.047" stop-color="#2cb7f0"/><stop offset="0.082" stop-color="#2cb7f0"/><stop offset="0.106" stop-color="#2cb7f0"/><stop offset="0.129" stop-color="#2cb7f0"/><stop offset="0.153" stop-color="#2cb7f0"/><stop offset="0.176" stop-color="#2ab9ee"/><stop offset="0.200" stop-color="#2cb7f0"/><stop offset="0.235" stop-color="#2cb7f0"/><stop offset="0.282" stop-color="#2cb7f0"/><stop offset="0.341" stop-color="#2eb4f2"/><stop offset="0.412" stop-color="#2eb4f2"/><stop offset="0.500" stop-color="#2cb7f0"/><stop offset="0.588" stop-color="#2cb7f0"/><stop offset="0.676" stop-color="#2cb7f0"/><stop offset="0.765" stop-color="#2cb7f0"/><stop offset="0.853" stop-color="#2cb7f0"/><stop offset="0.929" stop-color="#2cb7f0"/><stop offset="1.000" stop-color="#2cb7f0"/></linearGradient><linearGradient id="e85"><stop offset="0.000" stop-color="#2eb4f2"/><stop offset="0.047" stop-color="#2eb4f2"/><stop offset="0.082" stop-color="#2eb4f2"/><stop offset="0.106" stop-color="#2eb4f2"/><stop offset="0.129" stop-color="#2eb4f2"/><stop offset="0.153" stop-color="#2eb4f2"/><stop offset="0.176" stop-color="#2eb4f2"/><stop offset="0.200" stop-color="#2eb4f2"/><stop offset="0.235" stop-color="#2eb4f2"/><stop offset="0.282" stop-color="#2fb2f4"/><stop offset="0.341" stop-color="#2fb2f4"/><stop offset="0.412" stop-color="#2fb2f4"/><stop offset="0.500" stop-color="#2fb2f4"/><stop offset="0.588" stop-color="#2fb2f4"/><stop offset="0.676" stop-color="#2fb2f4"/><stop offset="0.765" stop-color="#2fb2f4"/><stop offset="0.853" stop-color="#2fb2f4"/><stop offset="0.929" stop-color="#2fb2f4"/><stop offset="1.000" stop-color="#2fb2f4"/></linearGradient><linearGradient id="e86"><stop offset="0.000" stop-color="#35abf8"/><stop offset="0.047" stop-color="#35abf8"/><stop offset="0.082" stop-color="#35abf8"/><stop offset="0.106" stop-color="#37a8fa"/><stop offset="0.129" stop-color="#37a8fa"/><stop offset="0.153" stop-color="#37a8fa"/><stop offset="0.176" stop-color="#37a8fa"/><stop offset="0.200" stop-color="#38a5fb"/><stop offset="0.235" stop-color="#38a5fb"/><stop offset="0.282" stop-color="#3aa3fc"/><stop offset="0.341" stop-color="#3aa3fc"/><stop offset="0.412" stop-color="#3ba0fd"/><stop offset="0.500" stop-color="#3d9efe"/><stop offset="0.588" stop-color="#3e9bfe"/><stop offset="0.676" stop-color="#4099ff"/><stop offset="0.765" stop-color="#4099ff"/><stop offset="0.853" stop-color="#4196ff"/><stop offset="0.929" stop-color="#4294ff"/><stop offset="1.000" stop-color="#4391fe"/></linearGradient><linearGradient id="e87"><stop offset="0.000" stop-color="#35abf8"/><stop offset="0.047" stop-color="#35abf8"/><stop offset="0.082" stop-color="#35abf8"/><stop offset="0.106" stop-color="#35abf8"/><stop offset="0.129" stop-color="#35abf8"/><stop offset="0.153" stop-color="#35abf8"/><stop offset="0.176" stop-color="#35abf8"/><stop offset="0.200" stop-color="#35abf8"/><stop offset="0.235" stop-color="#35abf8"/><stop offset="0.282" stop-color="#35abf8"/><stop offset="0.341" stop-color="#35abf8"/><stop offset="0.412" stop-color="#35abf8"/><stop offset="0.500" stop-color="#35abf8"/><stop offset="0.588" stop-color="#37a8fa"/><stop offset="0.676" stop-color="#37a8fa"/><stop offset="0.765" stop-color="#37a8fa"/><stop offset="0.853" stop-color="#37a8fa"/><stop offset="0.929" stop-color="#37a8fa"/><stop offset="1.000" stop-color="#37a8fa"/></linearGradient><linearGradient id="e88"><stop offset="0.000" stop-color="#35abf8"/><stop offset="0.047" stop-color="#33adf7"/><stop offset="0.082" stop-color="#33adf7"/><stop offset="0.106" stop-color="#33adf7"/><stop offset="0.129" stop-color="#31aff5"/><stop offset="0.153" stop-color="#31aff5"/><stop offset="0.176" stop-color="#31aff5"/><stop offset="0.200" stop-color="#31aff5"/><stop offset="0.235" stop-color="#2fb2f4"/><stop offset="0.282" stop-color="#2fb2f4"/><stop offset="0.341" stop-color="#2eb4f2"/><stop offset="0.412" stop-color="#2eb4f2"/><stop offset="0.500" stop-color="#2cb7f0"/><stop offset="0.588" stop-color="#2ab9ee"/><stop offset="0.676" stop-color="#28bceb"/><stop offset="0.765" stop-color="#27bee9"/><stop offset="0.853" stop-color="#25c0e7"/><stop offset="0.929" stop-color="#23c3e4"/><stop offset="1.000" stop-color="#22c5e2"/></linearGradient><linearGradient id="e89"><stop offset="0.000" stop-color="#35abf8"/><stop offset="0.047" stop-color="#33adf7"/><stop offset="0.082" stop-color="#33adf7"/><stop offset="0.106" stop-color="#33adf7"/><stop offset="0.129" stop-color="#31aff5"/><stop offset="0.153" stop-color="#31aff5"/><stop offset="0.176" stop-color="#31aff5"/><stop offset="0.200" stop-color="#31aff5"/><stop offset="0.235" stop-color="#2fb2f4"/><stop offset="0.282" stop-color="#2fb2f4"/><stop offset="0.341" stop-color="#2eb4f2"/><stop offset="0.412" stop-color="#2cb7f0"/><stop offset="0.500" stop-color="#2ab9ee"/><stop offset="0.588" stop-color="#28bceb"/><stop offset="0.676" stop-color="#28bceb"/><stop offset="0.765" stop-color="#27bee9"/><stop offset="0.853" stop-color="#25c0e7"/><stop offset="0.929" stop-color="#23c3e4"/><stop offset="1.000" stop-color="#22c5e2"/></linearGradient><linearGradient id="e90"><stop offset="0.000" stop-color="#35abf8"/><stop offset="0.047" stop-color="#33adf7"/><stop offset="0.082" stop-color="#33adf7"/><stop offset="0.106" stop-color="#33adf7"/><stop offset="0.129" stop-color="#33adf7"/><stop offset="0.153" stop-color="#33adf7"/><stop offset="0.176" stop-color="#33adf7"/><stop offset="0.200" stop-color="#33adf7"/><stop offset="0.235" stop-color="#31aff5"/><stop offset="0.282" stop-color="#31aff5"/><stop offset="0.341" stop-color="#31aff5"/><stop offset="0.412" stop-color="#31aff5"/><stop offset="0.500" stop-color="#2fb2f4"/><stop offset="0.588" stop-color="#2fb2f4"/><stop offset="0.676" stop-color="#2eb4f2"/><stop offset="0.765" stop-color="#2eb4f2"/><stop offset="0.853" stop-color="#2cb7f0"/><stop offset="0.929" stop-color="#2cb7f0"/><stop offset="1.000" stop-color="#2cb7f0"/></linearGradient><linearGradient id="e91"><stop offset="0.000" stop-color="#35abf8"/><stop offset="0.047" stop-color="#33adf7"/><stop offset="0.082" stop-color="#31aff5"/><stop offset="0.106" stop-color="#2fb2f4"/><stop offset="0.129" stop-color="#2fb2f4"/><stop offset="0.153" stop-color="#2eb4f2"/><stop offset="0.176" stop-color="#2eb4f2"/><stop offset="0.200" stop-color="#2cb7f0"/><stop offset="0.235" stop-color="#2ab9ee"/><stop offset="0.282" stop-color="#28bceb"/><stop offset="0.341" stop-color="#27bee9"/><stop offset="0.412" stop-color="#25c0e7"/><stop offset="0.500" stop-color="#22c5e2"/><stop offset="0.588" stop-color="#1fc9dd"/><stop offset="0.676" stop-color="#1ecbda"/><stop offset="0.765" stop-color="#1bd0d5"/><stop offset="0.853" stop-color="#1ad4d0"/><stop offset="0.929" stop-color="#19d5cd"/><stop offset="1.000" stop-color="#18d9c8"/></linearGradient><linearGradient id="e92"><stop offset="0.000" stop-color="#35abf8"/><stop offset="0.047" stop-color="#31aff5"/><stop offset="0.082" stop-color="#2fb2f4"/><stop offset="0.106" stop-color="#2eb4f2"/><stop offset="0.129" stop-color="#2cb7f0"/><stop offset="0.153" stop-color="#2ab9ee"/><stop offset="0.176" stop-color="#28bceb"/><stop offset="0.200" stop-color="#28bceb"/><stop offset="0.235" stop-color="#25c0e7"/><stop offset="0.282" stop-color="#23c3e4"/><stop offset="0.341" stop-color="#1fc9dd"/><stop offset="0.412" stop-color="#1ccdd8"/><stop offset="0.500" stop-color="#1ad4d0"/><stop offset="0.588" stop-color="#18d7ca"/><stop offset="0.676" stop-color="#18ddc2"/><stop offset="0.765" stop-color="#19e2bb"/><stop offset="0.853" stop-color="#1ae4b6"/><stop offset="0.929" stop-color="#1fe9af"/><stop offset="1.000" stop-color="#22ebaa"/></linearGradient><linearGradient id="e93"><stop offset="0.000" stop-color="#35abf8"/><stop offset="0.047" stop-color="#33adf7"/><stop offset="0.082" stop-color="#31aff5"/><stop offset="0.106" stop-color="#31aff5"/><stop offset="0.129" stop-color="#31aff5"/><stop offset="0.153" stop-color="#2fb2f4"/><stop offset="0.176" stop-color="#2fb2f4"/><stop offset="0.200" stop-color="#2fb2f4"/><stop offset="0.235" stop-color="#2eb4f2"/><stop offset="0.282" stop-color="#2cb7f0"/><stop offset="0.341" stop-color="#2ab9ee"/><stop offset="0.412" stop-color="#28bceb"/><stop offset="0.500" stop-color="#27bee9"/><stop offset="0.588" stop-color="#25c0e7"/><stop offset="0.676" stop-color="#23c3e4"/><stop offset="0.765" stop-color="#22c5e2"/><stop offset="0.853" stop-color="#20c7df"/><stop offset="0.929" stop-color="#1fc9dd"/><stop offset="1.000" stop-color="#1fc9dd"/></linearGradient><linearGradient id="e94"><stop offset="0.000" stop-color="#35abf8"/><stop offset="0.047" stop-color="#33adf7"/><stop offset="0.082" stop-color="#31aff5"/><stop offset="0.106" stop-color="#31aff5"/><stop offset="0.129" stop-color="#2fb2f4"/><stop offset="0.153" stop-color="#2fb2f4"/><stop offset="0.176" stop-color="#2fb2f4"/><stop offset="0.200" stop-color="#2eb4f2"/><stop offset="0.235" stop-color="#2eb4f2"/><stop offset="0.282" stop-color="#2cb7f0"/><stop offset="0.341" stop-color="#2ab9ee"/><stop offset="0.412" stop-color="#28bceb"/><stop offset="0.500" stop-color="#28bceb"/><stop offset="0.588" stop-color="#27bee9"/><stop offset="0.676" stop-color="#27bee9"/><stop offset="0.765" stop-color="#25c0e7"/><stop offset="0.853" stop-color="#25c0e7"/><stop offset="0.929" stop-color="#25c0e7"/><stop offset="1.000" stop-color="#23c3e4"/></linearGradient><linearGradient id="e95"><stop offset="0.000" stop-color="#35abf8"/><stop offset="0.047" stop-color="#31aff5"/><stop offset="0.082" stop-color="#2fb2f4"/><stop offset="0.106" stop-color="#2fb2f4"/><stop offset="0.129" stop-color="#2eb4f2"/><stop offset="0.153" stop-color="#2cb7f0"/><stop offset="0.176" stop-color="#2cb7f0"/><stop offset="0.200" stop-color="#2ab9ee"/><stop offset="0.235" stop-color="#28bceb"/><stop offset="0.282" stop-color="#27bee9"/><stop offset="0.341" stop-color="#23c3e4"/><stop offset="0.412" stop-color="#22c5e2"/><stop offset="0.500" stop-color="#20c7df"/><stop offset="0.588" stop-color="#1fc9dd"/><stop offset="0.676" stop-color="#1ecbda"/><stop offset="0.765" stop-color="#1ecbda"/><stop offset="0.853" stop-color="#1ccdd8"/><stop offset="0.929" stop-color="#1ccdd8"/><stop offset="1.000" stop-color="#1ccdd8"/></linearGradient><linearGradient id="e96"><stop offset="0.000" stop-color="#35abf8"/><stop offset="0.047" stop-color="#33adf7"/><stop offset="0.082" stop-color="#31aff5"/><stop offset="0.106" stop-color="#2fb2f4"/><stop offset="0.129" stop-color="#2fb2f4"/><stop offset="0.153" stop-color="#2eb4f2"/><stop offset="0.176" stop-color="#2eb4f2"/><stop offset="0.200" stop-color="#2cb7f0"/><stop offset="0.235" stop-color="#2ab9ee"/><stop offset="0.282" stop-color="#28bceb"/><stop offset="0.341" stop-color="#27bee9"/><stop offset="0.412" stop-color="#23c3e4"/><stop offset="0.500" stop-color="#22c5e2"/><stop offset="0.588" stop-color="#1fc9dd"/><stop offset="0.676" stop-color="#1fc9dd"/><stop offset="0.765" stop-color="#1ecbda"/><stop offset="0.853" stop-color="#1ecbda"/><stop offset="0.929" stop-color="#1ccdd8"/><stop offset="1.000" stop-color="#1ccdd8"/></linearGradient><linearGradient id="e97"><stop offset="0.000" stop-color="#35abf8"/><stop offset="0.047" stop-color="#33adf7"/><stop offset="0.082" stop-color="#31aff5"/><stop offset="0.106" stop-color="#31aff5"/><stop offset="0.129" stop-color="#2fb2f4"/><stop offset="0.153" stop-color="#2fb2f4"/><stop offset="0.176" stop-color="#2fb2f4"/><stop offset="0.200" stop-color="#2eb4f2"/><stop offset="0.235" stop-color="#2eb4f2"/><stop offset="0.282" stop-color="#2cb7f0"/><stop offset="0.341" stop-color="#2ab9ee"/><stop offset="0.412" stop-color="#27bee9"/><stop offset="0.500" stop-color="#23c3e4"/><stop offset="0.588" stop-color="#20c7df"/><stop offset="0.676" stop-color="#20c7df"/><stop offset="0.765" stop-color="#1fc9dd"/><stop offset="0.853" stop-color="#1fc9dd"/><stop offset="0.929" stop-color="#1ecbda"/><stop offset="1.000" stop-color="#1ecbda"/></linearGradient><linearGradient id="e98"><stop offset="0.000" stop-color="#35abf8"/><stop offset="0.047" stop-color="#33adf7"/><stop offset="0.082" stop-color="#31aff5"/><stop offset="0.106" stop-color="#31aff5"/><stop offset="0.129" stop-color="#2fb2f4"/><stop offset="0.153" stop-color="#2fb2f4"/><stop offset="0.176" stop-color="#2fb2f4"/><stop offset="0.200" stop-color="#2eb4f2"/><stop offset="0.235" stop-color="#2eb4f2"/><stop offset="0.282" stop-color="#2cb7f0"/><stop offset="0.341" stop-color="#28bceb"/><stop offset="0.412" stop-color="#27bee9"/><stop offset="0.500" stop-color="#22c5e2"/><stop offset="0.588" stop-color="#1fc9dd"/><stop offset="0.676" stop-color="#1fc9dd"/><stop offset="0.765" stop-color="#1ecbda"/><stop offset="0.853" stop-color="#1ecbda"/><stop offset="0.929" stop-color="#1ccdd8"/><stop offset="1.000" stop-color="#1ccdd8"/></linearGradient><linearGradient id="e99"><stop offset="0.000" stop-color="#35abf8"/><stop offset="0.047" stop-color="#33adf7"/><stop offset="0.082" stop-color="#31aff5"/><stop offset="0.106" stop-color="#31aff5"/><stop offset="0.129" stop-color="#31aff5"/><stop offset="0.153" stop-color="#2fb2f4"/><stop offset="0.176" stop-color="#2fb2f4"/><stop offset="0.200" stop-color="#2eb4f2"/><stop offset="0.235" stop-color="#2eb4f2"/><stop offset="0.282" stop-color="#2cb7f0"/><stop offset="0.341" stop-color="#2ab9ee"/><stop offset="0.412" stop-color="#27bee9"/><stop offset="0.500" stop-color="#23c3e4"/><stop offset="0.588" stop-color="#20c7df"/><stop offset="0.676" stop-color="#1fc9dd"/><stop offset="0.765" stop-color="#1fc9dd"/><stop offset="0.853" stop-color="#1ecbda"/><stop offset="0.929" stop-color="#1ecbda"/><stop offset="1.000" stop-color="#1ccdd8"/></linearGradient><linearGradient id="e100"><stop offset="0.000" stop-color="#35abf8"/><stop offset="0.047" stop-color="#33adf7"/><stop offset="0.082" stop-color="#33adf7"/><stop offset="0.106" stop-color="#31aff5"/><stop offset="0.129" stop-color="#31aff5"/><stop offset="0.153" stop-color="#31aff5"/><stop offset="0.176" stop-color="#31aff5"/><stop offset="0.200" stop-color="#2fb2f4"/><stop offset="0.235" stop-color="#2fb2f4"/><stop offset="0.282" stop-color="#2fb2f4"/><stop offset="0.341" stop-color="#2eb4f2"/><stop offset="0.412" stop-color="#2ab9ee"/><stop offset="0.500" stop-color="#27bee9"/><stop offset="0.588" stop-color="#25c0e7"/><stop offset="0.676" stop-color="#23c3e4"/><stop offset="0.765" stop-color="#23c3e4"/><stop offset="0.853" stop-color="#23c3e4"/><stop offset="0.929" stop-color="#22c5e2"/><stop offset="1.000" stop-color="#22c5e2"/></linearGradient><linearGradient id="e101"><stop offset="0.000" stop-color="#35abf8"/><stop offset="0.047" stop-color="#35abf8"/><stop offset="0.082" stop-color="#33adf7"/><stop offset="0.106" stop-color="#33adf7"/><stop offset="0.129" stop-color="#33adf7"/><stop offset="0.153" stop-color="#33adf7"/><stop offset="0.176" stop-color="#33adf7"/><stop offset="0.200" stop-color="#33adf7"/><stop offset="0.235" stop-color="#33adf7"/><stop offset="0.282" stop-color="#33adf7"/><stop offset="0.341" stop-color="#31aff5"/><stop offset="0.412" stop-color="#31aff5"/><stop offset="0.500" stop-color="#2fb2f4"/><stop offset="0.588" stop-color="#2eb4f2"/><stop offset="0.676" stop-color="#2eb4f2"/><stop offset="0.765" stop-color="#2eb4f2"/><stop offset="0.853" stop-color="#2eb4f2"/><stop offset="0.929" stop-color="#2cb7f0"/><stop offset="1.000" stop-color="#2cb7f0"/></linearGradient><linearGradient id="e102"><stop offset="0.000" stop-color="#35abf8"/><stop offset="0.047" stop-color="#35abf8"/><stop offset="0.082" stop-color="#35abf8"/><stop offset="0.106" stop-color="#37a8fa"/><stop offset="0.129" stop-color="#37a8fa"/><stop offset="0.153" stop-color="#37a8fa"/><stop offset="0.176" stop-color="#37a8fa"/><stop offset="0.200" stop-color="#37a8fa"/><stop offset="0.235" stop-color="#38a5fb"/><stop offset="0.282" stop-color="#38a5fb"/><stop offset="0.341" stop-color="#38a5fb"/><stop offset="0.412" stop-color="#38a5fb"/><stop offset="0.500" stop-color="#38a5fb"/><stop offset="0.588" stop-color="#37a8fa"/><stop offset="0.676" stop-color="#38a5fb"/><stop offset="0.765" stop-color="#38a5fb"/><stop offset="0.853" stop-color="#38a5fb"/><stop offset="0.929" stop-color="#3aa3fc"/><stop offset="1.000" stop-color="#3aa3fc"/></linearGradient><linearGradient id="e103"><stop offset="0.000" stop-color="#35abf8"/><stop offset="0.047" stop-color="#35abf8"/><stop offset="0.082" stop-color="#37a8fa"/><stop offset="0.106" stop-color="#38a5fb"/><stop offset="0.129" stop-color="#38a5fb"/><stop offset="0.153" stop-color="#38a5fb"/><stop offset="0.176" stop-color="#3aa3fc"/><stop offset="0.200" stop-color="#3aa3fc"/><stop offset="0.235" stop-color="#3ba0fd"/><stop offset="0.282" stop-color="#3d9efe"/><stop offset="0.341" stop-color="#3d9efe"/><stop offset="0.412" stop-color="#3e9bfe"/><stop offset="0.500" stop-color="#3e9bfe"/><stop offset="0.588" stop-color="#3e9bfe"/><stop offset="0.676" stop-color="#4099ff"/><stop offset="0.765" stop-color="#4196ff"/><stop offset="0.853" stop-color="#4196ff"/><stop offset="0.929" stop-color="#4294ff"/><stop offset="1.000" stop-color="#4391fe"/></linearGradient><linearGradient id="e104"><stop offset="0.000" stop-color="#35abf8"/><stop offset="0.047" stop-color="#37a8fa"/><stop offset="0.082" stop-color="#38a5fb"/><stop offset="0.106" stop-color="#38a5fb"/><stop offset="0.129" stop-color="#3aa3fc"/><stop offset="0.153" stop-color="#3aa3fc"/><stop offset="0.176" stop-color="#3ba0fd"/><stop offset="0.200" stop-color="#3d9efe"/><stop offset="0.235" stop-color="#3d9efe"/><stop offset="0.282" stop-color="#4099ff"/><stop offset="0.341" stop-color="#4099ff"/><stop offset="0.412" stop-color="#4196ff"/><stop offset="0.500" stop-color="#4294ff"/><stop offset="0.588" stop-color="#4391fe"/><stop offset="0.676" stop-color="#4391fe"/><stop offset="0.765" stop-color="#448ffe"/><stop offset="0.853" stop-color="#458cfd"/><stop offset="0.929" stop-color="#458afc"/><stop offset="1.000" stop-color="#4687fb"/></linearGradient><linearGradient id="e105"><stop offset="0.000" stop-color="#35abf8"/><stop offset="0.047" stop-color="#37a8fa"/><stop offset="0.082" stop-color="#38a5fb"/><stop offset="0.106" stop-color="#3aa3fc"/><stop offset="0.129" stop-color="#3aa3fc"/><stop offset="0.153" stop-color="#3ba0fd"/><stop offset="0.176" stop-color="#3ba0fd"/><stop offset="0.200" stop-color="#3d9efe"/><stop offset="0.235" stop-color="#3e9bfe"/><stop offset="0.282" stop-color="#4099ff"/><stop offset="0.341" stop-color="#4196ff"/><stop offset="0.412" stop-color="#4196ff"/><stop offset="0.500" stop-color="#4294ff"/><stop offset="0.588" stop-color="#4391fe"/><stop offset="0.676" stop-color="#448ffe"/><stop offset="0.765" stop-color="#458cfd"/><stop offset="0.853" stop-color="#458afc"/><stop offset="0.929" stop-color="#4687fb"/><stop offset="1.000" stop-color="#4685fa"/></linearGradient><linearGradient id="e106"><stop offset="0.000" stop-color="#35abf8"/><stop offset="0.047" stop-color="#37a8fa"/><stop offset="0.082" stop-color="#38a5fb"/><stop offset="0.106" stop-color="#3aa3fc"/><stop offset="0.129" stop-color="#3aa3fc"/><stop offset="0.153" stop-color="#3ba0fd"/><stop offset="0.176" stop-color="#3d9efe"/><stop offset="0.200" stop-color="#3d9efe"/><stop offset="0.235" stop-color="#3e9bfe"/><stop offset="0.282" stop-color="#3e9bfe"/><stop offset="0.341" stop-color="#4099ff"/><stop offset="0.412" stop-color="#4099ff"/><stop offset="0.500" stop-color="#4196ff"/><stop offset="0.588" stop-color="#4294ff"/><stop offset="0.676" stop-color="#4391fe"/><stop offset="0.765" stop-color="#448ffe"/><stop offset="0.853" stop-color="#448ffe"/><stop offset="0.929" stop-color="#458cfd"/><stop offset="1.000" stop-color="#458afc"/></linearGradient><linearGradient id="e107"><stop offset="0.000" stop-color="#35abf8"/><stop offset="0.047" stop-color="#37a8fa"/><stop offset="0.082" stop-color="#3aa3fc"/><stop offset="0.106" stop-color="#3ba0fd"/><stop offset="0.129" stop-color="#3d9efe"/><stop offset="0.153" stop-color="#3d9efe"/><stop offset="0.176" stop-color="#3e9bfe"/><stop offset="0.200" stop-color="#3e9bfe"/><stop offset="0.235" stop-color="#4099ff"/><stop offset="0.282" stop-color="#3e9bfe"/><stop offset="0.341" stop-color="#3e9bfe"/><stop offset="0.412" stop-color="#3e9bfe"/><stop offset="0.500" stop-color="#4099ff"/><stop offset="0.588" stop-color="#4099ff"/><stop offset="0.676" stop-color="#4196ff"/><stop offset="0.765" stop-color="#4294ff"/><stop offset="0.853" stop-color="#4391fe"/><stop offset="0.929" stop-color="#4391fe"/><stop offset="1.000" stop-color="#448ffe"/></linearGradient><linearGradient id="e108"><stop offset="0.000" stop-color="#35abf8"/><stop offset="0.047" stop-color="#38a5fb"/><stop offset="0.082" stop-color="#3ba0fd"/><stop offset="0.106" stop-color="#3e9bfe"/><stop offset="0.129" stop-color="#4099ff"/><stop offset="0.153" stop-color="#4196ff"/><stop offset="0.176" stop-color="#4294ff"/><stop offset="0.200" stop-color="#4391fe"/><stop offset="0.235" stop-color="#4294ff"/><stop offset="0.282" stop-color="#4196ff"/><stop offset="0.341" stop-color="#3e9bfe"/><stop offset="0.412" stop-color="#3e9bfe"/><stop offset="0.500" stop-color="#3e9bfe"/><stop offset="0.588" stop-color="#4099ff"/><stop offset="0.676" stop-color="#4196ff"/><stop offset="0.765" stop-color="#4294ff"/><stop offset="0.853" stop-color="#4294ff"/><stop offset="0.929" stop-color="#4391fe"/><stop offset="1.000" stop-color="#448ffe"/></linearGradient><linearGradient id="e109"><stop offset="0.000" stop-color="#35abf8"/><stop offset="0.047" stop-color="#3aa3fc"/><stop offset="0.082" stop-color="#3e9bfe"/><stop offset="0.106" stop-color="#4196ff"/><stop offset="0.129" stop-color="#4391fe"/><stop offset="0.153" stop-color="#458cfd"/><stop offset="0.176" stop-color="#458afc"/><stop offset="0.200" stop-color="#458afc"/><stop offset="0.235" stop-color="#458cfd"/><stop offset="0.282" stop-color="#4391fe"/><stop offset="0.341" stop-color="#4099ff"/><stop offset="0.412" stop-color="#4099ff"/><stop offset="0.500" stop-color="#4099ff"/><stop offset="0.588" stop-color="#4196ff"/><stop offset="0.676" stop-color="#4294ff"/><stop offset="0.765" stop-color="#4391fe"/><stop offset="0.853" stop-color="#448ffe"/><stop offset="0.929" stop-color="#458cfd"/><stop offset="1.000" stop-color="#458afc"/></linearGradient><linearGradient id="e110"><stop offset="0.000" stop-color="#35abf8"/><stop offset="0.047" stop-color="#3aa3fc"/><stop offset="0.082" stop-color="#3e9bfe"/><stop offset="0.106" stop-color="#4294ff"/><stop offset="0.129" stop-color="#448ffe"/><stop offset="0.153" stop-color="#458afc"/><stop offset="0.176" stop-color="#4687fb"/><stop offset="0.200" stop-color="#4687fb"/><stop offset="0.235" stop-color="#458afc"/><stop offset="0.282" stop-color="#448ffe"/><stop offset="0.341" stop-color="#4196ff"/><stop offset="0.412" stop-color="#4099ff"/><stop offset="0.500" stop-color="#4099ff"/><stop offset="0.588" stop-color="#4196ff"/><stop offset="0.676" stop-color="#4294ff"/><stop offset="0.765" stop-color="#4391fe"/><stop offset="0.853" stop-color="#448ffe"/><stop offset="0.929" stop-color="#458cfd"/><stop offset="1.000" stop-color="#458afc"/></linearGradient><linearGradient id="e111"><stop offset="0.000" stop-color="#35abf8"/><stop offset="0.047" stop-color="#3aa3fc"/><stop offset="0.082" stop-color="#3d9efe"/><stop offset="0.106" stop-color="#4099ff"/><stop offset="0.129" stop-color="#4294ff"/><stop offset="0.153" stop-color="#4391fe"/><stop offset="0.176" stop-color="#448ffe"/><stop offset="0.200" stop-color="#458cfd"/><stop offset="0.235" stop-color="#448ffe"/><stop offset="0.282" stop-color="#4294ff"/><stop offset="0.341" stop-color="#3e9bfe"/><stop offset="0.412" stop-color="#3e9bfe"/><stop offset="0.500" stop-color="#3e9bfe"/><stop offset="0.588" stop-color="#3e9bfe"/><stop offset="0.676" stop-color="#4099ff"/><stop offset="0.765" stop-color="#4196ff"/><stop offset="0.853" stop-color="#4294ff"/><stop offset="0.929" stop-color="#4391fe"/><stop offset="1.000" stop-color="#448ffe"/></linearGradient><linearGradient id="e112"><stop offset="0.000" stop-color="#35abf8"/><stop offset="0.047" stop-color="#37a8fa"/><stop offset="0.082" stop-color="#3aa3fc"/><stop offset="0.106" stop-color="#3ba0fd"/><stop offset="0.129" stop-color="#3d9efe"/><stop offset="0.153" stop-color="#3e9bfe"/><stop offset="0.176" stop-color="#4099ff"/><stop offset="0.200" stop-color="#4099ff"/><stop offset="0.235" stop-color="#3e9bfe"/><stop offset="0.282" stop-color="#3d9efe"/><stop offset="0.341" stop-color="#3ba0fd"/><stop offset="0.412" stop-color="#3aa3fc"/><stop offset="0.500" stop-color="#3ba0fd"/><stop offset="0.588" stop-color="#3ba0fd"/><stop offset="0.676" stop-color="#3ba0fd"/><stop offset="0.765" stop-color="#3d9efe"/><stop offset="0.853" stop-color="#3e9bfe"/><stop offset="0.929" stop-color="#3e9bfe"/><stop offset="1.000" stop-color="#4099ff"/></linearGradient><linearGradient id="e113"><stop offset="0.000" stop-color="#35abf8"/><stop offset="0.047" stop-color="#35abf8"/><stop offset="0.082" stop-color="#37a8fa"/><stop offset="0.106" stop-color="#38a5fb"/><stop offset="0.129" stop-color="#38a5fb"/><stop offset="0.153" stop-color="#3aa3fc"/><stop offset="0.176" stop-color="#3aa3fc"/><stop offset="0.200" stop-color="#3aa3fc"/><stop offset="0.235" stop-color="#3aa3fc"/><stop offset="0.282" stop-color="#38a5fb"/><stop offset="0.341" stop-color="#38a5fb"/><stop offset="0.412" stop-color="#37a8fa"/><stop offset="0.500" stop-color="#37a8fa"/><stop offset="0.588" stop-color="#38a5fb"/><stop offset="0.676" stop-color="#38a5fb"/><stop offset="0.765" stop-color="#38a5fb"/><stop offset="0.853" stop-color="#38a5fb"/><stop offset="0.929" stop-color="#3aa3fc"/><stop offset="1.000" stop-color="#3aa3fc"/></linearGradient><linearGradient id="e114"><stop offset="0.000" stop-color="#35abf8"/><stop offset="0.047" stop-color="#35abf8"/><stop offset="0.082" stop-color="#35abf8"/><stop offset="0.106" stop-color="#35abf8"/><stop offset="0.129" stop-color="#35abf8"/><stop offset="0.153" stop-color="#37a8fa"/><stop offset="0.176" stop-color="#37a8fa"/><stop offset="0.200" stop-color="#37a8fa"/><stop offset="0.235" stop-color="#37a8fa"/><stop offset="0.282" stop-color="#35abf8"/><stop offset="0.341" stop-color="#35abf8"/><stop offset="0.412" stop-color="#35abf8"/><stop offset="0.500" stop-color="#35abf8"/><stop offset="0.588" stop-color="#35abf8"/><stop offset="0.676" stop-color="#35abf8"/><stop offset="0.765" stop-color="#35abf8"/><stop offset="0.853" stop-color="#37a8fa"/><stop offset="0.929" stop-color="#37a8fa"/><stop offset="1.000" stop-color="#37a8fa"/></linearGradient></defs>
<rect x="262.5" y="201" width="170.10000000000002" height="1.02" fill="url(#e0)"/><rect x="262.5" y="202" width="170.10000000000002" height="1.02" fill="url(#e1)"/><rect x="262.5" y="203" width="170.10000000000002" height="1.02" fill="url(#e2)"/><rect x="262.5" y="204" width="170.10000000000002" height="1.02" fill="url(#e3)"/><rect x="262.5" y="205" width="170.10000000000002" height="1.02" fill="url(#e4)"/><rect x="262.5" y="206" width="170.10000000000002" height="1.02" fill="url(#e5)"/><rect x="262.5" y="207" width="170.10000000000002" height="1.02" fill="url(#e6)"/><rect x="262.5" y="208" width="170.10000000000002" height="1.02" fill="url(#e7)"/><rect x="262.5" y="209" width="170.10000000000002" height="1.02" fill="url(#e8)"/><rect x="262.5" y="210" width="170.10000000000002" height="1.02" fill="url(#e9)"/><rect x="262.5" y="211" width="170.10000000000002" height="1.02" fill="url(#e10)"/><rect x="262.5" y="212" width="170.10000000000002" height="1.02" fill="url(#e11)"/><rect x="262.5" y="213" width="170.10000000000002" height="1.02" fill="url(#e12)"/><rect x="262.5" y="214" width="170.10000000000002" height="1.02" fill="url(#e13)"/><rect x="262.5" y="215" width="170.10000000000002" height="1.02" fill="url(#e14)"/><rect x="262.5" y="216" width="170.10000000000002" height="1.02" fill="url(#e15)"/><rect x="262.5" y="217" width="170.10000000000002" height="1.02" fill="url(#e16)"/><rect x="262.5" y="218" width="170.10000000000002" height="1.02" fill="url(#e17)"/><rect x="262.5" y="219" width="170.10000000000002" height="1.02" fill="url(#e18)"/><rect x="262.5" y="220" width="170.10000000000002" height="1.02" fill="url(#e19)"/><rect x="262.5" y="221" width="170.10000000000002" height="1.02" fill="url(#e20)"/><rect x="262.5" y="222" width="170.10000000000002" height="1.02" fill="url(#e21)"/><rect x="262.5" y="223" width="170.10000000000002" height="1.02" fill="url(#e22)"/><rect x="262.5" y="224" width="170.10000000000002" height="1.02" fill="url(#e23)"/><rect x="262.5" y="225" width="170.10000000000002" height="1.02" fill="url(#e24)"/><rect x="262.5" y="226" width="170.10000000000002" height="1.02" fill="url(#e25)"/><rect x="262.5" y="227" width="170.10000000000002" height="1.02" fill="url(#e26)"/><rect x="262.5" y="228" width="170.10000000000002" height="1.02" fill="url(#e27)"/><rect x="262.5" y="229" width="170.10000000000002" height="1.02" fill="url(#e28)"/><rect x="262.5" y="230" width="170.10000000000002" height="1.02" fill="url(#e29)"/><rect x="262.5" y="231" width="170.10000000000002" height="1.02" fill="url(#e30)"/><rect x="262.5" y="232" width="170.10000000000002" height="1.02" fill="url(#e31)"/><rect x="262.5" y="233" width="170.10000000000002" height="1.02" fill="url(#e32)"/><rect x="262.5" y="234" width="170.10000000000002" height="1.02" fill="url(#e33)"/><rect x="262.5" y="235" width="170.10000000000002" height="1.02" fill="url(#e34)"/><rect x="262.5" y="236" width="170.10000000000002" height="1.02" fill="url(#e35)"/><rect x="262.5" y="237" width="170.10000000000002" height="1.02" fill="url(#e36)"/><rect x="262.5" y="238" width="170.10000000000002" height="1.02" fill="url(#e37)"/><rect x="262.5" y="239" width="170.10000000000002" height="1.02" fill="url(#e38)"/><rect x="262.5" y="240" width="170.10000000000002" height="1.02" fill="url(#e39)"/><rect x="262.5" y="241" width="170.10000000000002" height="1.02" fill="url(#e40)"/><rect x="262.5" y="242" width="170.10000000000002" height="1.02" fill="url(#e41)"/><rect x="262.5" y="243" width="170.10000000000002" height="1.02" fill="url(#e42)"/><rect x="262.5" y="244" width="170.10000000000002" height="1.02" fill="url(#e43)"/><rect x="262.5" y="245" width="170.10000000000002" height="1.02" fill="url(#e44)"/><rect x="262.5" y="246" width="170.10000000000002" height="1.02" fill="url(#e45)"/><rect x="262.5" y="247" width="170.10000000000002" height="1.02" fill="url(#e46)"/><rect x="262.5" y="248" width="170.10000000000002" height="1.02" fill="url(#e47)"/><rect x="262.5" y="249" width="170.10000000000002" height="1.02" fill="url(#e48)"/><rect x="262.5" y="250" width="170.10000000000002" height="1.02" fill="url(#e49)"/><rect x="262.5" y="251" width="170.10000000000002" height="1.02" fill="url(#e50)"/><rect x="262.5" y="252" width="170.10000000000002" height="1.02" fill="url(#e51)"/><rect x="262.5" y="253" width="170.10000000000002" height="1.02" fill="url(#e52)"/><rect x="262.5" y="254" width="170.10000000000002" height="1.02" fill="url(#e53)"/><rect x="262.5" y="255" width="170.10000000000002" height="1.02" fill="url(#e54)"/><rect x="262.5" y="256" width="170.10000000000002" height="1.02" fill="url(#e55)"/><rect x="262.5" y="257" width="170.10000000000002" height="1.02" fill="url(#e56)"/><rect x="262.5" y="258" width="170.10000000000002" height="1.02" fill="url(#e57)"/><rect x="262.5" y="259" width="170.10000000000002" height="1.02" fill="url(#e58)"/><rect x="262.5" y="260" width="170.10000000000002" height="1.02" fill="url(#e59)"/><rect x="262.5" y="261" width="170.10000000000002" height="1.02" fill="url(#e60)"/><rect x="262.5" y="262" width="170.10000000000002" height="1.02" fill="url(#e61)"/><rect x="262.5" y="263" width="170.10000000000002" height="1.02" fill="url(#e62)"/><rect x="262.5" y="264" width="170.10000000000002" height="1.02" fill="url(#e63)"/><rect x="262.5" y="265" width="170.10000000000002" height="1.02" fill="url(#e64)"/><rect x="262.5" y="266" width="170.10000000000002" height="1.02" fill="url(#e65)"/><rect x="262.5" y="267" width="170.10000000000002" height="1.02" fill="url(#e66)"/><rect x="262.5" y="268" width="170.10000000000002" height="1.02" fill="url(#e67)"/><rect x="262.5" y="269" width="170.10000000000002" height="1.02" fill="url(#e68)"/><rect x="262.5" y="270" width="170.10000000000002" height="1.02" fill="url(#e69)"/><rect x="262.5" y="271" width="170.10000000000002" height="1.02" fill="url(#e70)"/><rect x="262.5" y="272" width="170.10000000000002" height="1.02" fill="url(#e71)"/><rect x="262.5" y="273" width="170.10000000000002" height="1.02" fill="url(#e72)"/><rect x="262.5" y="274" width="170.10000000000002" height="1.02" fill="url(#e73)"/><rect x="262.5" y="275" width="170.10000000000002" height="1.02" fill="url(#e74)"/><rect x="262.5" y="276" width="170.10000000000002" height="1.02" fill="url(#e75)"/><rect x="262.5" y="277" width="170.10000000000002" height="1.02" fill="url(#e76)"/><rect x="262.5" y="278" width="170.10000000000002" height="1.02" fill="url(#e77)"/><rect x="262.5" y="279" width="170.10000000000002" height="1.02" fill="url(#e78)"/><rect x="262.5" y="280" width="170.10000000000002" height="1.02" fill="url(#e79)"/><rect x="262.5" y="281" width="170.10000000000002" height="1.02" fill="url(#e80)"/><rect x="262.5" y="282" width="170.10000000000002" height="1.02" fill="url(#e81)"/><rect x="262.5" y="283" width="170.10000000000002" height="1.02" fill="url(#e82)"/><rect x="262.5" y="284" width="170.10000000000002" height="1.02" fill="url(#e83)"/><rect x="262.5" y="285" width="170.10000000000002" height="1.02" fill="url(#e84)"/><rect x="262.5" y="286" width="170.10000000000002" height="1.02" fill="url(#e85)"/><rect x="262.5" y="290" width="170.10000000000002" height="1.02" fill="url(#e86)"/><rect x="262.5" y="291" width="170.10000000000002" height="1.02" fill="url(#e87)"/><rect x="262.5" y="292" width="170.10000000000002" height="1.02" fill="url(#e88)"/><rect x="262.5" y="293" width="170.10000000000002" height="1.02" fill="url(#e89)"/><rect x="262.5" y="294" width="170.10000000000002" height="1.02" fill="url(#e90)"/><rect x="262.5" y="295" width="170.10000000000002" height="1.02" fill="url(#e91)"/><rect x="262.5" y="296" width="170.10000000000002" height="1.02" fill="url(#e92)"/><rect x="262.5" y="297" width="170.10000000000002" height="1.02" fill="url(#e93)"/><rect x="262.5" y="298" width="170.10000000000002" height="1.02" fill="url(#e94)"/><rect x="262.5" y="299" width="170.10000000000002" height="1.02" fill="url(#e95)"/><rect x="262.5" y="300" width="170.10000000000002" height="1.02" fill="url(#e96)"/><rect x="262.5" y="301" width="170.10000000000002" height="1.02" fill="url(#e97)"/><rect x="262.5" y="302" width="170.10000000000002" height="1.02" fill="url(#e98)"/><rect x="262.5" y="303" width="170.10000000000002" height="1.02" fill="url(#e99)"/><rect x="262.5" y="304" width="170.10000000000002" height="1.02" fill="url(#e100)"/><rect x="262.5" y="305" width="170.10000000000002" height="1.02" fill="url(#e101)"/><rect x="262.5" y="306" width="170.10000000000002" height="1.02" fill="url(#e102)"/><rect x="262.5" y="307" width="170.10000000000002" height="1.02" fill="url(#e103)"/><rect x="262.5" y="308" width="170.10000000000002" height="1.02" fill="url(#e104)"/><rect x="262.5" y="309" width="170.10000000000002" height="1.02" fill="url(#e105)"/><rect x="262.5" y="310" width="170.10000000000002" height="1.02" fill="url(#e106)"/><rect x="262.5" y="311" width="170.10000000000002" height="1.02" fill="url(#e107)"/><rect x="262.5" y="312" width="170.10000000000002" height="1.02" fill="url(#e108)"/><rect x="262.5" y="313" width="170.10000000000002" height="1.02" fill="url(#e109)"/><rect x="262.5" y="314" width="170.10000000000002" height="1.02" fill="url(#e110)"/><rect x="262.5" y="315" width="170.10000000000002" height="1.02" fill="url(#e111)"/><rect x="262.5" y="316" width="170.10000000000002" height="1.02" fill="url(#e112)"/><rect x="262.5" y="317" width="170.10000000000002" height="1.02" fill="url(#e113)"/><rect x="262.5" y="318" width="170.10000000000002" height="1.02" fill="url(#e114)"/><rect x="262.5" y="319" width="170.10000000000002" height="1.02" fill="#35abf8"/><rect x="262.5" y="320" width="170.10000000000002" height="1.02" fill="#35abf8"/><rect x="262.5" y="321" width="170.10000000000002" height="1.02" fill="#35abf8"/><rect x="262.5" y="322" width="170.10000000000002" height="1.02" fill="#35abf8"/><rect x="262.5" y="323" width="170.10000000000002" height="1.02" fill="#35abf8"/><rect x="262.5" y="324" width="170.10000000000002" height="1.02" fill="#35abf8"/><rect x="262.5" y="325" width="170.10000000000002" height="1.02" fill="#35abf8"/>
<rect x="262.5" y="287" width="170.10" height="3" fill="#fff"/>
<path d="M262.5,200.8 H432.6 V325.6 H262.5 Z" fill="none" stroke="#231f20" stroke-width="1"/>
<line x1="258.50" y1="200.60" x2="262.50" y2="200.60" stroke="#231f20" stroke-width="1.0" />
<line x1="258.50" y1="222.20" x2="262.50" y2="222.20" stroke="#231f20" stroke-width="1.0" />
<line x1="258.50" y1="243.80" x2="262.50" y2="243.80" stroke="#231f20" stroke-width="1.0" />
<line x1="258.50" y1="265.40" x2="262.50" y2="265.40" stroke="#231f20" stroke-width="1.0" />
<line x1="260.50" y1="211.40" x2="262.50" y2="211.40" stroke="#231f20" stroke-width="1.0" />
<line x1="260.50" y1="233.00" x2="262.50" y2="233.00" stroke="#231f20" stroke-width="1.0" />
<line x1="260.50" y1="254.60" x2="262.50" y2="254.60" stroke="#231f20" stroke-width="1.0" />
<line x1="260.50" y1="276.20" x2="262.50" y2="276.20" stroke="#231f20" stroke-width="1.0" />
<text x="254.1" y="203.9" font-size="9" text-anchor="end" fill="#1a1a1a" >4000</text>
<text x="254.1" y="225.5" font-size="9" text-anchor="end" fill="#1a1a1a" >3000</text>
<text x="254.1" y="247.1" font-size="9" text-anchor="end" fill="#1a1a1a" >2000</text>
<text x="254.1" y="268.7" font-size="9" text-anchor="end" fill="#1a1a1a" >1000</text>
<line x1="258.50" y1="298.60" x2="262.50" y2="298.60" stroke="#231f20" stroke-width="1.0" />
<line x1="258.50" y1="325.60" x2="262.50" y2="325.60" stroke="#231f20" stroke-width="1.0" />
<line x1="260.50" y1="317.47" x2="262.50" y2="317.47" stroke="#231f20" stroke-width="1.0" />
<line x1="260.50" y1="312.72" x2="262.50" y2="312.72" stroke="#231f20" stroke-width="1.0" />
<line x1="260.50" y1="309.34" x2="262.50" y2="309.34" stroke="#231f20" stroke-width="1.0" />
<line x1="260.50" y1="306.73" x2="262.50" y2="306.73" stroke="#231f20" stroke-width="1.0" />
<line x1="260.50" y1="304.59" x2="262.50" y2="304.59" stroke="#231f20" stroke-width="1.0" />
<line x1="260.50" y1="302.78" x2="262.50" y2="302.78" stroke="#231f20" stroke-width="1.0" />
<line x1="260.50" y1="301.22" x2="262.50" y2="301.22" stroke="#231f20" stroke-width="1.0" />
<line x1="260.50" y1="299.84" x2="262.50" y2="299.84" stroke="#231f20" stroke-width="1.0" />
<line x1="260.50" y1="290.47" x2="262.50" y2="290.47" stroke="#231f20" stroke-width="1.0" />
<text x="248.5" y="301.9" font-size="9" text-anchor="middle" fill="#1a1a1a">10<tspan font-size="6.3" dy="-3.4">0</tspan></text>
<text x="248.5" y="328.9" font-size="9" text-anchor="middle" fill="#1a1a1a">10<tspan font-size="6.3" dy="-3.4">-1</tspan></text>
<path d="M257.5,288.4 L267.5,286.2 M257.5,291.0 L267.5,288.8" stroke="#231f20" stroke-width="0.9" fill="none"/>
<rect x="261.9" y="288.2" width="1.2" height="1.6" fill="#fff"/>
<path d="M427.6,288.4 L437.6,286.2 M427.6,291.0 L437.6,288.8" stroke="#231f20" stroke-width="0.9" fill="none"/>
<rect x="432.0" y="288.2" width="1.2" height="1.6" fill="#fff"/>
<line x1="262.50" y1="325.60" x2="262.50" y2="330.10" stroke="#231f20" stroke-width="1.0" />
<line x1="296.52" y1="325.60" x2="296.52" y2="330.10" stroke="#231f20" stroke-width="1.0" />
<line x1="330.54" y1="325.60" x2="330.54" y2="330.10" stroke="#231f20" stroke-width="1.0" />
<line x1="364.56" y1="325.60" x2="364.56" y2="330.10" stroke="#231f20" stroke-width="1.0" />
<line x1="398.58" y1="325.60" x2="398.58" y2="330.10" stroke="#231f20" stroke-width="1.0" />
<line x1="432.60" y1="325.60" x2="432.60" y2="330.10" stroke="#231f20" stroke-width="1.0" />
<line x1="279.51" y1="325.60" x2="279.51" y2="327.90" stroke="#231f20" stroke-width="1.0" />
<line x1="313.53" y1="325.60" x2="313.53" y2="327.90" stroke="#231f20" stroke-width="1.0" />
<line x1="347.55" y1="325.60" x2="347.55" y2="327.90" stroke="#231f20" stroke-width="1.0" />
<line x1="381.57" y1="325.60" x2="381.57" y2="327.90" stroke="#231f20" stroke-width="1.0" />
<line x1="415.59" y1="325.60" x2="415.59" y2="327.90" stroke="#231f20" stroke-width="1.0" />
<text x="262.5" y="341.5" font-size="9" text-anchor="middle" fill="#1a1a1a" >1350</text>
<text x="296.5" y="341.5" font-size="9" text-anchor="middle" fill="#1a1a1a" >1400</text>
<text x="330.5" y="341.5" font-size="9" text-anchor="middle" fill="#1a1a1a" >1450</text>
<text x="364.6" y="341.5" font-size="9" text-anchor="middle" fill="#1a1a1a" >1500</text>
<text x="398.6" y="341.5" font-size="9" text-anchor="middle" fill="#1a1a1a" >1550</text>
<text x="432.6" y="341.5" font-size="9" text-anchor="middle" fill="#1a1a1a" >1600</text>
<text x="355.2" y="359.6" font-size="9.2" text-anchor="middle" fill="#1a1a1a" >Wavelength (nm)</text>
<text transform="translate(229.4,262.4) rotate(-90)" font-size="9.2" text-anchor="middle" fill="#1a1a1a" textLength="95.8" lengthAdjust="spacingAndGlyphs">Pump-Probe Delay (ps)</text>
<text x="269.1" y="194.6" font-size="9.6" text-anchor="start" fill="#1a1a1a" >ZnSO<tspan font-size="6.5" dy="2.2">4</tspan><tspan dy="-2.2">/FU</tspan></text>
<defs><linearGradient id="f0"><stop offset="0.000" stop-color="#2eb4f2"/><stop offset="0.047" stop-color="#2ab9ee"/><stop offset="0.082" stop-color="#28bceb"/><stop offset="0.106" stop-color="#27bee9"/><stop offset="0.129" stop-color="#25c0e7"/><stop offset="0.153" stop-color="#20c7df"/><stop offset="0.176" stop-color="#1ecbda"/><stop offset="0.200" stop-color="#1bd0d5"/><stop offset="0.235" stop-color="#18d7ca"/><stop offset="0.282" stop-color="#18dec0"/><stop offset="0.341" stop-color="#19e3b9"/><stop offset="0.412" stop-color="#1ce6b4"/><stop offset="0.500" stop-color="#22ebaa"/><stop offset="0.588" stop-color="#2aefa1"/><stop offset="0.676" stop-color="#2ff19b"/><stop offset="0.765" stop-color="#32f298"/><stop offset="0.853" stop-color="#38f491"/><stop offset="0.929" stop-color="#3cf58e"/><stop offset="1.000" stop-color="#3ff68a"/></linearGradient><linearGradient id="f1"><stop offset="0.000" stop-color="#2eb4f2"/><stop offset="0.047" stop-color="#2ab9ee"/><stop offset="0.082" stop-color="#27bee9"/><stop offset="0.106" stop-color="#25c0e7"/><stop offset="0.129" stop-color="#22c5e2"/><stop offset="0.153" stop-color="#1fc9dd"/><stop offset="0.176" stop-color="#1bd0d5"/><stop offset="0.200" stop-color="#19d5cd"/><stop offset="0.235" stop-color="#18ddc2"/><stop offset="0.282" stop-color="#1ce6b4"/><stop offset="0.341" stop-color="#22ebaa"/><stop offset="0.412" stop-color="#2aefa1"/><stop offset="0.500" stop-color="#35f394"/><stop offset="0.588" stop-color="#43f787"/><stop offset="0.676" stop-color="#4af880"/><stop offset="0.765" stop-color="#52fa7a"/><stop offset="0.853" stop-color="#59fb73"/><stop offset="0.929" stop-color="#61fc6c"/><stop offset="1.000" stop-color="#65fd69"/></linearGradient><linearGradient id="f2"><stop offset="0.000" stop-color="#2eb4f2"/><stop offset="0.047" stop-color="#2ab9ee"/><stop offset="0.082" stop-color="#28bceb"/><stop offset="0.106" stop-color="#27bee9"/><stop offset="0.129" stop-color="#23c3e4"/><stop offset="0.153" stop-color="#1fc9dd"/><stop offset="0.176" stop-color="#1bd0d5"/><stop offset="0.200" stop-color="#1ad4d0"/><stop offset="0.235" stop-color="#18ddc2"/><stop offset="0.282" stop-color="#1ce6b4"/><stop offset="0.341" stop-color="#20eaac"/><stop offset="0.412" stop-color="#27eea4"/><stop offset="0.500" stop-color="#32f298"/><stop offset="0.588" stop-color="#3ff68a"/><stop offset="0.676" stop-color="#46f884"/><stop offset="0.765" stop-color="#4ef97d"/><stop offset="0.853" stop-color="#59fb73"/><stop offset="0.929" stop-color="#61fc6c"/><stop offset="1.000" stop-color="#69fd66"/></linearGradient><linearGradient id="f3"><stop offset="0.000" stop-color="#2eb4f2"/><stop offset="0.047" stop-color="#2cb7f0"/><stop offset="0.082" stop-color="#2ab9ee"/><stop offset="0.106" stop-color="#27bee9"/><stop offset="0.129" stop-color="#23c3e4"/><stop offset="0.153" stop-color="#20c7df"/><stop offset="0.176" stop-color="#1ccdd8"/><stop offset="0.200" stop-color="#1ad4d0"/><stop offset="0.235" stop-color="#18dbc5"/><stop offset="0.282" stop-color="#1ae4b6"/><stop offset="0.341" stop-color="#20eaac"/><stop offset="0.412" stop-color="#27eea4"/><stop offset="0.500" stop-color="#2ff19b"/><stop offset="0.588" stop-color="#38f491"/><stop offset="0.676" stop-color="#43f787"/><stop offset="0.765" stop-color="#4af880"/><stop offset="0.853" stop-color="#59fb73"/><stop offset="0.929" stop-color="#69fd66"/><stop offset="1.000" stop-color="#75fe5c"/></linearGradient><linearGradient id="f4"><stop offset="0.000" stop-color="#2eb4f2"/><stop offset="0.047" stop-color="#2cb7f0"/><stop offset="0.082" stop-color="#2ab9ee"/><stop offset="0.106" stop-color="#27bee9"/><stop offset="0.129" stop-color="#22c5e2"/><stop offset="0.153" stop-color="#1ecbda"/><stop offset="0.176" stop-color="#1bd0d5"/><stop offset="0.200" stop-color="#18d7ca"/><stop offset="0.235" stop-color="#18e0bd"/><stop offset="0.282" stop-color="#20eaac"/><stop offset="0.341" stop-color="#2ff19b"/><stop offset="0.412" stop-color="#38f491"/><stop offset="0.500" stop-color="#43f787"/><stop offset="0.588" stop-color="#52fa7a"/><stop offset="0.676" stop-color="#5dfc6f"/><stop offset="0.765" stop-color="#69fd66"/><stop offset="0.853" stop-color="#80ff53"/><stop offset="0.929" stop-color="#92ff47"/><stop offset="1.000" stop-color="#9ffd3f"/></linearGradient><linearGradient id="f5"><stop offset="0.000" stop-color="#2eb4f2"/><stop offset="0.047" stop-color="#2ab9ee"/><stop offset="0.082" stop-color="#2ab9ee"/><stop offset="0.106" stop-color="#25c0e7"/><stop offset="0.129" stop-color="#20c7df"/><stop offset="0.153" stop-color="#1bd0d5"/><stop offset="0.176" stop-color="#19d5cd"/><stop offset="0.200" stop-color="#18dec0"/><stop offset="0.235" stop-color="#1fe9af"/><stop offset="0.282" stop-color="#35f394"/><stop offset="0.341" stop-color="#4ef97d"/><stop offset="0.412" stop-color="#59fb73"/><stop offset="0.500" stop-color="#69fd66"/><stop offset="0.588" stop-color="#7dff56"/><stop offset="0.676" stop-color="#8bff4b"/><stop offset="0.765" stop-color="#96fe44"/><stop offset="0.853" stop-color="#affa37"/><stop offset="0.929" stop-color="#c1f334"/><stop offset="1.000" stop-color="#cdec34"/></linearGradient><linearGradient id="f6"><stop offset="0.000" stop-color="#2eb4f2"/><stop offset="0.047" stop-color="#2ab9ee"/><stop offset="0.082" stop-color="#28bceb"/><stop offset="0.106" stop-color="#23c3e4"/><stop offset="0.129" stop-color="#1ecbda"/><stop offset="0.153" stop-color="#1ad4d0"/><stop offset="0.176" stop-color="#18dbc5"/><stop offset="0.200" stop-color="#19e3b9"/><stop offset="0.235" stop-color="#27eea4"/><stop offset="0.282" stop-color="#46f884"/><stop offset="0.341" stop-color="#65fd69"/><stop offset="0.412" stop-color="#75fe5c"/><stop offset="0.500" stop-color="#8bff4b"/><stop offset="0.588" stop-color="#99fe42"/><stop offset="0.676" stop-color="#a7fc3a"/><stop offset="0.765" stop-color="#b4f836"/><stop offset="0.853" stop-color="#cbed34"/><stop offset="0.929" stop-color="#dde037"/><stop offset="1.000" stop-color="#ebd339"/></linearGradient><linearGradient id="f7"><stop offset="0.000" stop-color="#2eb4f2"/><stop offset="0.047" stop-color="#2ab9ee"/><stop offset="0.082" stop-color="#28bceb"/><stop offset="0.106" stop-color="#23c3e4"/><stop offset="0.129" stop-color="#1ecbda"/><stop offset="0.153" stop-color="#19d5cd"/><stop offset="0.176" stop-color="#18ddc2"/><stop offset="0.200" stop-color="#1ce6b4"/><stop offset="0.235" stop-color="#2cf09e"/><stop offset="0.282" stop-color="#52fa7a"/><stop offset="0.341" stop-color="#75fe5c"/><stop offset="0.412" stop-color="#84ff51"/><stop offset="0.500" stop-color="#96fe44"/><stop offset="0.588" stop-color="#a4fc3c"/><stop offset="0.676" stop-color="#b1f936"/><stop offset="0.765" stop-color="#bef434"/><stop offset="0.853" stop-color="#d7e535"/><stop offset="0.929" stop-color="#e9d539"/><stop offset="1.000" stop-color="#f4c73a"/></linearGradient><linearGradient id="f8"><stop offset="0.000" stop-color="#2eb4f2"/><stop offset="0.047" stop-color="#2ab9ee"/><stop offset="0.082" stop-color="#28bceb"/><stop offset="0.106" stop-color="#23c3e4"/><stop offset="0.129" stop-color="#1ccdd8"/><stop offset="0.153" stop-color="#19d5cd"/><stop offset="0.176" stop-color="#18ddc2"/><stop offset="0.200" stop-color="#1ce6b4"/><stop offset="0.235" stop-color="#2cf09e"/><stop offset="0.282" stop-color="#52fa7a"/><stop offset="0.341" stop-color="#75fe5c"/><stop offset="0.412" stop-color="#84ff51"/><stop offset="0.500" stop-color="#99fe42"/><stop offset="0.588" stop-color="#a7fc3a"/><stop offset="0.676" stop-color="#b4f836"/><stop offset="0.765" stop-color="#c1f334"/><stop offset="0.853" stop-color="#d9e436"/><stop offset="0.929" stop-color="#ebd339"/><stop offset="1.000" stop-color="#f5c53a"/></linearGradient><linearGradient id="f9"><stop offset="0.000" stop-color="#2eb4f2"/><stop offset="0.047" stop-color="#2ab9ee"/><stop offset="0.082" stop-color="#28bceb"/><stop offset="0.106" stop-color="#23c3e4"/><stop offset="0.129" stop-color="#1ecbda"/><stop offset="0.153" stop-color="#1ad4d0"/><stop offset="0.176" stop-color="#18dbc5"/><stop offset="0.200" stop-color="#1ae4b6"/><stop offset="0.235" stop-color="#2aefa1"/><stop offset="0.282" stop-color="#4ef97d"/><stop offset="0.341" stop-color="#6dfe62"/><stop offset="0.412" stop-color="#7dff56"/><stop offset="0.500" stop-color="#92ff47"/><stop offset="0.588" stop-color="#a1fd3d"/><stop offset="0.676" stop-color="#acfb38"/><stop offset="0.765" stop-color="#b9f635"/><stop offset="0.853" stop-color="#d2e935"/><stop offset="0.929" stop-color="#e3db38"/><stop offset="1.000" stop-color="#efcd3a"/></linearGradient><linearGradient id="f10"><stop offset="0.000" stop-color="#2eb4f2"/><stop offset="0.047" stop-color="#2ab9ee"/><stop offset="0.082" stop-color="#2ab9ee"/><stop offset="0.106" stop-color="#25c0e7"/><stop offset="0.129" stop-color="#1fc9dd"/><stop offset="0.153" stop-color="#1ad2d2"/><stop offset="0.176" stop-color="#18d7ca"/><stop offset="0.200" stop-color="#18e0bd"/><stop offset="0.235" stop-color="#20eaac"/><stop offset="0.282" stop-color="#3cf58e"/><stop offset="0.341" stop-color="#55fa76"/><stop offset="0.412" stop-color="#65fd69"/><stop offset="0.500" stop-color="#79fe59"/><stop offset="0.588" stop-color="#88ff4e"/><stop offset="0.676" stop-color="#96fe44"/><stop offset="0.765" stop-color="#a1fd3d"/><stop offset="0.853" stop-color="#b9f635"/><stop offset="0.929" stop-color="#cdec34"/><stop offset="1.000" stop-color="#dbe236"/></linearGradient><linearGradient id="f11"><stop offset="0.000" stop-color="#2eb4f2"/><stop offset="0.047" stop-color="#2cb7f0"/><stop offset="0.082" stop-color="#2ab9ee"/><stop offset="0.106" stop-color="#27bee9"/><stop offset="0.129" stop-color="#22c5e2"/><stop offset="0.153" stop-color="#1ecbda"/><stop offset="0.176" stop-color="#1ad2d2"/><stop offset="0.200" stop-color="#18d7ca"/><stop offset="0.235" stop-color="#19e2bb"/><stop offset="0.282" stop-color="#22ebaa"/><stop offset="0.341" stop-color="#32f298"/><stop offset="0.412" stop-color="#3cf58e"/><stop offset="0.500" stop-color="#46f884"/><stop offset="0.588" stop-color="#55fa76"/><stop offset="0.676" stop-color="#61fc6c"/><stop offset="0.765" stop-color="#6dfe62"/><stop offset="0.853" stop-color="#88ff4e"/><stop offset="0.929" stop-color="#9cfe40"/><stop offset="1.000" stop-color="#a9fb39"/></linearGradient><linearGradient id="f12"><stop offset="0.000" stop-color="#2eb4f2"/><stop offset="0.047" stop-color="#2cb7f0"/><stop offset="0.082" stop-color="#2cb7f0"/><stop offset="0.106" stop-color="#28bceb"/><stop offset="0.129" stop-color="#27bee9"/><stop offset="0.153" stop-color="#23c3e4"/><stop offset="0.176" stop-color="#20c7df"/><stop offset="0.200" stop-color="#1ecbda"/><stop offset="0.235" stop-color="#1ad4d0"/><stop offset="0.282" stop-color="#18ddc2"/><stop offset="0.341" stop-color="#19e2bb"/><stop offset="0.412" stop-color="#1ae4b6"/><stop offset="0.500" stop-color="#1de7b2"/><stop offset="0.588" stop-color="#22ebaa"/><stop offset="0.676" stop-color="#27eea4"/><stop offset="0.765" stop-color="#2cf09e"/><stop offset="0.853" stop-color="#38f491"/><stop offset="0.929" stop-color="#46f884"/><stop offset="1.000" stop-color="#52fa7a"/></linearGradient><linearGradient id="f13"><stop offset="0.000" stop-color="#2eb4f2"/><stop offset="0.047" stop-color="#2eb4f2"/><stop offset="0.082" stop-color="#2eb4f2"/><stop offset="0.106" stop-color="#2cb7f0"/><stop offset="0.129" stop-color="#2ab9ee"/><stop offset="0.153" stop-color="#28bceb"/><stop offset="0.176" stop-color="#28bceb"/><stop offset="0.200" stop-color="#25c0e7"/><stop offset="0.235" stop-color="#23c3e4"/><stop offset="0.282" stop-color="#1fc9dd"/><stop offset="0.341" stop-color="#1ecbda"/><stop offset="0.412" stop-color="#1ccdd8"/><stop offset="0.500" stop-color="#1bd0d5"/><stop offset="0.588" stop-color="#1ad2d2"/><stop offset="0.676" stop-color="#1ad4d0"/><stop offset="0.765" stop-color="#1ad4d0"/><stop offset="0.853" stop-color="#18d9c8"/><stop offset="0.929" stop-color="#18ddc2"/><stop offset="1.000" stop-color="#18dec0"/></linearGradient><linearGradient id="f14"><stop offset="0.000" stop-color="#2eb4f2"/><stop offset="0.047" stop-color="#2fb2f4"/><stop offset="0.082" stop-color="#2fb2f4"/><stop offset="0.106" stop-color="#2fb2f4"/><stop offset="0.129" stop-color="#2fb2f4"/><stop offset="0.153" stop-color="#2fb2f4"/><stop offset="0.176" stop-color="#2fb2f4"/><stop offset="0.200" stop-color="#2fb2f4"/><stop offset="0.235" stop-color="#2fb2f4"/><stop offset="0.282" stop-color="#2fb2f4"/><stop offset="0.341" stop-color="#31aff5"/><stop offset="0.412" stop-color="#33adf7"/><stop offset="0.500" stop-color="#35abf8"/><stop offset="0.588" stop-color="#35abf8"/><stop offset="0.676" stop-color="#35abf8"/><stop offset="0.765" stop-color="#37a8fa"/><stop offset="0.853" stop-color="#35abf8"/><stop offset="0.929" stop-color="#35abf8"/><stop offset="1.000" stop-color="#35abf8"/></linearGradient><linearGradient id="f15"><stop offset="0.000" stop-color="#2eb4f2"/><stop offset="0.047" stop-color="#2fb2f4"/><stop offset="0.082" stop-color="#31aff5"/><stop offset="0.106" stop-color="#33adf7"/><stop offset="0.129" stop-color="#33adf7"/><stop offset="0.153" stop-color="#33adf7"/><stop offset="0.176" stop-color="#35abf8"/><stop offset="0.200" stop-color="#35abf8"/><stop offset="0.235" stop-color="#37a8fa"/><stop offset="0.282" stop-color="#38a5fb"/><stop offset="0.341" stop-color="#3ba0fd"/><stop offset="0.412" stop-color="#3e9bfe"/><stop offset="0.500" stop-color="#4294ff"/><stop offset="0.588" stop-color="#4391fe"/><stop offset="0.676" stop-color="#448ffe"/><stop offset="0.765" stop-color="#458cfd"/><stop offset="0.853" stop-color="#458cfd"/><stop offset="0.929" stop-color="#458afc"/><stop offset="1.000" stop-color="#4687fb"/></linearGradient><linearGradient id="f16"><stop offset="0.000" stop-color="#2eb4f2"/><stop offset="0.047" stop-color="#2eb4f2"/><stop offset="0.082" stop-color="#2eb4f2"/><stop offset="0.106" stop-color="#2eb4f2"/><stop offset="0.129" stop-color="#2cb7f0"/><stop offset="0.153" stop-color="#2ab9ee"/><stop offset="0.176" stop-color="#28bceb"/><stop offset="0.200" stop-color="#28bceb"/><stop offset="0.235" stop-color="#28bceb"/><stop offset="0.282" stop-color="#28bceb"/><stop offset="0.341" stop-color="#2ab9ee"/><stop offset="0.412" stop-color="#2cb7f0"/><stop offset="0.500" stop-color="#2eb4f2"/><stop offset="0.588" stop-color="#2cb7f0"/><stop offset="0.676" stop-color="#2ab9ee"/><stop offset="0.765" stop-color="#28bceb"/><stop offset="0.853" stop-color="#28bceb"/><stop offset="0.929" stop-color="#28bceb"/><stop offset="1.000" stop-color="#28bceb"/></linearGradient><linearGradient id="f17"><stop offset="0.000" stop-color="#2eb4f2"/><stop offset="0.047" stop-color="#28bceb"/><stop offset="0.082" stop-color="#25c0e7"/><stop offset="0.106" stop-color="#20c7df"/><stop offset="0.129" stop-color="#1ccdd8"/><stop offset="0.153" stop-color="#19d5cd"/><stop offset="0.176" stop-color="#18dbc5"/><stop offset="0.200" stop-color="#18e0bd"/><stop offset="0.235" stop-color="#1ae4b6"/><stop offset="0.282" stop-color="#1de7b2"/><stop offset="0.341" stop-color="#20eaac"/><stop offset="0.412" stop-color="#25eca7"/><stop offset="0.500" stop-color="#2cf09e"/><stop offset="0.588" stop-color="#38f491"/><stop offset="0.676" stop-color="#4ef97d"/><stop offset="0.765" stop-color="#61fc6c"/><stop offset="0.853" stop-color="#6dfe62"/><stop offset="0.929" stop-color="#75fe5c"/><stop offset="1.000" stop-color="#7dff56"/></linearGradient><linearGradient id="f18"><stop offset="0.000" stop-color="#2eb4f2"/><stop offset="0.047" stop-color="#28bceb"/><stop offset="0.082" stop-color="#22c5e2"/><stop offset="0.106" stop-color="#1bd0d5"/><stop offset="0.129" stop-color="#18dbc5"/><stop offset="0.153" stop-color="#1ae4b6"/><stop offset="0.176" stop-color="#25eca7"/><stop offset="0.200" stop-color="#32f298"/><stop offset="0.235" stop-color="#43f787"/><stop offset="0.282" stop-color="#52fa7a"/><stop offset="0.341" stop-color="#61fc6c"/><stop offset="0.412" stop-color="#71fe5f"/><stop offset="0.500" stop-color="#84ff51"/><stop offset="0.588" stop-color="#9cfe40"/><stop offset="0.676" stop-color="#b7f735"/><stop offset="0.765" stop-color="#cdec34"/><stop offset="0.853" stop-color="#d9e436"/><stop offset="0.929" stop-color="#e1dd37"/><stop offset="1.000" stop-color="#e7d739"/></linearGradient><linearGradient id="f19"><stop offset="0.000" stop-color="#2eb4f2"/><stop offset="0.047" stop-color="#28bceb"/><stop offset="0.082" stop-color="#22c5e2"/><stop offset="0.106" stop-color="#1ad2d2"/><stop offset="0.129" stop-color="#18e0bd"/><stop offset="0.153" stop-color="#22ebaa"/><stop offset="0.176" stop-color="#3cf58e"/><stop offset="0.200" stop-color="#55fa76"/><stop offset="0.235" stop-color="#69fd66"/><stop offset="0.282" stop-color="#80ff53"/><stop offset="0.341" stop-color="#92ff47"/><stop offset="0.412" stop-color="#a4fc3c"/><stop offset="0.500" stop-color="#b4f836"/><stop offset="0.588" stop-color="#d0ea34"/><stop offset="0.676" stop-color="#ecd13a"/><stop offset="0.765" stop-color="#fbb838"/><stop offset="0.853" stop-color="#fea732"/><stop offset="0.929" stop-color="#fe9b2d"/><stop offset="1.000" stop-color="#fd8d27"/></linearGradient><linearGradient id="f20"><stop offset="0.000" stop-color="#2eb4f2"/><stop offset="0.047" stop-color="#28bceb"/><stop offset="0.082" stop-color="#1fc9dd"/><stop offset="0.106" stop-color="#18d9c8"/><stop offset="0.129" stop-color="#1fe9af"/><stop offset="0.153" stop-color="#3cf58e"/><stop offset="0.176" stop-color="#65fd69"/><stop offset="0.200" stop-color="#8bff4b"/><stop offset="0.235" stop-color="#9ffd3f"/><stop offset="0.282" stop-color="#b4f836"/><stop offset="0.341" stop-color="#c8ef34"/><stop offset="0.412" stop-color="#d9e436"/><stop offset="0.500" stop-color="#ebd339"/><stop offset="0.588" stop-color="#fbb637"/><stop offset="0.676" stop-color="#fb8122"/><stop offset="0.765" stop-color="#ec530f"/><stop offset="0.853" stop-color="#df3f08"/><stop offset="0.929" stop-color="#d43305"/><stop offset="1.000" stop-color="#ca2a04"/></linearGradient><linearGradient id="f21"><stop offset="0.000" stop-color="#2eb4f2"/><stop offset="0.047" stop-color="#28bceb"/><stop offset="0.082" stop-color="#1ecbda"/><stop offset="0.106" stop-color="#18dec0"/><stop offset="0.129" stop-color="#27eea4"/><stop offset="0.153" stop-color="#52fa7a"/><stop offset="0.176" stop-color="#84ff51"/><stop offset="0.200" stop-color="#a7fc3a"/><stop offset="0.235" stop-color="#b9f635"/><stop offset="0.282" stop-color="#d2e935"/><stop offset="0.341" stop-color="#e5d938"/><stop offset="0.412" stop-color="#f2c93a"/><stop offset="0.500" stop-color="#fcb336"/><stop offset="0.588" stop-color="#fc8725"/><stop offset="0.676" stop-color="#e7490c"/><stop offset="0.765" stop-color="#c32503"/><stop offset="0.853" stop-color="#a91601"/><stop offset="0.929" stop-color="#950d01"/><stop offset="1.000" stop-color="#810602"/></linearGradient><linearGradient id="f22"><stop offset="0.000" stop-color="#2eb4f2"/><stop offset="0.047" stop-color="#28bceb"/><stop offset="0.082" stop-color="#1ecbda"/><stop offset="0.106" stop-color="#18ddc2"/><stop offset="0.129" stop-color="#27eea4"/><stop offset="0.153" stop-color="#4ef97d"/><stop offset="0.176" stop-color="#80ff53"/><stop offset="0.200" stop-color="#a4fc3c"/><stop offset="0.235" stop-color="#b7f735"/><stop offset="0.282" stop-color="#cdec34"/><stop offset="0.341" stop-color="#e1dd37"/><stop offset="0.412" stop-color="#efcd3a"/><stop offset="0.500" stop-color="#fbb838"/><stop offset="0.588" stop-color="#fd8d27"/><stop offset="0.676" stop-color="#ea4e0d"/><stop offset="0.765" stop-color="#ca2a04"/><stop offset="0.853" stop-color="#b21a01"/><stop offset="0.929" stop-color="#9e1001"/><stop offset="1.000" stop-color="#8b0902"/></linearGradient><linearGradient id="f23"><stop offset="0.000" stop-color="#2eb4f2"/><stop offset="0.047" stop-color="#28bceb"/><stop offset="0.082" stop-color="#20c7df"/><stop offset="0.106" stop-color="#18d7ca"/><stop offset="0.129" stop-color="#1de7b2"/><stop offset="0.153" stop-color="#35f394"/><stop offset="0.176" stop-color="#5dfc6f"/><stop offset="0.200" stop-color="#80ff53"/><stop offset="0.235" stop-color="#96fe44"/><stop offset="0.282" stop-color="#acfb38"/><stop offset="0.341" stop-color="#bef434"/><stop offset="0.412" stop-color="#d0ea34"/><stop offset="0.500" stop-color="#e1dd37"/><stop offset="0.588" stop-color="#f6c33a"/><stop offset="0.676" stop-color="#fe962b"/><stop offset="0.765" stop-color="#f46617"/><stop offset="0.853" stop-color="#eb500e"/><stop offset="0.929" stop-color="#e2430a"/><stop offset="1.000" stop-color="#da3907"/></linearGradient><linearGradient id="f24"><stop offset="0.000" stop-color="#2eb4f2"/><stop offset="0.047" stop-color="#2ab9ee"/><stop offset="0.082" stop-color="#23c3e4"/><stop offset="0.106" stop-color="#1ccdd8"/><stop offset="0.129" stop-color="#18dbc5"/><stop offset="0.153" stop-color="#1de7b2"/><stop offset="0.176" stop-color="#2cf09e"/><stop offset="0.200" stop-color="#43f787"/><stop offset="0.235" stop-color="#52fa7a"/><stop offset="0.282" stop-color="#65fd69"/><stop offset="0.341" stop-color="#79fe59"/><stop offset="0.412" stop-color="#8bff4b"/><stop offset="0.500" stop-color="#9ffd3f"/><stop offset="0.588" stop-color="#b7f735"/><stop offset="0.676" stop-color="#d7e535"/><stop offset="0.765" stop-color="#ecd13a"/><stop offset="0.853" stop-color="#f5c53a"/><stop offset="0.929" stop-color="#f9bc39"/><stop offset="1.000" stop-color="#fcb336"/></linearGradient><linearGradient id="f25"><stop offset="0.000" stop-color="#2eb4f2"/><stop offset="0.047" stop-color="#2cb7f0"/><stop offset="0.082" stop-color="#28bceb"/><stop offset="0.106" stop-color="#22c5e2"/><stop offset="0.129" stop-color="#1ccdd8"/><stop offset="0.153" stop-color="#19d5cd"/><stop offset="0.176" stop-color="#18dec0"/><stop offset="0.200" stop-color="#19e3b9"/><stop offset="0.235" stop-color="#1de7b2"/><stop offset="0.282" stop-color="#22ebaa"/><stop offset="0.341" stop-color="#2aefa1"/><stop offset="0.412" stop-color="#32f298"/><stop offset="0.500" stop-color="#3cf58e"/><stop offset="0.588" stop-color="#52fa7a"/><stop offset="0.676" stop-color="#6dfe62"/><stop offset="0.765" stop-color="#88ff4e"/><stop offset="0.853" stop-color="#96fe44"/><stop offset="0.929" stop-color="#9cfe40"/><stop offset="1.000" stop-color="#a1fd3d"/></linearGradient><linearGradient id="f26"><stop offset="0.000" stop-color="#2eb4f2"/><stop offset="0.047" stop-color="#2cb7f0"/><stop offset="0.082" stop-color="#2ab9ee"/><stop offset="0.106" stop-color="#28bceb"/><stop offset="0.129" stop-color="#25c0e7"/><stop offset="0.153" stop-color="#22c5e2"/><stop offset="0.176" stop-color="#1ecbda"/><stop offset="0.200" stop-color="#1ccdd8"/><stop offset="0.235" stop-color="#1bd0d5"/><stop offset="0.282" stop-color="#1ad4d0"/><stop offset="0.341" stop-color="#19d5cd"/><stop offset="0.412" stop-color="#18d7ca"/><stop offset="0.500" stop-color="#18dbc5"/><stop offset="0.588" stop-color="#18e0bd"/><stop offset="0.676" stop-color="#1ce6b4"/><stop offset="0.765" stop-color="#20eaac"/><stop offset="0.853" stop-color="#25eca7"/><stop offset="0.929" stop-color="#27eea4"/><stop offset="1.000" stop-color="#2aefa1"/></linearGradient><linearGradient id="f27"><stop offset="0.000" stop-color="#2eb4f2"/><stop offset="0.047" stop-color="#2eb4f2"/><stop offset="0.082" stop-color="#2eb4f2"/><stop offset="0.106" stop-color="#2eb4f2"/><stop offset="0.129" stop-color="#2cb7f0"/><stop offset="0.153" stop-color="#2ab9ee"/><stop offset="0.176" stop-color="#28bceb"/><stop offset="0.200" stop-color="#28bceb"/><stop offset="0.235" stop-color="#28bceb"/><stop offset="0.282" stop-color="#27bee9"/><stop offset="0.341" stop-color="#27bee9"/><stop offset="0.412" stop-color="#27bee9"/><stop offset="0.500" stop-color="#27bee9"/><stop offset="0.588" stop-color="#25c0e7"/><stop offset="0.676" stop-color="#22c5e2"/><stop offset="0.765" stop-color="#20c7df"/><stop offset="0.853" stop-color="#1fc9dd"/><stop offset="0.929" stop-color="#1fc9dd"/><stop offset="1.000" stop-color="#1fc9dd"/></linearGradient><linearGradient id="f28"><stop offset="0.000" stop-color="#2eb4f2"/><stop offset="0.047" stop-color="#2fb2f4"/><stop offset="0.082" stop-color="#33adf7"/><stop offset="0.106" stop-color="#33adf7"/><stop offset="0.129" stop-color="#35abf8"/><stop offset="0.153" stop-color="#35abf8"/><stop offset="0.176" stop-color="#35abf8"/><stop offset="0.200" stop-color="#35abf8"/><stop offset="0.235" stop-color="#35abf8"/><stop offset="0.282" stop-color="#37a8fa"/><stop offset="0.341" stop-color="#38a5fb"/><stop offset="0.412" stop-color="#3aa3fc"/><stop offset="0.500" stop-color="#3aa3fc"/><stop offset="0.588" stop-color="#3ba0fd"/><stop offset="0.676" stop-color="#3ba0fd"/><stop offset="0.765" stop-color="#3ba0fd"/><stop offset="0.853" stop-color="#3d9efe"/><stop offset="0.929" stop-color="#3e9bfe"/><stop offset="1.000" stop-color="#3e9bfe"/></linearGradient><linearGradient id="f29"><stop offset="0.000" stop-color="#2eb4f2"/><stop offset="0.047" stop-color="#33adf7"/><stop offset="0.082" stop-color="#38a5fb"/><stop offset="0.106" stop-color="#3ba0fd"/><stop offset="0.129" stop-color="#3d9efe"/><stop offset="0.153" stop-color="#3d9efe"/><stop offset="0.176" stop-color="#3e9bfe"/><stop offset="0.200" stop-color="#3e9bfe"/><stop offset="0.235" stop-color="#4099ff"/><stop offset="0.282" stop-color="#4294ff"/><stop offset="0.341" stop-color="#4391fe"/><stop offset="0.412" stop-color="#458cfd"/><stop offset="0.500" stop-color="#458afc"/><stop offset="0.588" stop-color="#4685fa"/><stop offset="0.676" stop-color="#4682f8"/><stop offset="0.765" stop-color="#467df4"/><stop offset="0.853" stop-color="#477bf2"/><stop offset="0.929" stop-color="#4776ee"/><stop offset="1.000" stop-color="#4773eb"/></linearGradient><linearGradient id="f30"><stop offset="0.000" stop-color="#2eb4f2"/><stop offset="0.047" stop-color="#35abf8"/><stop offset="0.082" stop-color="#3aa3fc"/><stop offset="0.106" stop-color="#3e9bfe"/><stop offset="0.129" stop-color="#4099ff"/><stop offset="0.153" stop-color="#4196ff"/><stop offset="0.176" stop-color="#4294ff"/><stop offset="0.200" stop-color="#4294ff"/><stop offset="0.235" stop-color="#4391fe"/><stop offset="0.282" stop-color="#458cfd"/><stop offset="0.341" stop-color="#458afc"/><stop offset="0.412" stop-color="#4685fa"/><stop offset="0.500" stop-color="#4680f6"/><stop offset="0.588" stop-color="#477bf2"/><stop offset="0.676" stop-color="#4776ee"/><stop offset="0.765" stop-color="#4771e9"/><stop offset="0.853" stop-color="#466be3"/><stop offset="0.929" stop-color="#4669e0"/><stop offset="1.000" stop-color="#4664da"/></linearGradient><linearGradient id="f31"><stop offset="0.000" stop-color="#2eb4f2"/><stop offset="0.047" stop-color="#37a8fa"/><stop offset="0.082" stop-color="#3ba0fd"/><stop offset="0.106" stop-color="#4099ff"/><stop offset="0.129" stop-color="#4294ff"/><stop offset="0.153" stop-color="#4294ff"/><stop offset="0.176" stop-color="#4391fe"/><stop offset="0.200" stop-color="#448ffe"/><stop offset="0.235" stop-color="#458cfd"/><stop offset="0.282" stop-color="#458afc"/><stop offset="0.341" stop-color="#4685fa"/><stop offset="0.412" stop-color="#4680f6"/><stop offset="0.500" stop-color="#477bf2"/><stop offset="0.588" stop-color="#4776ee"/><stop offset="0.676" stop-color="#4771e9"/><stop offset="0.765" stop-color="#466be3"/><stop offset="0.853" stop-color="#4666dd"/><stop offset="0.929" stop-color="#4661d6"/><stop offset="1.000" stop-color="#455ccf"/></linearGradient><linearGradient id="f32"><stop offset="0.000" stop-color="#2eb4f2"/><stop offset="0.047" stop-color="#37a8fa"/><stop offset="0.082" stop-color="#3d9efe"/><stop offset="0.106" stop-color="#4196ff"/><stop offset="0.129" stop-color="#4294ff"/><stop offset="0.153" stop-color="#4391fe"/><stop offset="0.176" stop-color="#448ffe"/><stop offset="0.200" stop-color="#458cfd"/><stop offset="0.235" stop-color="#458afc"/><stop offset="0.282" stop-color="#4687fb"/><stop offset="0.341" stop-color="#4682f8"/><stop offset="0.412" stop-color="#467df4"/><stop offset="0.500" stop-color="#4778f0"/><stop offset="0.588" stop-color="#4773eb"/><stop offset="0.676" stop-color="#466be3"/><stop offset="0.765" stop-color="#4666dd"/><stop offset="0.853" stop-color="#4661d6"/><stop offset="0.929" stop-color="#4559cb"/><stop offset="1.000" stop-color="#4454c3"/></linearGradient><linearGradient id="f33"><stop offset="0.000" stop-color="#2eb4f2"/><stop offset="0.047" stop-color="#37a8fa"/><stop offset="0.082" stop-color="#3ba0fd"/><stop offset="0.106" stop-color="#4099ff"/><stop offset="0.129" stop-color="#4294ff"/><stop offset="0.153" stop-color="#4294ff"/><stop offset="0.176" stop-color="#4391fe"/><stop offset="0.200" stop-color="#448ffe"/><stop offset="0.235" stop-color="#458cfd"/><stop offset="0.282" stop-color="#458afc"/><stop offset="0.341" stop-color="#4685fa"/><stop offset="0.412" stop-color="#4680f6"/><stop offset="0.500" stop-color="#477bf2"/><stop offset="0.588" stop-color="#4773eb"/><stop offset="0.676" stop-color="#476ee6"/><stop offset="0.765" stop-color="#4666dd"/><stop offset="0.853" stop-color="#455ed3"/><stop offset="0.929" stop-color="#4559cb"/><stop offset="1.000" stop-color="#4451bf"/></linearGradient><linearGradient id="f34"><stop offset="0.000" stop-color="#2eb4f2"/><stop offset="0.047" stop-color="#35abf8"/><stop offset="0.082" stop-color="#3aa3fc"/><stop offset="0.106" stop-color="#3d9efe"/><stop offset="0.129" stop-color="#4099ff"/><stop offset="0.153" stop-color="#4099ff"/><stop offset="0.176" stop-color="#4196ff"/><stop offset="0.200" stop-color="#4294ff"/><stop offset="0.235" stop-color="#4391fe"/><stop offset="0.282" stop-color="#448ffe"/><stop offset="0.341" stop-color="#458afc"/><stop offset="0.412" stop-color="#4685fa"/><stop offset="0.500" stop-color="#467df4"/><stop offset="0.588" stop-color="#4776ee"/><stop offset="0.676" stop-color="#476ee6"/><stop offset="0.765" stop-color="#4666dd"/><stop offset="0.853" stop-color="#455ccf"/><stop offset="0.929" stop-color="#4454c3"/><stop offset="1.000" stop-color="#424bb5"/></linearGradient><linearGradient id="f35"><stop offset="0.000" stop-color="#2eb4f2"/><stop offset="0.047" stop-color="#33adf7"/><stop offset="0.082" stop-color="#37a8fa"/><stop offset="0.106" stop-color="#3aa3fc"/><stop offset="0.129" stop-color="#3ba0fd"/><stop offset="0.153" stop-color="#3d9efe"/><stop offset="0.176" stop-color="#3d9efe"/><stop offset="0.200" stop-color="#3e9bfe"/><stop offset="0.235" stop-color="#4099ff"/><stop offset="0.282" stop-color="#4294ff"/><stop offset="0.341" stop-color="#448ffe"/><stop offset="0.412" stop-color="#4687fb"/><stop offset="0.500" stop-color="#4680f6"/><stop offset="0.588" stop-color="#4776ee"/><stop offset="0.676" stop-color="#466be3"/><stop offset="0.765" stop-color="#4661d6"/><stop offset="0.853" stop-color="#4456c7"/><stop offset="0.929" stop-color="#424bb5"/><stop offset="1.000" stop-color="#3f3e9c"/></linearGradient><linearGradient id="f36"><stop offset="0.000" stop-color="#2eb4f2"/><stop offset="0.047" stop-color="#2fb2f4"/><stop offset="0.082" stop-color="#33adf7"/><stop offset="0.106" stop-color="#35abf8"/><stop offset="0.129" stop-color="#37a8fa"/><stop offset="0.153" stop-color="#38a5fb"/><stop offset="0.176" stop-color="#3aa3fc"/><stop offset="0.200" stop-color="#3ba0fd"/><stop offset="0.235" stop-color="#3d9efe"/><stop offset="0.282" stop-color="#4099ff"/><stop offset="0.341" stop-color="#4391fe"/><stop offset="0.412" stop-color="#458afc"/><stop offset="0.500" stop-color="#467df4"/><stop offset="0.588" stop-color="#476ee6"/><stop offset="0.676" stop-color="#455ed3"/><stop offset="0.765" stop-color="#434eba"/><stop offset="0.853" stop-color="#4040a2"/><stop offset="0.929" stop-color="#3b2f80"/><stop offset="1.000" stop-color="#36215f"/></linearGradient><linearGradient id="f37"><stop offset="0.000" stop-color="#2eb4f2"/><stop offset="0.047" stop-color="#2fb2f4"/><stop offset="0.082" stop-color="#31aff5"/><stop offset="0.106" stop-color="#33adf7"/><stop offset="0.129" stop-color="#35abf8"/><stop offset="0.153" stop-color="#37a8fa"/><stop offset="0.176" stop-color="#38a5fb"/><stop offset="0.200" stop-color="#3aa3fc"/><stop offset="0.235" stop-color="#3d9efe"/><stop offset="0.282" stop-color="#4196ff"/><stop offset="0.341" stop-color="#458cfd"/><stop offset="0.412" stop-color="#467df4"/><stop offset="0.500" stop-color="#4669e0"/><stop offset="0.588" stop-color="#4454c3"/><stop offset="0.676" stop-color="#3f3b97"/><stop offset="0.765" stop-color="#38276d"/><stop offset="0.853" stop-color="#30123b"/><stop offset="0.929" stop-color="#30123b"/><stop offset="1.000" stop-color="#30123b"/></linearGradient><linearGradient id="f38"><stop offset="0.000" stop-color="#2eb4f2"/><stop offset="0.047" stop-color="#2fb2f4"/><stop offset="0.082" stop-color="#31aff5"/><stop offset="0.106" stop-color="#35abf8"/><stop offset="0.129" stop-color="#37a8fa"/><stop offset="0.153" stop-color="#3aa3fc"/><stop offset="0.176" stop-color="#3ba0fd"/><stop offset="0.200" stop-color="#3e9bfe"/><stop offset="0.235" stop-color="#4196ff"/><stop offset="0.282" stop-color="#458cfd"/><stop offset="0.341" stop-color="#477bf2"/><stop offset="0.412" stop-color="#4664da"/><stop offset="0.500" stop-color="#4146ac"/><stop offset="0.588" stop-color="#38276d"/><stop offset="0.676" stop-color="#30123b"/><stop offset="0.765" stop-color="#30123b"/><stop offset="0.853" stop-color="#30123b"/><stop offset="0.929" stop-color="#30123b"/><stop offset="1.000" stop-color="#30123b"/></linearGradient><linearGradient id="f39"><stop offset="0.000" stop-color="#2eb4f2"/><stop offset="0.047" stop-color="#2fb2f4"/><stop offset="0.082" stop-color="#33adf7"/><stop offset="0.106" stop-color="#37a8fa"/><stop offset="0.129" stop-color="#3aa3fc"/><stop offset="0.153" stop-color="#3e9bfe"/><stop offset="0.176" stop-color="#4196ff"/><stop offset="0.200" stop-color="#4391fe"/><stop offset="0.235" stop-color="#4687fb"/><stop offset="0.282" stop-color="#477bf2"/><stop offset="0.341" stop-color="#4664da"/><stop offset="0.412" stop-color="#4040a2"/><stop offset="0.500" stop-color="#321543"/><stop offset="0.588" stop-color="#30123b"/><stop offset="0.676" stop-color="#30123b"/><stop offset="0.765" stop-color="#30123b"/><stop offset="0.853" stop-color="#30123b"/><stop offset="0.929" stop-color="#30123b"/><stop offset="1.000" stop-color="#30123b"/></linearGradient><linearGradient id="f40"><stop offset="0.000" stop-color="#2eb4f2"/><stop offset="0.047" stop-color="#31aff5"/><stop offset="0.082" stop-color="#35abf8"/><stop offset="0.106" stop-color="#3aa3fc"/><stop offset="0.129" stop-color="#3e9bfe"/><stop offset="0.153" stop-color="#4294ff"/><stop offset="0.176" stop-color="#458cfd"/><stop offset="0.200" stop-color="#4685fa"/><stop offset="0.235" stop-color="#4778f0"/><stop offset="0.282" stop-color="#4666dd"/><stop offset="0.341" stop-color="#4249b1"/><stop offset="0.412" stop-color="#351e58"/><stop offset="0.500" stop-color="#30123b"/><stop offset="0.588" stop-color="#30123b"/><stop offset="0.676" stop-color="#30123b"/><stop offset="0.765" stop-color="#30123b"/><stop offset="0.853" stop-color="#30123b"/><stop offset="0.929" stop-color="#30123b"/><stop offset="1.000" stop-color="#30123b"/></linearGradient><linearGradient id="f41"><stop offset="0.000" stop-color="#2eb4f2"/><stop offset="0.047" stop-color="#33adf7"/><stop offset="0.082" stop-color="#37a8fa"/><stop offset="0.106" stop-color="#3d9efe"/><stop offset="0.129" stop-color="#4196ff"/><stop offset="0.153" stop-color="#458cfd"/><stop offset="0.176" stop-color="#4682f8"/><stop offset="0.200" stop-color="#477bf2"/><stop offset="0.235" stop-color="#466be3"/><stop offset="0.282" stop-color="#4456c7"/><stop offset="0.341" stop-color="#3c3286"/><stop offset="0.412" stop-color="#30123b"/><stop offset="0.500" stop-color="#30123b"/><stop offset="0.588" stop-color="#30123b"/><stop offset="0.676" stop-color="#30123b"/><stop offset="0.765" stop-color="#30123b"/><stop offset="0.853" stop-color="#30123b"/><stop offset="0.929" stop-color="#30123b"/><stop offset="1.000" stop-color="#30123b"/></linearGradient><linearGradient id="f42"><stop offset="0.000" stop-color="#2eb4f2"/><stop offset="0.047" stop-color="#33adf7"/><stop offset="0.082" stop-color="#38a5fb"/><stop offset="0.106" stop-color="#3e9bfe"/><stop offset="0.129" stop-color="#4391fe"/><stop offset="0.153" stop-color="#4687fb"/><stop offset="0.176" stop-color="#467df4"/><stop offset="0.200" stop-color="#4773eb"/><stop offset="0.235" stop-color="#4666dd"/><stop offset="0.282" stop-color="#434eba"/><stop offset="0.341" stop-color="#392a73"/><stop offset="0.412" stop-color="#30123b"/><stop offset="0.500" stop-color="#30123b"/><stop offset="0.588" stop-color="#30123b"/><stop offset="0.676" stop-color="#30123b"/><stop offset="0.765" stop-color="#30123b"/><stop offset="0.853" stop-color="#30123b"/><stop offset="0.929" stop-color="#30123b"/><stop offset="1.000" stop-color="#30123b"/></linearGradient><linearGradient id="f43"><stop offset="0.000" stop-color="#2eb4f2"/><stop offset="0.047" stop-color="#33adf7"/><stop offset="0.082" stop-color="#38a5fb"/><stop offset="0.106" stop-color="#3e9bfe"/><stop offset="0.129" stop-color="#4391fe"/><stop offset="0.153" stop-color="#4687fb"/><stop offset="0.176" stop-color="#467df4"/><stop offset="0.200" stop-color="#4773eb"/><stop offset="0.235" stop-color="#4666dd"/><stop offset="0.282" stop-color="#4451bf"/><stop offset="0.341" stop-color="#3b2f80"/><stop offset="0.412" stop-color="#30123b"/><stop offset="0.500" stop-color="#30123b"/><stop offset="0.588" stop-color="#30123b"/><stop offset="0.676" stop-color="#30123b"/><stop offset="0.765" stop-color="#30123b"/><stop offset="0.853" stop-color="#30123b"/><stop offset="0.929" stop-color="#30123b"/><stop offset="1.000" stop-color="#30123b"/></linearGradient><linearGradient id="f44"><stop offset="0.000" stop-color="#2eb4f2"/><stop offset="0.047" stop-color="#33adf7"/><stop offset="0.082" stop-color="#38a5fb"/><stop offset="0.106" stop-color="#3d9efe"/><stop offset="0.129" stop-color="#4294ff"/><stop offset="0.153" stop-color="#458cfd"/><stop offset="0.176" stop-color="#4682f8"/><stop offset="0.200" stop-color="#467df4"/><stop offset="0.235" stop-color="#4771e9"/><stop offset="0.282" stop-color="#4661d6"/><stop offset="0.341" stop-color="#4146ac"/><stop offset="0.412" stop-color="#38276d"/><stop offset="0.500" stop-color="#30123b"/><stop offset="0.588" stop-color="#30123b"/><stop offset="0.676" stop-color="#30123b"/><stop offset="0.765" stop-color="#30123b"/><stop offset="0.853" stop-color="#30123b"/><stop offset="0.929" stop-color="#30123b"/><stop offset="1.000" stop-color="#30123b"/></linearGradient><linearGradient id="f45"><stop offset="0.000" stop-color="#2eb4f2"/><stop offset="0.047" stop-color="#31aff5"/><stop offset="0.082" stop-color="#35abf8"/><stop offset="0.106" stop-color="#3aa3fc"/><stop offset="0.129" stop-color="#3d9efe"/><stop offset="0.153" stop-color="#4196ff"/><stop offset="0.176" stop-color="#4391fe"/><stop offset="0.200" stop-color="#458cfd"/><stop offset="0.235" stop-color="#4687fb"/><stop offset="0.282" stop-color="#477bf2"/><stop offset="0.341" stop-color="#466be3"/><stop offset="0.412" stop-color="#455ccf"/><stop offset="0.500" stop-color="#424bb5"/><stop offset="0.588" stop-color="#4146ac"/><stop offset="0.676" stop-color="#4143a7"/><stop offset="0.765" stop-color="#4249b1"/><stop offset="0.853" stop-color="#4454c3"/><stop offset="0.929" stop-color="#455ccf"/><stop offset="1.000" stop-color="#4664da"/></linearGradient><linearGradient id="f46"><stop offset="0.000" stop-color="#2eb4f2"/><stop offset="0.047" stop-color="#2eb4f2"/><stop offset="0.082" stop-color="#2fb2f4"/><stop offset="0.106" stop-color="#33adf7"/><stop offset="0.129" stop-color="#35abf8"/><stop offset="0.153" stop-color="#37a8fa"/><stop offset="0.176" stop-color="#37a8fa"/><stop offset="0.200" stop-color="#37a8fa"/><stop offset="0.235" stop-color="#38a5fb"/><stop offset="0.282" stop-color="#38a5fb"/><stop offset="0.341" stop-color="#3ba0fd"/><stop offset="0.412" stop-color="#3d9efe"/><stop offset="0.500" stop-color="#3e9bfe"/><stop offset="0.588" stop-color="#3d9efe"/><stop offset="0.676" stop-color="#3aa3fc"/><stop offset="0.765" stop-color="#35abf8"/><stop offset="0.853" stop-color="#2eb4f2"/><stop offset="0.929" stop-color="#28bceb"/><stop offset="1.000" stop-color="#23c3e4"/></linearGradient><linearGradient id="f47"><stop offset="0.000" stop-color="#2eb4f2"/><stop offset="0.047" stop-color="#2cb7f0"/><stop offset="0.082" stop-color="#2ab9ee"/><stop offset="0.106" stop-color="#2cb7f0"/><stop offset="0.129" stop-color="#2ab9ee"/><stop offset="0.153" stop-color="#28bceb"/><stop offset="0.176" stop-color="#25c0e7"/><stop offset="0.200" stop-color="#22c5e2"/><stop offset="0.235" stop-color="#1fc9dd"/><stop offset="0.282" stop-color="#1bd0d5"/><stop offset="0.341" stop-color="#19d5cd"/><stop offset="0.412" stop-color="#18ddc2"/><stop offset="0.500" stop-color="#19e3b9"/><stop offset="0.588" stop-color="#1fe9af"/><stop offset="0.676" stop-color="#27eea4"/><stop offset="0.765" stop-color="#35f394"/><stop offset="0.853" stop-color="#43f787"/><stop offset="0.929" stop-color="#4ef97d"/><stop offset="1.000" stop-color="#5dfc6f"/></linearGradient><linearGradient id="f48"><stop offset="0.000" stop-color="#2eb4f2"/><stop offset="0.047" stop-color="#2ab9ee"/><stop offset="0.082" stop-color="#27bee9"/><stop offset="0.106" stop-color="#27bee9"/><stop offset="0.129" stop-color="#23c3e4"/><stop offset="0.153" stop-color="#1fc9dd"/><stop offset="0.176" stop-color="#1ccdd8"/><stop offset="0.200" stop-color="#1ad4d0"/><stop offset="0.235" stop-color="#18ddc2"/><stop offset="0.282" stop-color="#19e3b9"/><stop offset="0.341" stop-color="#22ebaa"/><stop offset="0.412" stop-color="#38f491"/><stop offset="0.500" stop-color="#4ef97d"/><stop offset="0.588" stop-color="#61fc6c"/><stop offset="0.676" stop-color="#75fe5c"/><stop offset="0.765" stop-color="#8bff4b"/><stop offset="0.853" stop-color="#99fe42"/><stop offset="0.929" stop-color="#a1fd3d"/><stop offset="1.000" stop-color="#a9fb39"/></linearGradient><linearGradient id="f49"><stop offset="0.000" stop-color="#2eb4f2"/><stop offset="0.047" stop-color="#2ab9ee"/><stop offset="0.082" stop-color="#27bee9"/><stop offset="0.106" stop-color="#27bee9"/><stop offset="0.129" stop-color="#23c3e4"/><stop offset="0.153" stop-color="#20c7df"/><stop offset="0.176" stop-color="#1ccdd8"/><stop offset="0.200" stop-color="#1ad2d2"/><stop offset="0.235" stop-color="#18d9c8"/><stop offset="0.282" stop-color="#19e2bb"/><stop offset="0.341" stop-color="#1fe9af"/><stop offset="0.412" stop-color="#2ff19b"/><stop offset="0.500" stop-color="#43f787"/><stop offset="0.588" stop-color="#52fa7a"/><stop offset="0.676" stop-color="#65fd69"/><stop offset="0.765" stop-color="#75fe5c"/><stop offset="0.853" stop-color="#80ff53"/><stop offset="0.929" stop-color="#8bff4b"/><stop offset="1.000" stop-color="#92ff47"/></linearGradient><linearGradient id="f50"><stop offset="0.000" stop-color="#2eb4f2"/><stop offset="0.047" stop-color="#2cb7f0"/><stop offset="0.082" stop-color="#2ab9ee"/><stop offset="0.106" stop-color="#2ab9ee"/><stop offset="0.129" stop-color="#28bceb"/><stop offset="0.153" stop-color="#25c0e7"/><stop offset="0.176" stop-color="#23c3e4"/><stop offset="0.200" stop-color="#22c5e2"/><stop offset="0.235" stop-color="#1ecbda"/><stop offset="0.282" stop-color="#1bd0d5"/><stop offset="0.341" stop-color="#19d5cd"/><stop offset="0.412" stop-color="#18ddc2"/><stop offset="0.500" stop-color="#19e2bb"/><stop offset="0.588" stop-color="#1ce6b4"/><stop offset="0.676" stop-color="#1fe9af"/><stop offset="0.765" stop-color="#22ebaa"/><stop offset="0.853" stop-color="#27eea4"/><stop offset="0.929" stop-color="#2aefa1"/><stop offset="1.000" stop-color="#2ff19b"/></linearGradient><linearGradient id="f51"><stop offset="0.000" stop-color="#2eb4f2"/><stop offset="0.047" stop-color="#2eb4f2"/><stop offset="0.082" stop-color="#2eb4f2"/><stop offset="0.106" stop-color="#2eb4f2"/><stop offset="0.129" stop-color="#2eb4f2"/><stop offset="0.153" stop-color="#2cb7f0"/><stop offset="0.176" stop-color="#2cb7f0"/><stop offset="0.200" stop-color="#2cb7f0"/><stop offset="0.235" stop-color="#2ab9ee"/><stop offset="0.282" stop-color="#2ab9ee"/><stop offset="0.341" stop-color="#28bceb"/><stop offset="0.412" stop-color="#27bee9"/><stop offset="0.500" stop-color="#25c0e7"/><stop offset="0.588" stop-color="#23c3e4"/><stop offset="0.676" stop-color="#22c5e2"/><stop offset="0.765" stop-color="#22c5e2"/><stop offset="0.853" stop-color="#20c7df"/><stop offset="0.929" stop-color="#20c7df"/><stop offset="1.000" stop-color="#20c7df"/></linearGradient><linearGradient id="f52"><stop offset="0.000" stop-color="#2eb4f2"/><stop offset="0.047" stop-color="#2fb2f4"/><stop offset="0.082" stop-color="#31aff5"/><stop offset="0.106" stop-color="#33adf7"/><stop offset="0.129" stop-color="#35abf8"/><stop offset="0.153" stop-color="#37a8fa"/><stop offset="0.176" stop-color="#37a8fa"/><stop offset="0.200" stop-color="#38a5fb"/><stop offset="0.235" stop-color="#3aa3fc"/><stop offset="0.282" stop-color="#3ba0fd"/><stop offset="0.341" stop-color="#3d9efe"/><stop offset="0.412" stop-color="#3e9bfe"/><stop offset="0.500" stop-color="#4099ff"/><stop offset="0.588" stop-color="#4196ff"/><stop offset="0.676" stop-color="#4294ff"/><stop offset="0.765" stop-color="#4391fe"/><stop offset="0.853" stop-color="#448ffe"/><stop offset="0.929" stop-color="#458cfd"/><stop offset="1.000" stop-color="#458afc"/></linearGradient><linearGradient id="f53"><stop offset="0.000" stop-color="#2eb4f2"/><stop offset="0.047" stop-color="#33adf7"/><stop offset="0.082" stop-color="#37a8fa"/><stop offset="0.106" stop-color="#3aa3fc"/><stop offset="0.129" stop-color="#3ba0fd"/><stop offset="0.153" stop-color="#3e9bfe"/><stop offset="0.176" stop-color="#4196ff"/><stop offset="0.200" stop-color="#4294ff"/><stop offset="0.235" stop-color="#458cfd"/><stop offset="0.282" stop-color="#4687fb"/><stop offset="0.341" stop-color="#4682f8"/><stop offset="0.412" stop-color="#467df4"/><stop offset="0.500" stop-color="#4776ee"/><stop offset="0.588" stop-color="#4771e9"/><stop offset="0.676" stop-color="#4669e0"/><stop offset="0.765" stop-color="#4661d6"/><stop offset="0.853" stop-color="#4559cb"/><stop offset="0.929" stop-color="#4454c3"/><stop offset="1.000" stop-color="#434eba"/></linearGradient><linearGradient id="f54"><stop offset="0.000" stop-color="#2eb4f2"/><stop offset="0.047" stop-color="#31aff5"/><stop offset="0.082" stop-color="#35abf8"/><stop offset="0.106" stop-color="#38a5fb"/><stop offset="0.129" stop-color="#3aa3fc"/><stop offset="0.153" stop-color="#3ba0fd"/><stop offset="0.176" stop-color="#3e9bfe"/><stop offset="0.200" stop-color="#4099ff"/><stop offset="0.235" stop-color="#4294ff"/><stop offset="0.282" stop-color="#448ffe"/><stop offset="0.341" stop-color="#458afc"/><stop offset="0.412" stop-color="#4687fb"/><stop offset="0.500" stop-color="#4680f6"/><stop offset="0.588" stop-color="#477bf2"/><stop offset="0.676" stop-color="#4776ee"/><stop offset="0.765" stop-color="#4771e9"/><stop offset="0.853" stop-color="#466be3"/><stop offset="0.929" stop-color="#4666dd"/><stop offset="1.000" stop-color="#4661d6"/></linearGradient><linearGradient id="f55"><stop offset="0.000" stop-color="#2eb4f2"/><stop offset="0.047" stop-color="#2fb2f4"/><stop offset="0.082" stop-color="#33adf7"/><stop offset="0.106" stop-color="#35abf8"/><stop offset="0.129" stop-color="#37a8fa"/><stop offset="0.153" stop-color="#38a5fb"/><stop offset="0.176" stop-color="#3aa3fc"/><stop offset="0.200" stop-color="#3ba0fd"/><stop offset="0.235" stop-color="#3e9bfe"/><stop offset="0.282" stop-color="#4099ff"/><stop offset="0.341" stop-color="#4196ff"/><stop offset="0.412" stop-color="#4294ff"/><stop offset="0.500" stop-color="#448ffe"/><stop offset="0.588" stop-color="#458cfd"/><stop offset="0.676" stop-color="#4687fb"/><stop offset="0.765" stop-color="#4685fa"/><stop offset="0.853" stop-color="#4680f6"/><stop offset="0.929" stop-color="#467df4"/><stop offset="1.000" stop-color="#477bf2"/></linearGradient><linearGradient id="f56"><stop offset="0.000" stop-color="#2eb4f2"/><stop offset="0.047" stop-color="#31aff5"/><stop offset="0.082" stop-color="#33adf7"/><stop offset="0.106" stop-color="#35abf8"/><stop offset="0.129" stop-color="#37a8fa"/><stop offset="0.153" stop-color="#38a5fb"/><stop offset="0.176" stop-color="#3aa3fc"/><stop offset="0.200" stop-color="#3ba0fd"/><stop offset="0.235" stop-color="#3e9bfe"/><stop offset="0.282" stop-color="#4099ff"/><stop offset="0.341" stop-color="#4196ff"/><stop offset="0.412" stop-color="#4294ff"/><stop offset="0.500" stop-color="#448ffe"/><stop offset="0.588" stop-color="#458cfd"/><stop offset="0.676" stop-color="#4687fb"/><stop offset="0.765" stop-color="#4685fa"/><stop offset="0.853" stop-color="#4682f8"/><stop offset="0.929" stop-color="#467df4"/><stop offset="1.000" stop-color="#477bf2"/></linearGradient><linearGradient id="f57"><stop offset="0.000" stop-color="#2eb4f2"/><stop offset="0.047" stop-color="#2fb2f4"/><stop offset="0.082" stop-color="#31aff5"/><stop offset="0.106" stop-color="#33adf7"/><stop offset="0.129" stop-color="#35abf8"/><stop offset="0.153" stop-color="#37a8fa"/><stop offset="0.176" stop-color="#38a5fb"/><stop offset="0.200" stop-color="#3aa3fc"/><stop offset="0.235" stop-color="#3ba0fd"/><stop offset="0.282" stop-color="#3d9efe"/><stop offset="0.341" stop-color="#3e9bfe"/><stop offset="0.412" stop-color="#4099ff"/><stop offset="0.500" stop-color="#4196ff"/><stop offset="0.588" stop-color="#4294ff"/><stop offset="0.676" stop-color="#4391fe"/><stop offset="0.765" stop-color="#448ffe"/><stop offset="0.853" stop-color="#458afc"/><stop offset="0.929" stop-color="#4687fb"/><stop offset="1.000" stop-color="#4687fb"/></linearGradient><linearGradient id="f58"><stop offset="0.000" stop-color="#2eb4f2"/><stop offset="0.047" stop-color="#2eb4f2"/><stop offset="0.082" stop-color="#2fb2f4"/><stop offset="0.106" stop-color="#2fb2f4"/><stop offset="0.129" stop-color="#31aff5"/><stop offset="0.153" stop-color="#31aff5"/><stop offset="0.176" stop-color="#31aff5"/><stop offset="0.200" stop-color="#33adf7"/><stop offset="0.235" stop-color="#33adf7"/><stop offset="0.282" stop-color="#35abf8"/><stop offset="0.341" stop-color="#37a8fa"/><stop offset="0.412" stop-color="#37a8fa"/><stop offset="0.500" stop-color="#38a5fb"/><stop offset="0.588" stop-color="#38a5fb"/><stop offset="0.676" stop-color="#38a5fb"/><stop offset="0.765" stop-color="#3aa3fc"/><stop offset="0.853" stop-color="#3aa3fc"/><stop offset="0.929" stop-color="#3ba0fd"/><stop offset="1.000" stop-color="#3ba0fd"/></linearGradient><linearGradient id="f59"><stop offset="0.000" stop-color="#2eb4f2"/><stop offset="0.047" stop-color="#2cb7f0"/><stop offset="0.082" stop-color="#2cb7f0"/><stop offset="0.106" stop-color="#2cb7f0"/><stop offset="0.129" stop-color="#2cb7f0"/><stop offset="0.153" stop-color="#2cb7f0"/><stop offset="0.176" stop-color="#2cb7f0"/><stop offset="0.200" stop-color="#2cb7f0"/><stop offset="0.235" stop-color="#2cb7f0"/><stop offset="0.282" stop-color="#2cb7f0"/><stop offset="0.341" stop-color="#2cb7f0"/><stop offset="0.412" stop-color="#2cb7f0"/><stop offset="0.500" stop-color="#2ab9ee"/><stop offset="0.588" stop-color="#2ab9ee"/><stop offset="0.676" stop-color="#2ab9ee"/><stop offset="0.765" stop-color="#28bceb"/><stop offset="0.853" stop-color="#28bceb"/><stop offset="0.929" stop-color="#28bceb"/><stop offset="1.000" stop-color="#27bee9"/></linearGradient><linearGradient id="f60"><stop offset="0.000" stop-color="#2eb4f2"/><stop offset="0.047" stop-color="#2cb7f0"/><stop offset="0.082" stop-color="#2cb7f0"/><stop offset="0.106" stop-color="#2cb7f0"/><stop offset="0.129" stop-color="#2ab9ee"/><stop offset="0.153" stop-color="#2ab9ee"/><stop offset="0.176" stop-color="#2ab9ee"/><stop offset="0.200" stop-color="#2ab9ee"/><stop offset="0.235" stop-color="#2ab9ee"/><stop offset="0.282" stop-color="#2ab9ee"/><stop offset="0.341" stop-color="#2ab9ee"/><stop offset="0.412" stop-color="#2ab9ee"/><stop offset="0.500" stop-color="#28bceb"/><stop offset="0.588" stop-color="#28bceb"/><stop offset="0.676" stop-color="#27bee9"/><stop offset="0.765" stop-color="#27bee9"/><stop offset="0.853" stop-color="#25c0e7"/><stop offset="0.929" stop-color="#25c0e7"/><stop offset="1.000" stop-color="#23c3e4"/></linearGradient><linearGradient id="f61"><stop offset="0.000" stop-color="#2eb4f2"/><stop offset="0.047" stop-color="#2eb4f2"/><stop offset="0.082" stop-color="#2eb4f2"/><stop offset="0.106" stop-color="#2eb4f2"/><stop offset="0.129" stop-color="#2eb4f2"/><stop offset="0.153" stop-color="#2eb4f2"/><stop offset="0.176" stop-color="#2fb2f4"/><stop offset="0.200" stop-color="#2fb2f4"/><stop offset="0.235" stop-color="#2fb2f4"/><stop offset="0.282" stop-color="#31aff5"/><stop offset="0.341" stop-color="#31aff5"/><stop offset="0.412" stop-color="#31aff5"/><stop offset="0.500" stop-color="#33adf7"/><stop offset="0.588" stop-color="#33adf7"/><stop offset="0.676" stop-color="#33adf7"/><stop offset="0.765" stop-color="#33adf7"/><stop offset="0.853" stop-color="#33adf7"/><stop offset="0.929" stop-color="#33adf7"/><stop offset="1.000" stop-color="#35abf8"/></linearGradient><linearGradient id="f62"><stop offset="0.000" stop-color="#2eb4f2"/><stop offset="0.047" stop-color="#2fb2f4"/><stop offset="0.082" stop-color="#31aff5"/><stop offset="0.106" stop-color="#33adf7"/><stop offset="0.129" stop-color="#33adf7"/><stop offset="0.153" stop-color="#35abf8"/><stop offset="0.176" stop-color="#37a8fa"/><stop offset="0.200" stop-color="#37a8fa"/><stop offset="0.235" stop-color="#3aa3fc"/><stop offset="0.282" stop-color="#3ba0fd"/><stop offset="0.341" stop-color="#3d9efe"/><stop offset="0.412" stop-color="#3e9bfe"/><stop offset="0.500" stop-color="#4099ff"/><stop offset="0.588" stop-color="#4294ff"/><stop offset="0.676" stop-color="#4391fe"/><stop offset="0.765" stop-color="#448ffe"/><stop offset="0.853" stop-color="#458afc"/><stop offset="0.929" stop-color="#4687fb"/><stop offset="1.000" stop-color="#4685fa"/></linearGradient><linearGradient id="f63"><stop offset="0.000" stop-color="#2eb4f2"/><stop offset="0.047" stop-color="#2fb2f4"/><stop offset="0.082" stop-color="#33adf7"/><stop offset="0.106" stop-color="#35abf8"/><stop offset="0.129" stop-color="#37a8fa"/><stop offset="0.153" stop-color="#38a5fb"/><stop offset="0.176" stop-color="#3aa3fc"/><stop offset="0.200" stop-color="#3ba0fd"/><stop offset="0.235" stop-color="#3d9efe"/><stop offset="0.282" stop-color="#4099ff"/><stop offset="0.341" stop-color="#4196ff"/><stop offset="0.412" stop-color="#4391fe"/><stop offset="0.500" stop-color="#458cfd"/><stop offset="0.588" stop-color="#4687fb"/><stop offset="0.676" stop-color="#4682f8"/><stop offset="0.765" stop-color="#467df4"/><stop offset="0.853" stop-color="#4778f0"/><stop offset="0.929" stop-color="#4776ee"/><stop offset="1.000" stop-color="#4771e9"/></linearGradient><linearGradient id="f64"><stop offset="0.000" stop-color="#2eb4f2"/><stop offset="0.047" stop-color="#2fb2f4"/><stop offset="0.082" stop-color="#2fb2f4"/><stop offset="0.106" stop-color="#31aff5"/><stop offset="0.129" stop-color="#33adf7"/><stop offset="0.153" stop-color="#33adf7"/><stop offset="0.176" stop-color="#35abf8"/><stop offset="0.200" stop-color="#35abf8"/><stop offset="0.235" stop-color="#37a8fa"/><stop offset="0.282" stop-color="#38a5fb"/><stop offset="0.341" stop-color="#3ba0fd"/><stop offset="0.412" stop-color="#3ba0fd"/><stop offset="0.500" stop-color="#3e9bfe"/><stop offset="0.588" stop-color="#4099ff"/><stop offset="0.676" stop-color="#4196ff"/><stop offset="0.765" stop-color="#4294ff"/><stop offset="0.853" stop-color="#4391fe"/><stop offset="0.929" stop-color="#448ffe"/><stop offset="1.000" stop-color="#458cfd"/></linearGradient><linearGradient id="f65"><stop offset="0.000" stop-color="#2eb4f2"/><stop offset="0.047" stop-color="#2eb4f2"/><stop offset="0.082" stop-color="#2eb4f2"/><stop offset="0.106" stop-color="#2eb4f2"/><stop offset="0.129" stop-color="#2eb4f2"/><stop offset="0.153" stop-color="#2eb4f2"/><stop offset="0.176" stop-color="#2fb2f4"/><stop offset="0.200" stop-color="#2fb2f4"/><stop offset="0.235" stop-color="#2fb2f4"/><stop offset="0.282" stop-color="#2fb2f4"/><stop offset="0.341" stop-color="#31aff5"/><stop offset="0.412" stop-color="#31aff5"/><stop offset="0.500" stop-color="#31aff5"/><stop offset="0.588" stop-color="#33adf7"/><stop offset="0.676" stop-color="#33adf7"/><stop offset="0.765" stop-color="#33adf7"/><stop offset="0.853" stop-color="#33adf7"/><stop offset="0.929" stop-color="#33adf7"/><stop offset="1.000" stop-color="#33adf7"/></linearGradient><linearGradient id="f66"><stop offset="0.000" stop-color="#2eb4f2"/><stop offset="0.047" stop-color="#2cb7f0"/><stop offset="0.082" stop-color="#2cb7f0"/><stop offset="0.106" stop-color="#2cb7f0"/><stop offset="0.129" stop-color="#2cb7f0"/><stop offset="0.153" stop-color="#2cb7f0"/><stop offset="0.176" stop-color="#2cb7f0"/><stop offset="0.200" stop-color="#2cb7f0"/><stop offset="0.235" stop-color="#2cb7f0"/><stop offset="0.282" stop-color="#2cb7f0"/><stop offset="0.341" stop-color="#2cb7f0"/><stop offset="0.412" stop-color="#2cb7f0"/><stop offset="0.500" stop-color="#2cb7f0"/><stop offset="0.588" stop-color="#2cb7f0"/><stop offset="0.676" stop-color="#2ab9ee"/><stop offset="0.765" stop-color="#2ab9ee"/><stop offset="0.853" stop-color="#2ab9ee"/><stop offset="0.929" stop-color="#28bceb"/><stop offset="1.000" stop-color="#28bceb"/></linearGradient><linearGradient id="f67"><stop offset="0.000" stop-color="#2eb4f2"/><stop offset="0.047" stop-color="#2cb7f0"/><stop offset="0.082" stop-color="#2cb7f0"/><stop offset="0.106" stop-color="#2ab9ee"/><stop offset="0.129" stop-color="#2ab9ee"/><stop offset="0.153" stop-color="#2ab9ee"/><stop offset="0.176" stop-color="#2ab9ee"/><stop offset="0.200" stop-color="#2ab9ee"/><stop offset="0.235" stop-color="#28bceb"/><stop offset="0.282" stop-color="#28bceb"/><stop offset="0.341" stop-color="#2ab9ee"/><stop offset="0.412" stop-color="#28bceb"/><stop offset="0.500" stop-color="#28bceb"/><stop offset="0.588" stop-color="#27bee9"/><stop offset="0.676" stop-color="#25c0e7"/><stop offset="0.765" stop-color="#25c0e7"/><stop offset="0.853" stop-color="#23c3e4"/><stop offset="0.929" stop-color="#23c3e4"/><stop offset="1.000" stop-color="#22c5e2"/></linearGradient><linearGradient id="f68"><stop offset="0.000" stop-color="#2eb4f2"/><stop offset="0.047" stop-color="#2cb7f0"/><stop offset="0.082" stop-color="#2ab9ee"/><stop offset="0.106" stop-color="#2ab9ee"/><stop offset="0.129" stop-color="#2ab9ee"/><stop offset="0.153" stop-color="#2ab9ee"/><stop offset="0.176" stop-color="#28bceb"/><stop offset="0.200" stop-color="#28bceb"/><stop offset="0.235" stop-color="#28bceb"/><stop offset="0.282" stop-color="#28bceb"/><stop offset="0.341" stop-color="#28bceb"/><stop offset="0.412" stop-color="#27bee9"/><stop offset="0.500" stop-color="#27bee9"/><stop offset="0.588" stop-color="#25c0e7"/><stop offset="0.676" stop-color="#23c3e4"/><stop offset="0.765" stop-color="#23c3e4"/><stop offset="0.853" stop-color="#22c5e2"/><stop offset="0.929" stop-color="#20c7df"/><stop offset="1.000" stop-color="#20c7df"/></linearGradient><linearGradient id="f69"><stop offset="0.000" stop-color="#2eb4f2"/><stop offset="0.047" stop-color="#2cb7f0"/><stop offset="0.082" stop-color="#2cb7f0"/><stop offset="0.106" stop-color="#2ab9ee"/><stop offset="0.129" stop-color="#2ab9ee"/><stop offset="0.153" stop-color="#2ab9ee"/><stop offset="0.176" stop-color="#2ab9ee"/><stop offset="0.200" stop-color="#2ab9ee"/><stop offset="0.235" stop-color="#28bceb"/><stop offset="0.282" stop-color="#28bceb"/><stop offset="0.341" stop-color="#2ab9ee"/><stop offset="0.412" stop-color="#28bceb"/><stop offset="0.500" stop-color="#28bceb"/><stop offset="0.588" stop-color="#27bee9"/><stop offset="0.676" stop-color="#25c0e7"/><stop offset="0.765" stop-color="#25c0e7"/><stop offset="0.853" stop-color="#23c3e4"/><stop offset="0.929" stop-color="#23c3e4"/><stop offset="1.000" stop-color="#22c5e2"/></linearGradient><linearGradient id="f70"><stop offset="0.000" stop-color="#2eb4f2"/><stop offset="0.047" stop-color="#2cb7f0"/><stop offset="0.082" stop-color="#2cb7f0"/><stop offset="0.106" stop-color="#2cb7f0"/><stop offset="0.129" stop-color="#2cb7f0"/><stop offset="0.153" stop-color="#2cb7f0"/><stop offset="0.176" stop-color="#2cb7f0"/><stop offset="0.200" stop-color="#2cb7f0"/><stop offset="0.235" stop-color="#2ab9ee"/><stop offset="0.282" stop-color="#2cb7f0"/><stop offset="0.341" stop-color="#2cb7f0"/><stop offset="0.412" stop-color="#2cb7f0"/><stop offset="0.500" stop-color="#2ab9ee"/><stop offset="0.588" stop-color="#2ab9ee"/><stop offset="0.676" stop-color="#28bceb"/><stop offset="0.765" stop-color="#28bceb"/><stop offset="0.853" stop-color="#28bceb"/><stop offset="0.929" stop-color="#27bee9"/><stop offset="1.000" stop-color="#27bee9"/></linearGradient><linearGradient id="f71"><stop offset="0.000" stop-color="#2eb4f2"/><stop offset="0.047" stop-color="#2cb7f0"/><stop offset="0.082" stop-color="#2cb7f0"/><stop offset="0.106" stop-color="#2cb7f0"/><stop offset="0.129" stop-color="#2ab9ee"/><stop offset="0.153" stop-color="#2ab9ee"/><stop offset="0.176" stop-color="#2ab9ee"/><stop offset="0.200" stop-color="#2ab9ee"/><stop offset="0.235" stop-color="#2ab9ee"/><stop offset="0.282" stop-color="#2ab9ee"/><stop offset="0.341" stop-color="#2ab9ee"/><stop offset="0.412" stop-color="#28bceb"/><stop offset="0.500" stop-color="#28bceb"/><stop offset="0.588" stop-color="#27bee9"/><stop offset="0.676" stop-color="#25c0e7"/><stop offset="0.765" stop-color="#25c0e7"/><stop offset="0.853" stop-color="#23c3e4"/><stop offset="0.929" stop-color="#23c3e4"/><stop offset="1.000" stop-color="#22c5e2"/></linearGradient><linearGradient id="f72"><stop offset="0.000" stop-color="#2eb4f2"/><stop offset="0.047" stop-color="#2ab9ee"/><stop offset="0.082" stop-color="#2ab9ee"/><stop offset="0.106" stop-color="#28bceb"/><stop offset="0.129" stop-color="#28bceb"/><stop offset="0.153" stop-color="#27bee9"/><stop offset="0.176" stop-color="#27bee9"/><stop offset="0.200" stop-color="#25c0e7"/><stop offset="0.235" stop-color="#23c3e4"/><stop offset="0.282" stop-color="#23c3e4"/><stop offset="0.341" stop-color="#23c3e4"/><stop offset="0.412" stop-color="#20c7df"/><stop offset="0.500" stop-color="#1fc9dd"/><stop offset="0.588" stop-color="#1ccdd8"/><stop offset="0.676" stop-color="#1bd0d5"/><stop offset="0.765" stop-color="#1ad2d2"/><stop offset="0.853" stop-color="#19d5cd"/><stop offset="0.929" stop-color="#18d7ca"/><stop offset="1.000" stop-color="#18d9c8"/></linearGradient><linearGradient id="f73"><stop offset="0.000" stop-color="#2eb4f2"/><stop offset="0.047" stop-color="#2cb7f0"/><stop offset="0.082" stop-color="#2ab9ee"/><stop offset="0.106" stop-color="#28bceb"/><stop offset="0.129" stop-color="#28bceb"/><stop offset="0.153" stop-color="#27bee9"/><stop offset="0.176" stop-color="#27bee9"/><stop offset="0.200" stop-color="#27bee9"/><stop offset="0.235" stop-color="#25c0e7"/><stop offset="0.282" stop-color="#25c0e7"/><stop offset="0.341" stop-color="#23c3e4"/><stop offset="0.412" stop-color="#22c5e2"/><stop offset="0.500" stop-color="#20c7df"/><stop offset="0.588" stop-color="#1ecbda"/><stop offset="0.676" stop-color="#1ccdd8"/><stop offset="0.765" stop-color="#1ad2d2"/><stop offset="0.853" stop-color="#1ad4d0"/><stop offset="0.929" stop-color="#19d5cd"/><stop offset="1.000" stop-color="#18d7ca"/></linearGradient><linearGradient id="f74"><stop offset="0.000" stop-color="#2eb4f2"/><stop offset="0.047" stop-color="#2cb7f0"/><stop offset="0.082" stop-color="#2cb7f0"/><stop offset="0.106" stop-color="#2cb7f0"/><stop offset="0.129" stop-color="#2cb7f0"/><stop offset="0.153" stop-color="#2cb7f0"/><stop offset="0.176" stop-color="#2cb7f0"/><stop offset="0.200" stop-color="#2cb7f0"/><stop offset="0.235" stop-color="#2cb7f0"/><stop offset="0.282" stop-color="#2eb4f2"/><stop offset="0.341" stop-color="#2eb4f2"/><stop offset="0.412" stop-color="#2eb4f2"/><stop offset="0.500" stop-color="#2cb7f0"/><stop offset="0.588" stop-color="#2cb7f0"/><stop offset="0.676" stop-color="#2ab9ee"/><stop offset="0.765" stop-color="#2ab9ee"/><stop offset="0.853" stop-color="#2ab9ee"/><stop offset="0.929" stop-color="#28bceb"/><stop offset="1.000" stop-color="#28bceb"/></linearGradient><linearGradient id="f75"><stop offset="0.000" stop-color="#2eb4f2"/><stop offset="0.047" stop-color="#2eb4f2"/><stop offset="0.082" stop-color="#2eb4f2"/><stop offset="0.106" stop-color="#2eb4f2"/><stop offset="0.129" stop-color="#2fb2f4"/><stop offset="0.153" stop-color="#2fb2f4"/><stop offset="0.176" stop-color="#2fb2f4"/><stop offset="0.200" stop-color="#2fb2f4"/><stop offset="0.235" stop-color="#31aff5"/><stop offset="0.282" stop-color="#31aff5"/><stop offset="0.341" stop-color="#33adf7"/><stop offset="0.412" stop-color="#33adf7"/><stop offset="0.500" stop-color="#33adf7"/><stop offset="0.588" stop-color="#33adf7"/><stop offset="0.676" stop-color="#33adf7"/><stop offset="0.765" stop-color="#33adf7"/><stop offset="0.853" stop-color="#33adf7"/><stop offset="0.929" stop-color="#35abf8"/><stop offset="1.000" stop-color="#35abf8"/></linearGradient><linearGradient id="f76"><stop offset="0.000" stop-color="#2eb4f2"/><stop offset="0.047" stop-color="#2eb4f2"/><stop offset="0.082" stop-color="#2fb2f4"/><stop offset="0.106" stop-color="#2fb2f4"/><stop offset="0.129" stop-color="#31aff5"/><stop offset="0.153" stop-color="#31aff5"/><stop offset="0.176" stop-color="#33adf7"/><stop offset="0.200" stop-color="#33adf7"/><stop offset="0.235" stop-color="#35abf8"/><stop offset="0.282" stop-color="#35abf8"/><stop offset="0.341" stop-color="#37a8fa"/><stop offset="0.412" stop-color="#38a5fb"/><stop offset="0.500" stop-color="#3aa3fc"/><stop offset="0.588" stop-color="#3aa3fc"/><stop offset="0.676" stop-color="#3ba0fd"/><stop offset="0.765" stop-color="#3d9efe"/><stop offset="0.853" stop-color="#3d9efe"/><stop offset="0.929" stop-color="#3e9bfe"/><stop offset="1.000" stop-color="#3e9bfe"/></linearGradient><linearGradient id="f77"><stop offset="0.000" stop-color="#2eb4f2"/><stop offset="0.047" stop-color="#31aff5"/><stop offset="0.082" stop-color="#35abf8"/><stop offset="0.106" stop-color="#37a8fa"/><stop offset="0.129" stop-color="#38a5fb"/><stop offset="0.153" stop-color="#3aa3fc"/><stop offset="0.176" stop-color="#3d9efe"/><stop offset="0.200" stop-color="#3e9bfe"/><stop offset="0.235" stop-color="#4196ff"/><stop offset="0.282" stop-color="#4391fe"/><stop offset="0.341" stop-color="#458cfd"/><stop offset="0.412" stop-color="#4687fb"/><stop offset="0.500" stop-color="#4682f8"/><stop offset="0.588" stop-color="#477bf2"/><stop offset="0.676" stop-color="#4776ee"/><stop offset="0.765" stop-color="#476ee6"/><stop offset="0.853" stop-color="#4669e0"/><stop offset="0.929" stop-color="#4661d6"/><stop offset="1.000" stop-color="#455ccf"/></linearGradient><linearGradient id="f78"><stop offset="0.000" stop-color="#2eb4f2"/><stop offset="0.047" stop-color="#2eb4f2"/><stop offset="0.082" stop-color="#2cb7f0"/><stop offset="0.106" stop-color="#2cb7f0"/><stop offset="0.129" stop-color="#2cb7f0"/><stop offset="0.153" stop-color="#2cb7f0"/><stop offset="0.176" stop-color="#2eb4f2"/><stop offset="0.200" stop-color="#2eb4f2"/><stop offset="0.235" stop-color="#2eb4f2"/><stop offset="0.282" stop-color="#2eb4f2"/><stop offset="0.341" stop-color="#2eb4f2"/><stop offset="0.412" stop-color="#2eb4f2"/><stop offset="0.500" stop-color="#2eb4f2"/><stop offset="0.588" stop-color="#2eb4f2"/><stop offset="0.676" stop-color="#2eb4f2"/><stop offset="0.765" stop-color="#2eb4f2"/><stop offset="0.853" stop-color="#2eb4f2"/><stop offset="0.929" stop-color="#2eb4f2"/><stop offset="1.000" stop-color="#2eb4f2"/></linearGradient><linearGradient id="f79"><stop offset="0.000" stop-color="#2eb4f2"/><stop offset="0.047" stop-color="#2cb7f0"/><stop offset="0.082" stop-color="#2cb7f0"/><stop offset="0.106" stop-color="#2cb7f0"/><stop offset="0.129" stop-color="#2cb7f0"/><stop offset="0.153" stop-color="#2cb7f0"/><stop offset="0.176" stop-color="#2ab9ee"/><stop offset="0.200" stop-color="#2ab9ee"/><stop offset="0.235" stop-color="#2ab9ee"/><stop offset="0.282" stop-color="#2ab9ee"/><stop offset="0.341" stop-color="#2ab9ee"/><stop offset="0.412" stop-color="#2ab9ee"/><stop offset="0.500" stop-color="#2ab9ee"/><stop offset="0.588" stop-color="#28bceb"/><stop offset="0.676" stop-color="#28bceb"/><stop offset="0.765" stop-color="#27bee9"/><stop offset="0.853" stop-color="#27bee9"/><stop offset="0.929" stop-color="#25c0e7"/><stop offset="1.000" stop-color="#25c0e7"/></linearGradient><linearGradient id="f80"><stop offset="0.000" stop-color="#2eb4f2"/><stop offset="0.047" stop-color="#2eb4f2"/><stop offset="0.082" stop-color="#2eb4f2"/><stop offset="0.106" stop-color="#2eb4f2"/><stop offset="0.129" stop-color="#2fb2f4"/><stop offset="0.153" stop-color="#2fb2f4"/><stop offset="0.176" stop-color="#2fb2f4"/><stop offset="0.200" stop-color="#2fb2f4"/><stop offset="0.235" stop-color="#31aff5"/><stop offset="0.282" stop-color="#31aff5"/><stop offset="0.341" stop-color="#33adf7"/><stop offset="0.412" stop-color="#33adf7"/><stop offset="0.500" stop-color="#33adf7"/><stop offset="0.588" stop-color="#35abf8"/><stop offset="0.676" stop-color="#35abf8"/><stop offset="0.765" stop-color="#35abf8"/><stop offset="0.853" stop-color="#35abf8"/><stop offset="0.929" stop-color="#35abf8"/><stop offset="1.000" stop-color="#37a8fa"/></linearGradient><linearGradient id="f81"><stop offset="0.000" stop-color="#2eb4f2"/><stop offset="0.047" stop-color="#2eb4f2"/><stop offset="0.082" stop-color="#2eb4f2"/><stop offset="0.106" stop-color="#2eb4f2"/><stop offset="0.129" stop-color="#2fb2f4"/><stop offset="0.153" stop-color="#2fb2f4"/><stop offset="0.176" stop-color="#2fb2f4"/><stop offset="0.200" stop-color="#2fb2f4"/><stop offset="0.235" stop-color="#31aff5"/><stop offset="0.282" stop-color="#31aff5"/><stop offset="0.341" stop-color="#33adf7"/><stop offset="0.412" stop-color="#33adf7"/><stop offset="0.500" stop-color="#33adf7"/><stop offset="0.588" stop-color="#35abf8"/><stop offset="0.676" stop-color="#35abf8"/><stop offset="0.765" stop-color="#35abf8"/><stop offset="0.853" stop-color="#35abf8"/><stop offset="0.929" stop-color="#37a8fa"/><stop offset="1.000" stop-color="#37a8fa"/></linearGradient><linearGradient id="f82"><stop offset="0.000" stop-color="#2eb4f2"/><stop offset="0.047" stop-color="#2eb4f2"/><stop offset="0.082" stop-color="#2eb4f2"/><stop offset="0.106" stop-color="#2fb2f4"/><stop offset="0.129" stop-color="#2fb2f4"/><stop offset="0.153" stop-color="#2fb2f4"/><stop offset="0.176" stop-color="#2fb2f4"/><stop offset="0.200" stop-color="#31aff5"/><stop offset="0.235" stop-color="#31aff5"/><stop offset="0.282" stop-color="#31aff5"/><stop offset="0.341" stop-color="#33adf7"/><stop offset="0.412" stop-color="#33adf7"/><stop offset="0.500" stop-color="#35abf8"/><stop offset="0.588" stop-color="#35abf8"/><stop offset="0.676" stop-color="#35abf8"/><stop offset="0.765" stop-color="#35abf8"/><stop offset="0.853" stop-color="#37a8fa"/><stop offset="0.929" stop-color="#37a8fa"/><stop offset="1.000" stop-color="#37a8fa"/></linearGradient><linearGradient id="f83"><stop offset="0.000" stop-color="#2eb4f2"/><stop offset="0.047" stop-color="#2eb4f2"/><stop offset="0.082" stop-color="#2fb2f4"/><stop offset="0.106" stop-color="#2fb2f4"/><stop offset="0.129" stop-color="#2fb2f4"/><stop offset="0.153" stop-color="#2fb2f4"/><stop offset="0.176" stop-color="#31aff5"/><stop offset="0.200" stop-color="#31aff5"/><stop offset="0.235" stop-color="#33adf7"/><stop offset="0.282" stop-color="#33adf7"/><stop offset="0.341" stop-color="#35abf8"/><stop offset="0.412" stop-color="#35abf8"/><stop offset="0.500" stop-color="#37a8fa"/><stop offset="0.588" stop-color="#37a8fa"/><stop offset="0.676" stop-color="#38a5fb"/><stop offset="0.765" stop-color="#38a5fb"/><stop offset="0.853" stop-color="#38a5fb"/><stop offset="0.929" stop-color="#3aa3fc"/><stop offset="1.000" stop-color="#3aa3fc"/></linearGradient><linearGradient id="f84"><stop offset="0.000" stop-color="#2eb4f2"/><stop offset="0.047" stop-color="#2eb4f2"/><stop offset="0.082" stop-color="#2fb2f4"/><stop offset="0.106" stop-color="#2fb2f4"/><stop offset="0.129" stop-color="#31aff5"/><stop offset="0.153" stop-color="#31aff5"/><stop offset="0.176" stop-color="#33adf7"/><stop offset="0.200" stop-color="#33adf7"/><stop offset="0.235" stop-color="#35abf8"/><stop offset="0.282" stop-color="#37a8fa"/><stop offset="0.341" stop-color="#38a5fb"/><stop offset="0.412" stop-color="#3aa3fc"/><stop offset="0.500" stop-color="#3aa3fc"/><stop offset="0.588" stop-color="#3ba0fd"/><stop offset="0.676" stop-color="#3d9efe"/><stop offset="0.765" stop-color="#3d9efe"/><stop offset="0.853" stop-color="#3e9bfe"/><stop offset="0.929" stop-color="#4099ff"/><stop offset="1.000" stop-color="#4099ff"/></linearGradient><linearGradient id="f85"><stop offset="0.000" stop-color="#2eb4f2"/><stop offset="0.047" stop-color="#2eb4f2"/><stop offset="0.082" stop-color="#2fb2f4"/><stop offset="0.106" stop-color="#2fb2f4"/><stop offset="0.129" stop-color="#31aff5"/><stop offset="0.153" stop-color="#31aff5"/><stop offset="0.176" stop-color="#33adf7"/><stop offset="0.200" stop-color="#33adf7"/><stop offset="0.235" stop-color="#35abf8"/><stop offset="0.282" stop-color="#37a8fa"/><stop offset="0.341" stop-color="#38a5fb"/><stop offset="0.412" stop-color="#3aa3fc"/><stop offset="0.500" stop-color="#3aa3fc"/><stop offset="0.588" stop-color="#3ba0fd"/><stop offset="0.676" stop-color="#3d9efe"/><stop offset="0.765" stop-color="#3d9efe"/><stop offset="0.853" stop-color="#3e9bfe"/><stop offset="0.929" stop-color="#4099ff"/><stop offset="1.000" stop-color="#4099ff"/></linearGradient><linearGradient id="f86"><stop offset="0.000" stop-color="#2fb2f4"/><stop offset="0.047" stop-color="#2fb2f4"/><stop offset="0.082" stop-color="#2fb2f4"/><stop offset="0.106" stop-color="#2fb2f4"/><stop offset="0.129" stop-color="#2fb2f4"/><stop offset="0.153" stop-color="#2fb2f4"/><stop offset="0.176" stop-color="#2fb2f4"/><stop offset="0.200" stop-color="#2fb2f4"/><stop offset="0.235" stop-color="#31aff5"/><stop offset="0.282" stop-color="#31aff5"/><stop offset="0.341" stop-color="#31aff5"/><stop offset="0.412" stop-color="#31aff5"/><stop offset="0.500" stop-color="#31aff5"/><stop offset="0.588" stop-color="#31aff5"/><stop offset="0.676" stop-color="#31aff5"/><stop offset="0.765" stop-color="#33adf7"/><stop offset="0.853" stop-color="#33adf7"/><stop offset="0.929" stop-color="#33adf7"/><stop offset="1.000" stop-color="#33adf7"/></linearGradient><linearGradient id="f87"><stop offset="0.000" stop-color="#2fb2f4"/><stop offset="0.047" stop-color="#2fb2f4"/><stop offset="0.082" stop-color="#2fb2f4"/><stop offset="0.106" stop-color="#2fb2f4"/><stop offset="0.129" stop-color="#2fb2f4"/><stop offset="0.153" stop-color="#2fb2f4"/><stop offset="0.176" stop-color="#2fb2f4"/><stop offset="0.200" stop-color="#2fb2f4"/><stop offset="0.235" stop-color="#31aff5"/><stop offset="0.282" stop-color="#31aff5"/><stop offset="0.341" stop-color="#31aff5"/><stop offset="0.412" stop-color="#31aff5"/><stop offset="0.500" stop-color="#31aff5"/><stop offset="0.588" stop-color="#31aff5"/><stop offset="0.676" stop-color="#31aff5"/><stop offset="0.765" stop-color="#33adf7"/><stop offset="0.853" stop-color="#33adf7"/><stop offset="0.929" stop-color="#33adf7"/><stop offset="1.000" stop-color="#33adf7"/></linearGradient><linearGradient id="f88"><stop offset="0.000" stop-color="#2fb2f4"/><stop offset="0.047" stop-color="#2fb2f4"/><stop offset="0.082" stop-color="#2fb2f4"/><stop offset="0.106" stop-color="#2fb2f4"/><stop offset="0.129" stop-color="#2fb2f4"/><stop offset="0.153" stop-color="#2fb2f4"/><stop offset="0.176" stop-color="#2fb2f4"/><stop offset="0.200" stop-color="#2fb2f4"/><stop offset="0.235" stop-color="#31aff5"/><stop offset="0.282" stop-color="#31aff5"/><stop offset="0.341" stop-color="#31aff5"/><stop offset="0.412" stop-color="#31aff5"/><stop offset="0.500" stop-color="#31aff5"/><stop offset="0.588" stop-color="#31aff5"/><stop offset="0.676" stop-color="#31aff5"/><stop offset="0.765" stop-color="#33adf7"/><stop offset="0.853" stop-color="#33adf7"/><stop offset="0.929" stop-color="#33adf7"/><stop offset="1.000" stop-color="#33adf7"/></linearGradient><linearGradient id="f89"><stop offset="0.000" stop-color="#2fb2f4"/><stop offset="0.047" stop-color="#2fb2f4"/><stop offset="0.082" stop-color="#2fb2f4"/><stop offset="0.106" stop-color="#2fb2f4"/><stop offset="0.129" stop-color="#2fb2f4"/><stop offset="0.153" stop-color="#2fb2f4"/><stop offset="0.176" stop-color="#2fb2f4"/><stop offset="0.200" stop-color="#2fb2f4"/><stop offset="0.235" stop-color="#2fb2f4"/><stop offset="0.282" stop-color="#31aff5"/><stop offset="0.341" stop-color="#31aff5"/><stop offset="0.412" stop-color="#31aff5"/><stop offset="0.500" stop-color="#31aff5"/><stop offset="0.588" stop-color="#31aff5"/><stop offset="0.676" stop-color="#31aff5"/><stop offset="0.765" stop-color="#31aff5"/><stop offset="0.853" stop-color="#33adf7"/><stop offset="0.929" stop-color="#33adf7"/><stop offset="1.000" stop-color="#33adf7"/></linearGradient><linearGradient id="f90"><stop offset="0.000" stop-color="#2fb2f4"/><stop offset="0.047" stop-color="#2fb2f4"/><stop offset="0.082" stop-color="#2fb2f4"/><stop offset="0.106" stop-color="#2eb4f2"/><stop offset="0.129" stop-color="#2eb4f2"/><stop offset="0.153" stop-color="#2eb4f2"/><stop offset="0.176" stop-color="#2eb4f2"/><stop offset="0.200" stop-color="#2eb4f2"/><stop offset="0.235" stop-color="#2eb4f2"/><stop offset="0.282" stop-color="#2eb4f2"/><stop offset="0.341" stop-color="#2eb4f2"/><stop offset="0.412" stop-color="#2cb7f0"/><stop offset="0.500" stop-color="#2cb7f0"/><stop offset="0.588" stop-color="#2cb7f0"/><stop offset="0.676" stop-color="#2cb7f0"/><stop offset="0.765" stop-color="#2cb7f0"/><stop offset="0.853" stop-color="#2cb7f0"/><stop offset="0.929" stop-color="#2cb7f0"/><stop offset="1.000" stop-color="#2cb7f0"/></linearGradient><linearGradient id="f91"><stop offset="0.000" stop-color="#2fb2f4"/><stop offset="0.047" stop-color="#2cb7f0"/><stop offset="0.082" stop-color="#2ab9ee"/><stop offset="0.106" stop-color="#2ab9ee"/><stop offset="0.129" stop-color="#28bceb"/><stop offset="0.153" stop-color="#28bceb"/><stop offset="0.176" stop-color="#27bee9"/><stop offset="0.200" stop-color="#27bee9"/><stop offset="0.235" stop-color="#25c0e7"/><stop offset="0.282" stop-color="#25c0e7"/><stop offset="0.341" stop-color="#23c3e4"/><stop offset="0.412" stop-color="#23c3e4"/><stop offset="0.500" stop-color="#23c3e4"/><stop offset="0.588" stop-color="#23c3e4"/><stop offset="0.676" stop-color="#22c5e2"/><stop offset="0.765" stop-color="#22c5e2"/><stop offset="0.853" stop-color="#20c7df"/><stop offset="0.929" stop-color="#20c7df"/><stop offset="1.000" stop-color="#1fc9dd"/></linearGradient><linearGradient id="f92"><stop offset="0.000" stop-color="#2fb2f4"/><stop offset="0.047" stop-color="#28bceb"/><stop offset="0.082" stop-color="#25c0e7"/><stop offset="0.106" stop-color="#23c3e4"/><stop offset="0.129" stop-color="#23c3e4"/><stop offset="0.153" stop-color="#23c3e4"/><stop offset="0.176" stop-color="#23c3e4"/><stop offset="0.200" stop-color="#23c3e4"/><stop offset="0.235" stop-color="#23c3e4"/><stop offset="0.282" stop-color="#25c0e7"/><stop offset="0.341" stop-color="#25c0e7"/><stop offset="0.412" stop-color="#28bceb"/><stop offset="0.500" stop-color="#2fb2f4"/><stop offset="0.588" stop-color="#35abf8"/><stop offset="0.676" stop-color="#37a8fa"/><stop offset="0.765" stop-color="#38a5fb"/><stop offset="0.853" stop-color="#38a5fb"/><stop offset="0.929" stop-color="#3aa3fc"/><stop offset="1.000" stop-color="#3ba0fd"/></linearGradient><linearGradient id="f93"><stop offset="0.000" stop-color="#2fb2f4"/><stop offset="0.047" stop-color="#2cb7f0"/><stop offset="0.082" stop-color="#2ab9ee"/><stop offset="0.106" stop-color="#2ab9ee"/><stop offset="0.129" stop-color="#2ab9ee"/><stop offset="0.153" stop-color="#2ab9ee"/><stop offset="0.176" stop-color="#2cb7f0"/><stop offset="0.200" stop-color="#2cb7f0"/><stop offset="0.235" stop-color="#2cb7f0"/><stop offset="0.282" stop-color="#2eb4f2"/><stop offset="0.341" stop-color="#2fb2f4"/><stop offset="0.412" stop-color="#33adf7"/><stop offset="0.500" stop-color="#3aa3fc"/><stop offset="0.588" stop-color="#3e9bfe"/><stop offset="0.676" stop-color="#4196ff"/><stop offset="0.765" stop-color="#4391fe"/><stop offset="0.853" stop-color="#448ffe"/><stop offset="0.929" stop-color="#458afc"/><stop offset="1.000" stop-color="#4687fb"/></linearGradient><linearGradient id="f94"><stop offset="0.000" stop-color="#2fb2f4"/><stop offset="0.047" stop-color="#2eb4f2"/><stop offset="0.082" stop-color="#2eb4f2"/><stop offset="0.106" stop-color="#2cb7f0"/><stop offset="0.129" stop-color="#2cb7f0"/><stop offset="0.153" stop-color="#2cb7f0"/><stop offset="0.176" stop-color="#2cb7f0"/><stop offset="0.200" stop-color="#2ab9ee"/><stop offset="0.235" stop-color="#2ab9ee"/><stop offset="0.282" stop-color="#2ab9ee"/><stop offset="0.341" stop-color="#2ab9ee"/><stop offset="0.412" stop-color="#2ab9ee"/><stop offset="0.500" stop-color="#2ab9ee"/><stop offset="0.588" stop-color="#2cb7f0"/><stop offset="0.676" stop-color="#2cb7f0"/><stop offset="0.765" stop-color="#2cb7f0"/><stop offset="0.853" stop-color="#2cb7f0"/><stop offset="0.929" stop-color="#2cb7f0"/><stop offset="1.000" stop-color="#2cb7f0"/></linearGradient><linearGradient id="f95"><stop offset="0.000" stop-color="#2fb2f4"/><stop offset="0.047" stop-color="#2eb4f2"/><stop offset="0.082" stop-color="#2ab9ee"/><stop offset="0.106" stop-color="#2ab9ee"/><stop offset="0.129" stop-color="#28bceb"/><stop offset="0.153" stop-color="#28bceb"/><stop offset="0.176" stop-color="#28bceb"/><stop offset="0.200" stop-color="#28bceb"/><stop offset="0.235" stop-color="#27bee9"/><stop offset="0.282" stop-color="#27bee9"/><stop offset="0.341" stop-color="#27bee9"/><stop offset="0.412" stop-color="#27bee9"/><stop offset="0.500" stop-color="#28bceb"/><stop offset="0.588" stop-color="#2ab9ee"/><stop offset="0.676" stop-color="#2ab9ee"/><stop offset="0.765" stop-color="#28bceb"/><stop offset="0.853" stop-color="#28bceb"/><stop offset="0.929" stop-color="#28bceb"/><stop offset="1.000" stop-color="#28bceb"/></linearGradient><linearGradient id="f96"><stop offset="0.000" stop-color="#2fb2f4"/><stop offset="0.047" stop-color="#28bceb"/><stop offset="0.082" stop-color="#22c5e2"/><stop offset="0.106" stop-color="#1fc9dd"/><stop offset="0.129" stop-color="#1ecbda"/><stop offset="0.153" stop-color="#1fc9dd"/><stop offset="0.176" stop-color="#20c7df"/><stop offset="0.200" stop-color="#20c7df"/><stop offset="0.235" stop-color="#22c5e2"/><stop offset="0.282" stop-color="#23c3e4"/><stop offset="0.341" stop-color="#25c0e7"/><stop offset="0.412" stop-color="#27bee9"/><stop offset="0.500" stop-color="#35abf8"/><stop offset="0.588" stop-color="#4196ff"/><stop offset="0.676" stop-color="#4196ff"/><stop offset="0.765" stop-color="#4294ff"/><stop offset="0.853" stop-color="#448ffe"/><stop offset="0.929" stop-color="#458cfd"/><stop offset="1.000" stop-color="#458afc"/></linearGradient><linearGradient id="f97"><stop offset="0.000" stop-color="#2fb2f4"/><stop offset="0.047" stop-color="#31aff5"/><stop offset="0.082" stop-color="#33adf7"/><stop offset="0.106" stop-color="#33adf7"/><stop offset="0.129" stop-color="#35abf8"/><stop offset="0.153" stop-color="#37a8fa"/><stop offset="0.176" stop-color="#3aa3fc"/><stop offset="0.200" stop-color="#3ba0fd"/><stop offset="0.235" stop-color="#3d9efe"/><stop offset="0.282" stop-color="#3e9bfe"/><stop offset="0.341" stop-color="#4196ff"/><stop offset="0.412" stop-color="#4294ff"/><stop offset="0.500" stop-color="#458afc"/><stop offset="0.588" stop-color="#458afc"/><stop offset="0.676" stop-color="#458afc"/><stop offset="0.765" stop-color="#4687fb"/><stop offset="0.853" stop-color="#4682f8"/><stop offset="0.929" stop-color="#4680f6"/><stop offset="1.000" stop-color="#477bf2"/></linearGradient><linearGradient id="f98"><stop offset="0.000" stop-color="#2fb2f4"/><stop offset="0.047" stop-color="#35abf8"/><stop offset="0.082" stop-color="#38a5fb"/><stop offset="0.106" stop-color="#3ba0fd"/><stop offset="0.129" stop-color="#3d9efe"/><stop offset="0.153" stop-color="#4099ff"/><stop offset="0.176" stop-color="#4196ff"/><stop offset="0.200" stop-color="#4391fe"/><stop offset="0.235" stop-color="#4391fe"/><stop offset="0.282" stop-color="#448ffe"/><stop offset="0.341" stop-color="#448ffe"/><stop offset="0.412" stop-color="#458cfd"/><stop offset="0.500" stop-color="#4391fe"/><stop offset="0.588" stop-color="#3ba0fd"/><stop offset="0.676" stop-color="#35abf8"/><stop offset="0.765" stop-color="#33adf7"/><stop offset="0.853" stop-color="#31aff5"/><stop offset="0.929" stop-color="#31aff5"/><stop offset="1.000" stop-color="#2fb2f4"/></linearGradient><linearGradient id="f99"><stop offset="0.000" stop-color="#2fb2f4"/><stop offset="0.047" stop-color="#35abf8"/><stop offset="0.082" stop-color="#3aa3fc"/><stop offset="0.106" stop-color="#3d9efe"/><stop offset="0.129" stop-color="#3e9bfe"/><stop offset="0.153" stop-color="#4196ff"/><stop offset="0.176" stop-color="#4391fe"/><stop offset="0.200" stop-color="#448ffe"/><stop offset="0.235" stop-color="#458cfd"/><stop offset="0.282" stop-color="#458cfd"/><stop offset="0.341" stop-color="#458afc"/><stop offset="0.412" stop-color="#458afc"/><stop offset="0.500" stop-color="#458cfd"/><stop offset="0.588" stop-color="#3ba0fd"/><stop offset="0.676" stop-color="#33adf7"/><stop offset="0.765" stop-color="#33adf7"/><stop offset="0.853" stop-color="#31aff5"/><stop offset="0.929" stop-color="#2fb2f4"/><stop offset="1.000" stop-color="#2fb2f4"/></linearGradient><linearGradient id="f100"><stop offset="0.000" stop-color="#2fb2f4"/><stop offset="0.047" stop-color="#37a8fa"/><stop offset="0.082" stop-color="#3aa3fc"/><stop offset="0.106" stop-color="#3d9efe"/><stop offset="0.129" stop-color="#4099ff"/><stop offset="0.153" stop-color="#4294ff"/><stop offset="0.176" stop-color="#448ffe"/><stop offset="0.200" stop-color="#458afc"/><stop offset="0.235" stop-color="#4687fb"/><stop offset="0.282" stop-color="#4685fa"/><stop offset="0.341" stop-color="#4682f8"/><stop offset="0.412" stop-color="#467df4"/><stop offset="0.500" stop-color="#4680f6"/><stop offset="0.588" stop-color="#458afc"/><stop offset="0.676" stop-color="#448ffe"/><stop offset="0.765" stop-color="#458afc"/><stop offset="0.853" stop-color="#4687fb"/><stop offset="0.929" stop-color="#4682f8"/><stop offset="1.000" stop-color="#4680f6"/></linearGradient><linearGradient id="f101"><stop offset="0.000" stop-color="#2fb2f4"/><stop offset="0.047" stop-color="#35abf8"/><stop offset="0.082" stop-color="#37a8fa"/><stop offset="0.106" stop-color="#3aa3fc"/><stop offset="0.129" stop-color="#3ba0fd"/><stop offset="0.153" stop-color="#3d9efe"/><stop offset="0.176" stop-color="#4099ff"/><stop offset="0.200" stop-color="#4196ff"/><stop offset="0.235" stop-color="#4294ff"/><stop offset="0.282" stop-color="#4391fe"/><stop offset="0.341" stop-color="#448ffe"/><stop offset="0.412" stop-color="#458cfd"/><stop offset="0.500" stop-color="#458afc"/><stop offset="0.588" stop-color="#448ffe"/><stop offset="0.676" stop-color="#4391fe"/><stop offset="0.765" stop-color="#458cfd"/><stop offset="0.853" stop-color="#4687fb"/><stop offset="0.929" stop-color="#4685fa"/><stop offset="1.000" stop-color="#4682f8"/></linearGradient><linearGradient id="f102"><stop offset="0.000" stop-color="#2fb2f4"/><stop offset="0.047" stop-color="#2fb2f4"/><stop offset="0.082" stop-color="#2fb2f4"/><stop offset="0.106" stop-color="#2fb2f4"/><stop offset="0.129" stop-color="#31aff5"/><stop offset="0.153" stop-color="#31aff5"/><stop offset="0.176" stop-color="#31aff5"/><stop offset="0.200" stop-color="#31aff5"/><stop offset="0.235" stop-color="#2fb2f4"/><stop offset="0.282" stop-color="#2fb2f4"/><stop offset="0.341" stop-color="#2fb2f4"/><stop offset="0.412" stop-color="#2fb2f4"/><stop offset="0.500" stop-color="#2eb4f2"/><stop offset="0.588" stop-color="#2cb7f0"/><stop offset="0.676" stop-color="#2ab9ee"/><stop offset="0.765" stop-color="#28bceb"/><stop offset="0.853" stop-color="#28bceb"/><stop offset="0.929" stop-color="#28bceb"/><stop offset="1.000" stop-color="#28bceb"/></linearGradient><linearGradient id="f103"><stop offset="0.000" stop-color="#2fb2f4"/><stop offset="0.047" stop-color="#2eb4f2"/><stop offset="0.082" stop-color="#2cb7f0"/><stop offset="0.106" stop-color="#2ab9ee"/><stop offset="0.129" stop-color="#28bceb"/><stop offset="0.153" stop-color="#28bceb"/><stop offset="0.176" stop-color="#27bee9"/><stop offset="0.200" stop-color="#27bee9"/><stop offset="0.235" stop-color="#23c3e4"/><stop offset="0.282" stop-color="#22c5e2"/><stop offset="0.341" stop-color="#20c7df"/><stop offset="0.412" stop-color="#1fc9dd"/><stop offset="0.500" stop-color="#1ccdd8"/><stop offset="0.588" stop-color="#1ad2d2"/><stop offset="0.676" stop-color="#1ad4d0"/><stop offset="0.765" stop-color="#18d7ca"/><stop offset="0.853" stop-color="#18d9c8"/><stop offset="0.929" stop-color="#18dbc5"/><stop offset="1.000" stop-color="#18ddc2"/></linearGradient><linearGradient id="f104"><stop offset="0.000" stop-color="#2fb2f4"/><stop offset="0.047" stop-color="#2eb4f2"/><stop offset="0.082" stop-color="#2cb7f0"/><stop offset="0.106" stop-color="#2ab9ee"/><stop offset="0.129" stop-color="#2ab9ee"/><stop offset="0.153" stop-color="#28bceb"/><stop offset="0.176" stop-color="#27bee9"/><stop offset="0.200" stop-color="#27bee9"/><stop offset="0.235" stop-color="#25c0e7"/><stop offset="0.282" stop-color="#22c5e2"/><stop offset="0.341" stop-color="#1fc9dd"/><stop offset="0.412" stop-color="#1bd0d5"/><stop offset="0.500" stop-color="#1ad4d0"/><stop offset="0.588" stop-color="#18d7ca"/><stop offset="0.676" stop-color="#18dbc5"/><stop offset="0.765" stop-color="#19e2bb"/><stop offset="0.853" stop-color="#19e3b9"/><stop offset="0.929" stop-color="#1ae4b6"/><stop offset="1.000" stop-color="#1ce6b4"/></linearGradient><linearGradient id="f105"><stop offset="0.000" stop-color="#2fb2f4"/><stop offset="0.047" stop-color="#2eb4f2"/><stop offset="0.082" stop-color="#2cb7f0"/><stop offset="0.106" stop-color="#2ab9ee"/><stop offset="0.129" stop-color="#2ab9ee"/><stop offset="0.153" stop-color="#28bceb"/><stop offset="0.176" stop-color="#27bee9"/><stop offset="0.200" stop-color="#27bee9"/><stop offset="0.235" stop-color="#25c0e7"/><stop offset="0.282" stop-color="#1fc9dd"/><stop offset="0.341" stop-color="#1ad2d2"/><stop offset="0.412" stop-color="#18d9c8"/><stop offset="0.500" stop-color="#19e3b9"/><stop offset="0.588" stop-color="#1de7b2"/><stop offset="0.676" stop-color="#22ebaa"/><stop offset="0.765" stop-color="#35f394"/><stop offset="0.853" stop-color="#38f491"/><stop offset="0.929" stop-color="#3ff68a"/><stop offset="1.000" stop-color="#43f787"/></linearGradient><linearGradient id="f106"><stop offset="0.000" stop-color="#2fb2f4"/><stop offset="0.047" stop-color="#2cb7f0"/><stop offset="0.082" stop-color="#2ab9ee"/><stop offset="0.106" stop-color="#28bceb"/><stop offset="0.129" stop-color="#27bee9"/><stop offset="0.153" stop-color="#25c0e7"/><stop offset="0.176" stop-color="#23c3e4"/><stop offset="0.200" stop-color="#23c3e4"/><stop offset="0.235" stop-color="#20c7df"/><stop offset="0.282" stop-color="#1ad2d2"/><stop offset="0.341" stop-color="#18dec0"/><stop offset="0.412" stop-color="#1fe9af"/><stop offset="0.500" stop-color="#32f298"/><stop offset="0.588" stop-color="#43f787"/><stop offset="0.676" stop-color="#59fb73"/><stop offset="0.765" stop-color="#80ff53"/><stop offset="0.853" stop-color="#88ff4e"/><stop offset="0.929" stop-color="#8fff49"/><stop offset="1.000" stop-color="#96fe44"/></linearGradient><linearGradient id="f107"><stop offset="0.000" stop-color="#2fb2f4"/><stop offset="0.047" stop-color="#2cb7f0"/><stop offset="0.082" stop-color="#2ab9ee"/><stop offset="0.106" stop-color="#28bceb"/><stop offset="0.129" stop-color="#27bee9"/><stop offset="0.153" stop-color="#25c0e7"/><stop offset="0.176" stop-color="#23c3e4"/><stop offset="0.200" stop-color="#22c5e2"/><stop offset="0.235" stop-color="#20c7df"/><stop offset="0.282" stop-color="#1ad4d0"/><stop offset="0.341" stop-color="#19e2bb"/><stop offset="0.412" stop-color="#22ebaa"/><stop offset="0.500" stop-color="#3cf58e"/><stop offset="0.588" stop-color="#4ef97d"/><stop offset="0.676" stop-color="#65fd69"/><stop offset="0.765" stop-color="#8fff49"/><stop offset="0.853" stop-color="#99fe42"/><stop offset="0.929" stop-color="#9ffd3f"/><stop offset="1.000" stop-color="#a4fc3c"/></linearGradient><linearGradient id="f108"><stop offset="0.000" stop-color="#2fb2f4"/><stop offset="0.047" stop-color="#2eb4f2"/><stop offset="0.082" stop-color="#2cb7f0"/><stop offset="0.106" stop-color="#2ab9ee"/><stop offset="0.129" stop-color="#28bceb"/><stop offset="0.153" stop-color="#28bceb"/><stop offset="0.176" stop-color="#27bee9"/><stop offset="0.200" stop-color="#25c0e7"/><stop offset="0.235" stop-color="#23c3e4"/><stop offset="0.282" stop-color="#1ecbda"/><stop offset="0.341" stop-color="#18d7ca"/><stop offset="0.412" stop-color="#18e0bd"/><stop offset="0.500" stop-color="#1fe9af"/><stop offset="0.588" stop-color="#27eea4"/><stop offset="0.676" stop-color="#32f298"/><stop offset="0.765" stop-color="#4ef97d"/><stop offset="0.853" stop-color="#55fa76"/><stop offset="0.929" stop-color="#5dfc6f"/><stop offset="1.000" stop-color="#61fc6c"/></linearGradient><linearGradient id="f109"><stop offset="0.000" stop-color="#27bee9"/><stop offset="0.047" stop-color="#25c0e7"/><stop offset="0.082" stop-color="#23c3e4"/><stop offset="0.106" stop-color="#22c5e2"/><stop offset="0.129" stop-color="#20c7df"/><stop offset="0.153" stop-color="#20c7df"/><stop offset="0.176" stop-color="#1fc9dd"/><stop offset="0.200" stop-color="#1ecbda"/><stop offset="0.235" stop-color="#1ccdd8"/><stop offset="0.282" stop-color="#19d5cd"/><stop offset="0.341" stop-color="#18ddc2"/><stop offset="0.412" stop-color="#19e2bb"/><stop offset="0.500" stop-color="#1ce6b4"/><stop offset="0.588" stop-color="#1fe9af"/><stop offset="0.676" stop-color="#22ebaa"/><stop offset="0.765" stop-color="#2cf09e"/><stop offset="0.853" stop-color="#2ff19b"/><stop offset="0.929" stop-color="#32f298"/><stop offset="1.000" stop-color="#32f298"/></linearGradient><linearGradient id="f110"><stop offset="0.000" stop-color="#27bee9"/><stop offset="0.047" stop-color="#25c0e7"/><stop offset="0.082" stop-color="#25c0e7"/><stop offset="0.106" stop-color="#23c3e4"/><stop offset="0.129" stop-color="#23c3e4"/><stop offset="0.153" stop-color="#22c5e2"/><stop offset="0.176" stop-color="#22c5e2"/><stop offset="0.200" stop-color="#20c7df"/><stop offset="0.235" stop-color="#1fc9dd"/><stop offset="0.282" stop-color="#1ccdd8"/><stop offset="0.341" stop-color="#1ad4d0"/><stop offset="0.412" stop-color="#19d5cd"/><stop offset="0.500" stop-color="#18d7ca"/><stop offset="0.588" stop-color="#18d7ca"/><stop offset="0.676" stop-color="#18d9c8"/><stop offset="0.765" stop-color="#18dbc5"/><stop offset="0.853" stop-color="#18dbc5"/><stop offset="0.929" stop-color="#18dbc5"/><stop offset="1.000" stop-color="#18dbc5"/></linearGradient><linearGradient id="f111"><stop offset="0.000" stop-color="#27bee9"/><stop offset="0.047" stop-color="#25c0e7"/><stop offset="0.082" stop-color="#25c0e7"/><stop offset="0.106" stop-color="#25c0e7"/><stop offset="0.129" stop-color="#23c3e4"/><stop offset="0.153" stop-color="#23c3e4"/><stop offset="0.176" stop-color="#23c3e4"/><stop offset="0.200" stop-color="#22c5e2"/><stop offset="0.235" stop-color="#20c7df"/><stop offset="0.282" stop-color="#1ecbda"/><stop offset="0.341" stop-color="#1ccdd8"/><stop offset="0.412" stop-color="#1bd0d5"/><stop offset="0.500" stop-color="#1bd0d5"/><stop offset="0.588" stop-color="#1bd0d5"/><stop offset="0.676" stop-color="#1bd0d5"/><stop offset="0.765" stop-color="#1bd0d5"/><stop offset="0.853" stop-color="#1bd0d5"/><stop offset="0.929" stop-color="#1bd0d5"/><stop offset="1.000" stop-color="#1bd0d5"/></linearGradient><linearGradient id="f112"><stop offset="0.000" stop-color="#27bee9"/><stop offset="0.047" stop-color="#25c0e7"/><stop offset="0.082" stop-color="#25c0e7"/><stop offset="0.106" stop-color="#25c0e7"/><stop offset="0.129" stop-color="#23c3e4"/><stop offset="0.153" stop-color="#23c3e4"/><stop offset="0.176" stop-color="#23c3e4"/><stop offset="0.200" stop-color="#22c5e2"/><stop offset="0.235" stop-color="#20c7df"/><stop offset="0.282" stop-color="#1fc9dd"/><stop offset="0.341" stop-color="#1ccdd8"/><stop offset="0.412" stop-color="#1ccdd8"/><stop offset="0.500" stop-color="#1ccdd8"/><stop offset="0.588" stop-color="#1ccdd8"/><stop offset="0.676" stop-color="#1ccdd8"/><stop offset="0.765" stop-color="#1ecbda"/><stop offset="0.853" stop-color="#1ecbda"/><stop offset="0.929" stop-color="#1ecbda"/><stop offset="1.000" stop-color="#1ecbda"/></linearGradient><linearGradient id="f113"><stop offset="0.000" stop-color="#27bee9"/><stop offset="0.047" stop-color="#25c0e7"/><stop offset="0.082" stop-color="#25c0e7"/><stop offset="0.106" stop-color="#25c0e7"/><stop offset="0.129" stop-color="#23c3e4"/><stop offset="0.153" stop-color="#23c3e4"/><stop offset="0.176" stop-color="#23c3e4"/><stop offset="0.200" stop-color="#22c5e2"/><stop offset="0.235" stop-color="#20c7df"/><stop offset="0.282" stop-color="#1fc9dd"/><stop offset="0.341" stop-color="#1ccdd8"/><stop offset="0.412" stop-color="#1ccdd8"/><stop offset="0.500" stop-color="#1ccdd8"/><stop offset="0.588" stop-color="#1ccdd8"/><stop offset="0.676" stop-color="#1ecbda"/><stop offset="0.765" stop-color="#1ecbda"/><stop offset="0.853" stop-color="#1ecbda"/><stop offset="0.929" stop-color="#1ecbda"/><stop offset="1.000" stop-color="#1ecbda"/></linearGradient><linearGradient id="f114"><stop offset="0.000" stop-color="#27bee9"/><stop offset="0.047" stop-color="#25c0e7"/><stop offset="0.082" stop-color="#25c0e7"/><stop offset="0.106" stop-color="#25c0e7"/><stop offset="0.129" stop-color="#23c3e4"/><stop offset="0.153" stop-color="#23c3e4"/><stop offset="0.176" stop-color="#23c3e4"/><stop offset="0.200" stop-color="#22c5e2"/><stop offset="0.235" stop-color="#20c7df"/><stop offset="0.282" stop-color="#1fc9dd"/><stop offset="0.341" stop-color="#1ccdd8"/><stop offset="0.412" stop-color="#1ccdd8"/><stop offset="0.500" stop-color="#1ccdd8"/><stop offset="0.588" stop-color="#1ccdd8"/><stop offset="0.676" stop-color="#1ecbda"/><stop offset="0.765" stop-color="#1ecbda"/><stop offset="0.853" stop-color="#1ecbda"/><stop offset="0.929" stop-color="#1ecbda"/><stop offset="1.000" stop-color="#1ecbda"/></linearGradient><linearGradient id="f115"><stop offset="0.000" stop-color="#27bee9"/><stop offset="0.047" stop-color="#25c0e7"/><stop offset="0.082" stop-color="#25c0e7"/><stop offset="0.106" stop-color="#25c0e7"/><stop offset="0.129" stop-color="#23c3e4"/><stop offset="0.153" stop-color="#23c3e4"/><stop offset="0.176" stop-color="#23c3e4"/><stop offset="0.200" stop-color="#22c5e2"/><stop offset="0.235" stop-color="#20c7df"/><stop offset="0.282" stop-color="#1fc9dd"/><stop offset="0.341" stop-color="#1ccdd8"/><stop offset="0.412" stop-color="#1ccdd8"/><stop offset="0.500" stop-color="#1ccdd8"/><stop offset="0.588" stop-color="#1ccdd8"/><stop offset="0.676" stop-color="#1ecbda"/><stop offset="0.765" stop-color="#1ecbda"/><stop offset="0.853" stop-color="#1ecbda"/><stop offset="0.929" stop-color="#1ecbda"/><stop offset="1.000" stop-color="#1ecbda"/></linearGradient><linearGradient id="f116"><stop offset="0.000" stop-color="#27bee9"/><stop offset="0.047" stop-color="#25c0e7"/><stop offset="0.082" stop-color="#25c0e7"/><stop offset="0.106" stop-color="#25c0e7"/><stop offset="0.129" stop-color="#23c3e4"/><stop offset="0.153" stop-color="#23c3e4"/><stop offset="0.176" stop-color="#23c3e4"/><stop offset="0.200" stop-color="#22c5e2"/><stop offset="0.235" stop-color="#20c7df"/><stop offset="0.282" stop-color="#1fc9dd"/><stop offset="0.341" stop-color="#1ccdd8"/><stop offset="0.412" stop-color="#1ccdd8"/><stop offset="0.500" stop-color="#1ccdd8"/><stop offset="0.588" stop-color="#1ccdd8"/><stop offset="0.676" stop-color="#1ecbda"/><stop offset="0.765" stop-color="#1ecbda"/><stop offset="0.853" stop-color="#1ecbda"/><stop offset="0.929" stop-color="#1ecbda"/><stop offset="1.000" stop-color="#1ecbda"/></linearGradient><linearGradient id="f117"><stop offset="0.000" stop-color="#27bee9"/><stop offset="0.047" stop-color="#25c0e7"/><stop offset="0.082" stop-color="#25c0e7"/><stop offset="0.106" stop-color="#25c0e7"/><stop offset="0.129" stop-color="#23c3e4"/><stop offset="0.153" stop-color="#23c3e4"/><stop offset="0.176" stop-color="#23c3e4"/><stop offset="0.200" stop-color="#22c5e2"/><stop offset="0.235" stop-color="#20c7df"/><stop offset="0.282" stop-color="#1fc9dd"/><stop offset="0.341" stop-color="#1ccdd8"/><stop offset="0.412" stop-color="#1ccdd8"/><stop offset="0.500" stop-color="#1ccdd8"/><stop offset="0.588" stop-color="#1ccdd8"/><stop offset="0.676" stop-color="#1ecbda"/><stop offset="0.765" stop-color="#1ecbda"/><stop offset="0.853" stop-color="#1ecbda"/><stop offset="0.929" stop-color="#1ecbda"/><stop offset="1.000" stop-color="#1ecbda"/></linearGradient><linearGradient id="f118"><stop offset="0.000" stop-color="#27bee9"/><stop offset="0.047" stop-color="#27bee9"/><stop offset="0.082" stop-color="#27bee9"/><stop offset="0.106" stop-color="#27bee9"/><stop offset="0.129" stop-color="#27bee9"/><stop offset="0.153" stop-color="#27bee9"/><stop offset="0.176" stop-color="#27bee9"/><stop offset="0.200" stop-color="#27bee9"/><stop offset="0.235" stop-color="#27bee9"/><stop offset="0.282" stop-color="#33adf7"/><stop offset="0.341" stop-color="#35abf8"/><stop offset="0.412" stop-color="#35abf8"/><stop offset="0.500" stop-color="#2eb4f2"/><stop offset="0.588" stop-color="#1ccdd8"/><stop offset="0.676" stop-color="#1ecbda"/><stop offset="0.765" stop-color="#1ecbda"/><stop offset="0.853" stop-color="#1ecbda"/><stop offset="0.929" stop-color="#1ecbda"/><stop offset="1.000" stop-color="#1ecbda"/></linearGradient><linearGradient id="f119"><stop offset="0.000" stop-color="#27bee9"/><stop offset="0.047" stop-color="#27bee9"/><stop offset="0.082" stop-color="#27bee9"/><stop offset="0.106" stop-color="#27bee9"/><stop offset="0.129" stop-color="#27bee9"/><stop offset="0.153" stop-color="#27bee9"/><stop offset="0.176" stop-color="#27bee9"/><stop offset="0.200" stop-color="#27bee9"/><stop offset="0.235" stop-color="#27bee9"/><stop offset="0.282" stop-color="#33adf7"/><stop offset="0.341" stop-color="#35abf8"/><stop offset="0.412" stop-color="#35abf8"/><stop offset="0.500" stop-color="#2eb4f2"/><stop offset="0.588" stop-color="#1ccdd8"/><stop offset="0.676" stop-color="#1ecbda"/><stop offset="0.765" stop-color="#1ecbda"/><stop offset="0.853" stop-color="#1ecbda"/><stop offset="0.929" stop-color="#1ecbda"/><stop offset="1.000" stop-color="#1ecbda"/></linearGradient><linearGradient id="f120"><stop offset="0.000" stop-color="#27bee9"/><stop offset="0.047" stop-color="#27bee9"/><stop offset="0.082" stop-color="#27bee9"/><stop offset="0.106" stop-color="#27bee9"/><stop offset="0.129" stop-color="#27bee9"/><stop offset="0.153" stop-color="#27bee9"/><stop offset="0.176" stop-color="#27bee9"/><stop offset="0.200" stop-color="#27bee9"/><stop offset="0.235" stop-color="#27bee9"/><stop offset="0.282" stop-color="#33adf7"/><stop offset="0.341" stop-color="#35abf8"/><stop offset="0.412" stop-color="#35abf8"/><stop offset="0.500" stop-color="#2eb4f2"/><stop offset="0.588" stop-color="#1ccdd8"/><stop offset="0.676" stop-color="#1ecbda"/><stop offset="0.765" stop-color="#1ecbda"/><stop offset="0.853" stop-color="#1ecbda"/><stop offset="0.929" stop-color="#1ecbda"/><stop offset="1.000" stop-color="#1ecbda"/></linearGradient><linearGradient id="f121"><stop offset="0.000" stop-color="#27bee9"/><stop offset="0.047" stop-color="#27bee9"/><stop offset="0.082" stop-color="#27bee9"/><stop offset="0.106" stop-color="#27bee9"/><stop offset="0.129" stop-color="#27bee9"/><stop offset="0.153" stop-color="#27bee9"/><stop offset="0.176" stop-color="#27bee9"/><stop offset="0.200" stop-color="#27bee9"/><stop offset="0.235" stop-color="#27bee9"/><stop offset="0.282" stop-color="#33adf7"/><stop offset="0.341" stop-color="#35abf8"/><stop offset="0.412" stop-color="#35abf8"/><stop offset="0.500" stop-color="#2eb4f2"/><stop offset="0.588" stop-color="#1ccdd8"/><stop offset="0.676" stop-color="#1ecbda"/><stop offset="0.765" stop-color="#1ecbda"/><stop offset="0.853" stop-color="#1ecbda"/><stop offset="0.929" stop-color="#1ecbda"/><stop offset="1.000" stop-color="#1ecbda"/></linearGradient></defs>
<rect x="486.5" y="201" width="170.0" height="1.02" fill="url(#f0)"/><rect x="486.5" y="202" width="170.0" height="1.02" fill="url(#f1)"/><rect x="486.5" y="203" width="170.0" height="1.02" fill="url(#f2)"/><rect x="486.5" y="204" width="170.0" height="1.02" fill="url(#f3)"/><rect x="486.5" y="205" width="170.0" height="1.02" fill="url(#f4)"/><rect x="486.5" y="206" width="170.0" height="1.02" fill="url(#f5)"/><rect x="486.5" y="207" width="170.0" height="1.02" fill="url(#f6)"/><rect x="486.5" y="208" width="170.0" height="1.02" fill="url(#f7)"/><rect x="486.5" y="209" width="170.0" height="1.02" fill="url(#f8)"/><rect x="486.5" y="210" width="170.0" height="1.02" fill="url(#f9)"/><rect x="486.5" y="211" width="170.0" height="1.02" fill="url(#f10)"/><rect x="486.5" y="212" width="170.0" height="1.02" fill="url(#f11)"/><rect x="486.5" y="213" width="170.0" height="1.02" fill="url(#f12)"/><rect x="486.5" y="214" width="170.0" height="1.02" fill="url(#f13)"/><rect x="486.5" y="215" width="170.0" height="1.02" fill="url(#f14)"/><rect x="486.5" y="216" width="170.0" height="1.02" fill="url(#f15)"/><rect x="486.5" y="217" width="170.0" height="1.02" fill="url(#f16)"/><rect x="486.5" y="218" width="170.0" height="1.02" fill="url(#f17)"/><rect x="486.5" y="219" width="170.0" height="1.02" fill="url(#f18)"/><rect x="486.5" y="220" width="170.0" height="1.02" fill="url(#f19)"/><rect x="486.5" y="221" width="170.0" height="1.02" fill="url(#f20)"/><rect x="486.5" y="222" width="170.0" height="1.02" fill="url(#f21)"/><rect x="486.5" y="223" width="170.0" height="1.02" fill="url(#f22)"/><rect x="486.5" y="224" width="170.0" height="1.02" fill="url(#f23)"/><rect x="486.5" y="225" width="170.0" height="1.02" fill="url(#f24)"/><rect x="486.5" y="226" width="170.0" height="1.02" fill="url(#f25)"/><rect x="486.5" y="227" width="170.0" height="1.02" fill="url(#f26)"/><rect x="486.5" y="228" width="170.0" height="1.02" fill="url(#f27)"/><rect x="486.5" y="229" width="170.0" height="1.02" fill="url(#f28)"/><rect x="486.5" y="230" width="170.0" height="1.02" fill="url(#f29)"/><rect x="486.5" y="231" width="170.0" height="1.02" fill="url(#f30)"/><rect x="486.5" y="232" width="170.0" height="1.02" fill="url(#f31)"/><rect x="486.5" y="233" width="170.0" height="1.02" fill="url(#f32)"/><rect x="486.5" y="234" width="170.0" height="1.02" fill="url(#f33)"/><rect x="486.5" y="235" width="170.0" height="1.02" fill="url(#f34)"/><rect x="486.5" y="236" width="170.0" height="1.02" fill="url(#f35)"/><rect x="486.5" y="237" width="170.0" height="1.02" fill="url(#f36)"/><rect x="486.5" y="238" width="170.0" height="1.02" fill="url(#f37)"/><rect x="486.5" y="239" width="170.0" height="1.02" fill="url(#f38)"/><rect x="486.5" y="240" width="170.0" height="1.02" fill="url(#f39)"/><rect x="486.5" y="241" width="170.0" height="1.02" fill="url(#f40)"/><rect x="486.5" y="242" width="170.0" height="1.02" fill="url(#f41)"/><rect x="486.5" y="243" width="170.0" height="1.02" fill="url(#f42)"/><rect x="486.5" y="244" width="170.0" height="1.02" fill="url(#f43)"/><rect x="486.5" y="245" width="170.0" height="1.02" fill="url(#f44)"/><rect x="486.5" y="246" width="170.0" height="1.02" fill="url(#f45)"/><rect x="486.5" y="247" width="170.0" height="1.02" fill="url(#f46)"/><rect x="486.5" y="248" width="170.0" height="1.02" fill="url(#f47)"/><rect x="486.5" y="249" width="170.0" height="1.02" fill="url(#f48)"/><rect x="486.5" y="250" width="170.0" height="1.02" fill="url(#f49)"/><rect x="486.5" y="251" width="170.0" height="1.02" fill="url(#f50)"/><rect x="486.5" y="252" width="170.0" height="1.02" fill="url(#f51)"/><rect x="486.5" y="253" width="170.0" height="1.02" fill="url(#f52)"/><rect x="486.5" y="254" width="170.0" height="1.02" fill="url(#f53)"/><rect x="486.5" y="255" width="170.0" height="1.02" fill="url(#f54)"/><rect x="486.5" y="256" width="170.0" height="1.02" fill="url(#f55)"/><rect x="486.5" y="257" width="170.0" height="1.02" fill="url(#f56)"/><rect x="486.5" y="258" width="170.0" height="1.02" fill="url(#f57)"/><rect x="486.5" y="259" width="170.0" height="1.02" fill="url(#f58)"/><rect x="486.5" y="260" width="170.0" height="1.02" fill="url(#f59)"/><rect x="486.5" y="261" width="170.0" height="1.02" fill="url(#f60)"/><rect x="486.5" y="262" width="170.0" height="1.02" fill="url(#f61)"/><rect x="486.5" y="263" width="170.0" height="1.02" fill="url(#f62)"/><rect x="486.5" y="264" width="170.0" height="1.02" fill="url(#f63)"/><rect x="486.5" y="265" width="170.0" height="1.02" fill="url(#f64)"/><rect x="486.5" y="266" width="170.0" height="1.02" fill="url(#f65)"/><rect x="486.5" y="267" width="170.0" height="1.02" fill="url(#f66)"/><rect x="486.5" y="268" width="170.0" height="1.02" fill="url(#f67)"/><rect x="486.5" y="269" width="170.0" height="1.02" fill="url(#f68)"/><rect x="486.5" y="270" width="170.0" height="1.02" fill="url(#f69)"/><rect x="486.5" y="271" width="170.0" height="1.02" fill="url(#f70)"/><rect x="486.5" y="272" width="170.0" height="1.02" fill="url(#f71)"/><rect x="486.5" y="273" width="170.0" height="1.02" fill="url(#f72)"/><rect x="486.5" y="274" width="170.0" height="1.02" fill="url(#f73)"/><rect x="486.5" y="275" width="170.0" height="1.02" fill="url(#f74)"/><rect x="486.5" y="276" width="170.0" height="1.02" fill="url(#f75)"/><rect x="486.5" y="277" width="170.0" height="1.02" fill="url(#f76)"/><rect x="486.5" y="278" width="170.0" height="1.02" fill="url(#f77)"/><rect x="486.5" y="279" width="170.0" height="1.02" fill="url(#f78)"/><rect x="486.5" y="280" width="170.0" height="1.02" fill="url(#f79)"/><rect x="486.5" y="281" width="170.0" height="1.02" fill="url(#f80)"/><rect x="486.5" y="282" width="170.0" height="1.02" fill="url(#f81)"/><rect x="486.5" y="283" width="170.0" height="1.02" fill="url(#f82)"/><rect x="486.5" y="284" width="170.0" height="1.02" fill="url(#f83)"/><rect x="486.5" y="285" width="170.0" height="1.02" fill="url(#f84)"/><rect x="486.5" y="286" width="170.0" height="1.02" fill="url(#f85)"/><rect x="486.5" y="290" width="170.0" height="1.02" fill="url(#f86)"/><rect x="486.5" y="291" width="170.0" height="1.02" fill="url(#f87)"/><rect x="486.5" y="292" width="170.0" height="1.02" fill="url(#f88)"/><rect x="486.5" y="293" width="170.0" height="1.02" fill="url(#f89)"/><rect x="486.5" y="294" width="170.0" height="1.02" fill="url(#f90)"/><rect x="486.5" y="295" width="170.0" height="1.02" fill="url(#f91)"/><rect x="486.5" y="296" width="170.0" height="1.02" fill="url(#f92)"/><rect x="486.5" y="297" width="170.0" height="1.02" fill="url(#f93)"/><rect x="486.5" y="298" width="170.0" height="1.02" fill="url(#f94)"/><rect x="486.5" y="299" width="170.0" height="1.02" fill="url(#f95)"/><rect x="486.5" y="300" width="170.0" height="1.02" fill="url(#f96)"/><rect x="486.5" y="301" width="170.0" height="1.02" fill="url(#f97)"/><rect x="486.5" y="302" width="170.0" height="1.02" fill="url(#f98)"/><rect x="486.5" y="303" width="170.0" height="1.02" fill="url(#f99)"/><rect x="486.5" y="304" width="170.0" height="1.02" fill="url(#f100)"/><rect x="486.5" y="305" width="170.0" height="1.02" fill="url(#f101)"/><rect x="486.5" y="306" width="170.0" height="1.02" fill="url(#f102)"/><rect x="486.5" y="307" width="170.0" height="1.02" fill="url(#f103)"/><rect x="486.5" y="308" width="170.0" height="1.02" fill="url(#f104)"/><rect x="486.5" y="309" width="170.0" height="1.02" fill="url(#f105)"/><rect x="486.5" y="310" width="170.0" height="1.02" fill="url(#f106)"/><rect x="486.5" y="311" width="170.0" height="1.02" fill="url(#f107)"/><rect x="486.5" y="312" width="170.0" height="1.02" fill="url(#f108)"/><rect x="486.5" y="313" width="170.0" height="1.02" fill="url(#f109)"/><rect x="486.5" y="314" width="170.0" height="1.02" fill="url(#f110)"/><rect x="486.5" y="315" width="170.0" height="1.02" fill="url(#f111)"/><rect x="486.5" y="316" width="170.0" height="1.02" fill="url(#f112)"/><rect x="486.5" y="317" width="170.0" height="1.02" fill="url(#f113)"/><rect x="486.5" y="318" width="170.0" height="1.02" fill="url(#f114)"/><rect x="486.5" y="319" width="170.0" height="1.02" fill="url(#f115)"/><rect x="486.5" y="320" width="170.0" height="1.02" fill="url(#f116)"/><rect x="486.5" y="321" width="170.0" height="1.02" fill="url(#f117)"/><rect x="486.5" y="322" width="170.0" height="1.02" fill="url(#f118)"/><rect x="486.5" y="323" width="170.0" height="1.02" fill="url(#f119)"/><rect x="486.5" y="324" width="170.0" height="1.02" fill="url(#f120)"/><rect x="486.5" y="325" width="170.0" height="1.02" fill="url(#f121)"/>
<rect x="486.5" y="287" width="170.00" height="3" fill="#fff"/>
<path d="M486.5,200.8 H656.5 V325.6 H486.5 Z" fill="none" stroke="#231f20" stroke-width="1"/>
<line x1="482.50" y1="200.60" x2="486.50" y2="200.60" stroke="#231f20" stroke-width="1.0" />
<line x1="482.50" y1="222.20" x2="486.50" y2="222.20" stroke="#231f20" stroke-width="1.0" />
<line x1="482.50" y1="243.80" x2="486.50" y2="243.80" stroke="#231f20" stroke-width="1.0" />
<line x1="482.50" y1="265.40" x2="486.50" y2="265.40" stroke="#231f20" stroke-width="1.0" />
<line x1="484.50" y1="211.40" x2="486.50" y2="211.40" stroke="#231f20" stroke-width="1.0" />
<line x1="484.50" y1="233.00" x2="486.50" y2="233.00" stroke="#231f20" stroke-width="1.0" />
<line x1="484.50" y1="254.60" x2="486.50" y2="254.60" stroke="#231f20" stroke-width="1.0" />
<line x1="484.50" y1="276.20" x2="486.50" y2="276.20" stroke="#231f20" stroke-width="1.0" />
<text x="478.1" y="203.9" font-size="9" text-anchor="end" fill="#1a1a1a" >4000</text>
<text x="478.1" y="225.5" font-size="9" text-anchor="end" fill="#1a1a1a" >3000</text>
<text x="478.1" y="247.1" font-size="9" text-anchor="end" fill="#1a1a1a" >2000</text>
<text x="478.1" y="268.7" font-size="9" text-anchor="end" fill="#1a1a1a" >1000</text>
<line x1="482.50" y1="298.60" x2="486.50" y2="298.60" stroke="#231f20" stroke-width="1.0" />
<line x1="482.50" y1="325.60" x2="486.50" y2="325.60" stroke="#231f20" stroke-width="1.0" />
<line x1="484.50" y1="317.47" x2="486.50" y2="317.47" stroke="#231f20" stroke-width="1.0" />
<line x1="484.50" y1="312.72" x2="486.50" y2="312.72" stroke="#231f20" stroke-width="1.0" />
<line x1="484.50" y1="309.34" x2="486.50" y2="309.34" stroke="#231f20" stroke-width="1.0" />
<line x1="484.50" y1="306.73" x2="486.50" y2="306.73" stroke="#231f20" stroke-width="1.0" />
<line x1="484.50" y1="304.59" x2="486.50" y2="304.59" stroke="#231f20" stroke-width="1.0" />
<line x1="484.50" y1="302.78" x2="486.50" y2="302.78" stroke="#231f20" stroke-width="1.0" />
<line x1="484.50" y1="301.22" x2="486.50" y2="301.22" stroke="#231f20" stroke-width="1.0" />
<line x1="484.50" y1="299.84" x2="486.50" y2="299.84" stroke="#231f20" stroke-width="1.0" />
<line x1="484.50" y1="290.47" x2="486.50" y2="290.47" stroke="#231f20" stroke-width="1.0" />
<text x="472.5" y="301.9" font-size="9" text-anchor="middle" fill="#1a1a1a">10<tspan font-size="6.3" dy="-3.4">0</tspan></text>
<text x="472.5" y="328.9" font-size="9" text-anchor="middle" fill="#1a1a1a">10<tspan font-size="6.3" dy="-3.4">-1</tspan></text>
<path d="M481.5,288.4 L491.5,286.2 M481.5,291.0 L491.5,288.8" stroke="#231f20" stroke-width="0.9" fill="none"/>
<rect x="485.9" y="288.2" width="1.2" height="1.6" fill="#fff"/>
<path d="M651.5,288.4 L661.5,286.2 M651.5,291.0 L661.5,288.8" stroke="#231f20" stroke-width="0.9" fill="none"/>
<rect x="655.9" y="288.2" width="1.2" height="1.6" fill="#fff"/>
<line x1="486.50" y1="325.60" x2="486.50" y2="330.10" stroke="#231f20" stroke-width="1.0" />
<line x1="520.50" y1="325.60" x2="520.50" y2="330.10" stroke="#231f20" stroke-width="1.0" />
<line x1="554.50" y1="325.60" x2="554.50" y2="330.10" stroke="#231f20" stroke-width="1.0" />
<line x1="588.50" y1="325.60" x2="588.50" y2="330.10" stroke="#231f20" stroke-width="1.0" />
<line x1="622.50" y1="325.60" x2="622.50" y2="330.10" stroke="#231f20" stroke-width="1.0" />
<line x1="656.50" y1="325.60" x2="656.50" y2="330.10" stroke="#231f20" stroke-width="1.0" />
<line x1="503.50" y1="325.60" x2="503.50" y2="327.90" stroke="#231f20" stroke-width="1.0" />
<line x1="537.50" y1="325.60" x2="537.50" y2="327.90" stroke="#231f20" stroke-width="1.0" />
<line x1="571.50" y1="325.60" x2="571.50" y2="327.90" stroke="#231f20" stroke-width="1.0" />
<line x1="605.50" y1="325.60" x2="605.50" y2="327.90" stroke="#231f20" stroke-width="1.0" />
<line x1="639.50" y1="325.60" x2="639.50" y2="327.90" stroke="#231f20" stroke-width="1.0" />
<text x="486.5" y="341.5" font-size="9" text-anchor="middle" fill="#1a1a1a" >1350</text>
<text x="520.5" y="341.5" font-size="9" text-anchor="middle" fill="#1a1a1a" >1400</text>
<text x="554.5" y="341.5" font-size="9" text-anchor="middle" fill="#1a1a1a" >1450</text>
<text x="588.5" y="341.5" font-size="9" text-anchor="middle" fill="#1a1a1a" >1500</text>
<text x="622.5" y="341.5" font-size="9" text-anchor="middle" fill="#1a1a1a" >1550</text>
<text x="656.5" y="341.5" font-size="9" text-anchor="middle" fill="#1a1a1a" >1600</text>
<text x="581.3" y="359.6" font-size="9.2" text-anchor="middle" fill="#1a1a1a" >Wavelength (nm)</text>
<text transform="translate(453.4,262.4) rotate(-90)" font-size="9.2" text-anchor="middle" fill="#1a1a1a" textLength="95.8" lengthAdjust="spacingAndGlyphs">Pump-Probe Delay (ps)</text>
<text x="498.8" y="194.6" font-size="9.6" text-anchor="start" fill="#1a1a1a" >ZnSO<tspan font-size="6.5" dy="2.2">4</tspan><tspan dy="-2.2">/MA</tspan></text>
<defs><linearGradient id="cb" x1="0" y1="0" x2="0" y2="1"><stop offset="0.00" stop-color="#7a0403"/><stop offset="0.05" stop-color="#a11201"/><stop offset="0.10" stop-color="#c32503"/><stop offset="0.15" stop-color="#dd3d08"/><stop offset="0.20" stop-color="#f05b12"/><stop offset="0.25" stop-color="#fb7e21"/><stop offset="0.30" stop-color="#fea431"/><stop offset="0.35" stop-color="#f6c33a"/><stop offset="0.40" stop-color="#e1dd37"/><stop offset="0.45" stop-color="#c3f134"/><stop offset="0.50" stop-color="#a4fc3c"/><stop offset="0.55" stop-color="#79fe59"/><stop offset="0.60" stop-color="#46f884"/><stop offset="0.65" stop-color="#20eaac"/><stop offset="0.70" stop-color="#19d5cd"/><stop offset="0.75" stop-color="#28bceb"/><stop offset="0.80" stop-color="#3e9bfe"/><stop offset="0.85" stop-color="#477bf2"/><stop offset="0.90" stop-color="#4559cb"/><stop offset="0.95" stop-color="#3d358b"/><stop offset="1.00" stop-color="#30123b"/></linearGradient></defs>
<rect x="668.2" y="213" width="5.5" height="100.3" fill="url(#cb)"/>
<text x="670.9" y="209.8" font-size="9" text-anchor="middle" fill="#1a1a1a" >30</text>
<text x="668.9" y="322.7" font-size="9" text-anchor="middle" fill="#1a1a1a" >-15</text>
<text transform="translate(677.9,264.9) rotate(90)" font-size="8.4" text-anchor="middle" fill="#1a1a1a" textLength="111" lengthAdjust="spacingAndGlyphs">Change in absorbance (ΔmOD)</text>
</svg></body></html>
